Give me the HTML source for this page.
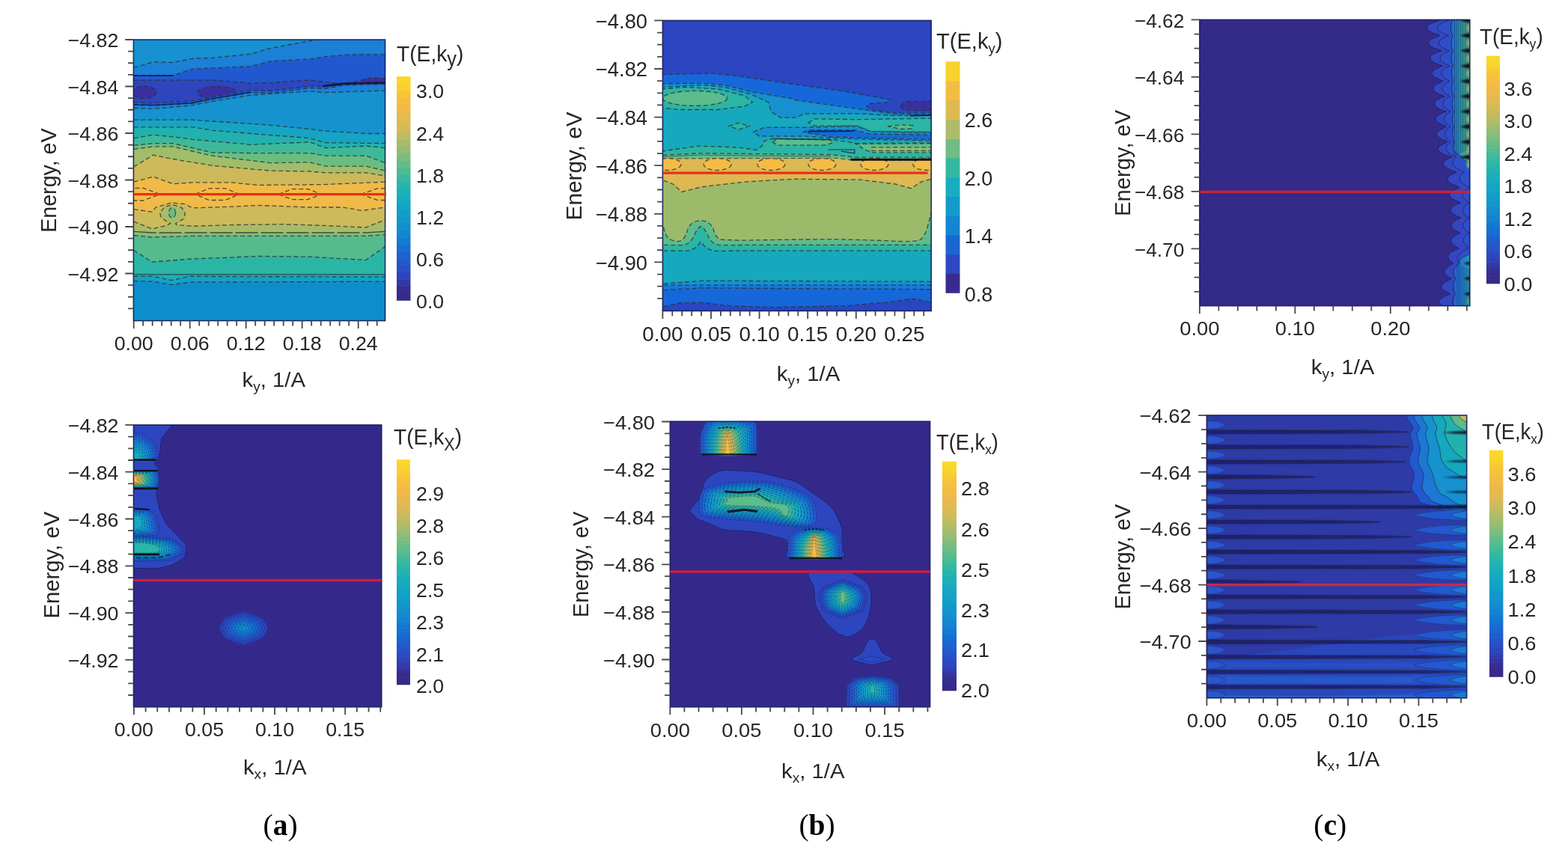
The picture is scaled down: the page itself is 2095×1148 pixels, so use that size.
<!DOCTYPE html>
<html lang="en"><head><meta charset="utf-8"><title>Transmission maps T(E,k)</title>
<style>
html,body{margin:0;padding:0;background:#fff;}
body{width:2095px;height:1148px;overflow:hidden;}
svg{display:block;font-family:'Liberation Sans', 'DejaVu Sans', sans-serif;}
</style></head><body>
<svg width="2095" height="1148" viewBox="0 0 2095 1148">
<rect width="2095" height="1148" fill="#fff"/>
<defs><filter id="blf" filterUnits="userSpaceOnUse" x="0" y="0" width="2095" height="1148"><feGaussianBlur stdDeviation="0.9"/></filter><filter id="bll" filterUnits="userSpaceOnUse" x="0" y="0" width="2095" height="1148"><feGaussianBlur stdDeviation="0.5"/></filter></defs>
<g id="plot1">
<clipPath id="cp1"><rect x="178.4" y="53" width="336.2" height="375.6"/></clipPath>
<g clip-path="url(#cp1)">
<rect x="174.4" y="49" width="344.2" height="383.6" fill="#1791d0"/>
<path d="M176.4 90.5 L178.7 90.5 L204.8 82.7 L231 83.6 L257.1 78.3 L283.2 77.5 L335.5 72.2 L361.6 64.4 L413.9 54.8 L422.6 52.2 L514.9 52.2 L516.6 52.2 L516.6 430.6 L176.4 430.6Z" fill="#1a80d6" filter="url(#blf)"/>
<path d="M178.7 90.5 L204.8 82.7 L231 83.6 L257.1 78.3 L283.2 77.5 L335.5 72.2 L361.6 64.4 L413.9 54.8 L422.6 52.2 L514.9 52.2" fill="none" stroke="#2a3030" stroke-width="1.3" stroke-opacity="0.8" stroke-dasharray="6 3.5"/>
<path d="M176.4 101 L178.7 101 L231 101 L257.1 92.3 L335.5 88.8 L361.6 81.8 L413.9 79.2 L434.8 75.7 L466.2 73.1 L514.9 73.1 L516.6 73.1 L516.6 430.6 L176.4 430.6Z" fill="#2259cf" filter="url(#blf)"/>
<path d="M178.7 101 L231 101 L257.1 92.3 L335.5 88.8 L361.6 81.8 L413.9 79.2 L434.8 75.7 L466.2 73.1 L514.9 73.1" fill="none" stroke="#2a3030" stroke-width="1.3" stroke-opacity="0.8" stroke-dasharray="6 3.5"/>
<path d="M176.4 107.1 L178.7 107.1 L283.2 107.1 L335.5 111.4 L361.6 110.6 L413.9 107.1 L434.8 109.7 L457.5 112.3 L488.8 106.2 L514.9 105.3 L516.6 105.3 L516.6 430.6 L176.4 430.6Z" fill="#2f45be" filter="url(#blf)"/>
<path d="M178.7 107.1 L283.2 107.1 L335.5 111.4 L361.6 110.6 L413.9 107.1 L434.8 109.7 L457.5 112.3 L488.8 106.2 L514.9 105.3" fill="none" stroke="#2a3030" stroke-width="1.3" stroke-opacity="0.8" stroke-dasharray="6 3.5"/>
<ellipse cx="192.6" cy="123.3" rx="16" ry="8" fill="#3a2f9e" filter="url(#blf)"/>
<ellipse cx="192.6" cy="123.3" rx="16" ry="8" fill="none" stroke="#2a3030" stroke-width="1.3" stroke-opacity="0.8" stroke-dasharray="6 3.5"/>
<ellipse cx="290.2" cy="123.6" rx="26" ry="8" fill="#3a2f9e" filter="url(#blf)"/>
<ellipse cx="290.2" cy="123.6" rx="26" ry="8" fill="none" stroke="#2a3030" stroke-width="1.3" stroke-opacity="0.8" stroke-dasharray="6 3.5"/>
<ellipse cx="501" cy="108.8" rx="18" ry="4.5" fill="#3a2f9e" filter="url(#blf)"/>
<ellipse cx="501" cy="108.8" rx="18" ry="4.5" fill="none" stroke="#2a3030" stroke-width="1.3" stroke-opacity="0.8" stroke-dasharray="6 3.5"/>
<path d="M176.4 136.7 L178.7 136.7 L204.8 137.6 L257.1 134.9 L283.2 129.7 L335.5 120.1 L361.6 121 L413.9 114.9 L434.8 114.9 L457.5 111.4 L514.9 110.6 L516.6 110.6 L516.6 430.6 L176.4 430.6Z" fill="#2259cf" filter="url(#blf)"/>
<path d="M178.7 136.7 L204.8 137.6 L257.1 134.9 L283.2 129.7 L335.5 120.1 L361.6 121 L413.9 114.9 L434.8 114.9 L457.5 111.4 L514.9 110.6" fill="none" stroke="#2a3030" stroke-width="1.3" stroke-opacity="0.8" stroke-dasharray="6 3.5"/>
<path d="M176.4 140.2 L178.7 140.2 L204.8 141 L257.1 137.9 L283.2 132.3 L335.5 123.6 L361.6 124.5 L413.9 117.5 L434.8 118.4 L457.5 114 L514.9 112.3 L516.6 112.3 L516.6 430.6 L176.4 430.6Z" fill="#1a80d6" filter="url(#blf)"/>
<path d="M178.7 140.2 L204.8 141 L257.1 137.9 L283.2 132.3 L335.5 123.6 L361.6 124.5 L413.9 117.5 L434.8 118.4 L457.5 114 L514.9 112.3" fill="none" stroke="#2a3030" stroke-width="1.3" stroke-opacity="0.8" stroke-dasharray="6 3.5"/>
<path d="M176.4 144.5 L178.7 144.5 L204.8 145.4 L257.1 140.7 L283.2 135.5 L335.5 127.1 L413.9 121.9 L434.8 123.6 L514.9 121 L516.6 121 L516.6 430.6 L176.4 430.6Z" fill="#1592cf" filter="url(#blf)"/>
<path d="M178.7 144.5 L204.8 145.4 L257.1 140.7 L283.2 135.5 L335.5 127.1 L413.9 121.9 L434.8 123.6 L514.9 121" fill="none" stroke="#2a3030" stroke-width="1.3" stroke-opacity="0.8" stroke-dasharray="6 3.5"/>
<path d="M178.7 101.3 L231 101.3" fill="none" stroke="#0a1030" stroke-width="1.6" stroke-opacity="0.8" filter="url(#bll)"/>
<path d="M431.3 115.3 L457.5 112 L488.8 111.1 L514.9 110.7" fill="none" stroke="#0a0c20" stroke-width="2.4" stroke-opacity="0.85" filter="url(#bll)"/>
<path d="M178.7 139.7 L204.8 140.5 L257.1 137.6 L283.2 132 L335.5 122.9" fill="none" stroke="#0a1030" stroke-width="1.6" stroke-opacity="0.6" filter="url(#bll)"/>
<path d="M176.4 160.2 L178.7 160.2 L257.1 160.2 L283.2 162 L335.5 165.4 L361.6 167.2 L413.9 172.4 L434.8 175 L488.8 178.5 L514.9 178.5 L516.6 178.5 L516.6 430.6 L176.4 430.6Z" fill="#13a4c5" filter="url(#blf)"/>
<path d="M178.7 160.2 L257.1 160.2 L283.2 162 L335.5 165.4 L361.6 167.2 L413.9 172.4 L434.8 175 L488.8 178.5 L514.9 178.5" fill="none" stroke="#2a3030" stroke-width="1.3" stroke-opacity="0.8" stroke-dasharray="6 3.5"/>
<path d="M176.4 169.8 L178.7 169.8 L257.1 169.8 L283.2 174.1 L335.5 178.5 L413.9 184.6 L434.8 190.7 L514.9 191.6 L516.6 191.6 L516.6 430.6 L176.4 430.6Z" fill="#22b1ae" filter="url(#blf)"/>
<path d="M178.7 169.8 L257.1 169.8 L283.2 174.1 L335.5 178.5 L413.9 184.6 L434.8 190.7 L514.9 191.6" fill="none" stroke="#2a3030" stroke-width="1.3" stroke-opacity="0.8" stroke-dasharray="6 3.5"/>
<path d="M176.4 184.6 L178.7 184.6 L204.8 180.2 L231 182.9 L257.1 186.3 L335.5 193.3 L413.9 189.8 L434.8 197.7 L488.8 195.1 L514.9 197.7 L516.6 197.7 L516.6 430.6 L176.4 430.6Z" fill="#3db99a" filter="url(#blf)"/>
<path d="M178.7 184.6 L204.8 180.2 L231 182.9 L257.1 186.3 L335.5 193.3 L413.9 189.8 L434.8 197.7 L488.8 195.1 L514.9 197.7" fill="none" stroke="#2a3030" stroke-width="1.3" stroke-opacity="0.8" stroke-dasharray="6 3.5"/>
<path d="M176.4 194.2 L178.7 194.2 L204.8 191.6 L231 191.6 L257.1 197.7 L283.2 203.8 L335.5 204.6 L413.9 204.6 L434.8 208.1 L488.8 208.1 L514.9 217.7 L516.6 217.7 L516.6 430.6 L176.4 430.6Z" fill="#6bbd80" filter="url(#blf)"/>
<path d="M178.7 194.2 L204.8 191.6 L231 191.6 L257.1 197.7 L283.2 203.8 L335.5 204.6 L413.9 204.6 L434.8 208.1 L488.8 208.1 L514.9 217.7" fill="none" stroke="#2a3030" stroke-width="1.3" stroke-opacity="0.8" stroke-dasharray="6 3.5"/>
<path d="M176.4 199.4 L178.7 199.4 L204.8 195.9 L231 195.9 L257.1 202 L283.2 208.1 L361.6 217.7 L413.9 216.8 L434.8 222.1 L488.8 222.1 L514.9 228.2 L516.6 228.2 L516.6 430.6 L176.4 430.6Z" fill="#a0bd6a" filter="url(#blf)"/>
<path d="M178.7 199.4 L204.8 195.9 L231 195.9 L257.1 202 L283.2 208.1 L361.6 217.7 L413.9 216.8 L434.8 222.1 L488.8 222.1 L514.9 228.2" fill="none" stroke="#2a3030" stroke-width="1.3" stroke-opacity="0.8" stroke-dasharray="6 3.5"/>
<path d="M176.4 222.9 L178.7 222.9 L204.8 207.2 L231 212.5 L283.2 221.2 L361.6 228.2 L413.9 229 L434.8 230.8 L488.8 230.8 L514.9 235.1 L516.6 235.1 L516.6 430.6 L176.4 430.6Z" fill="#cdb95a" filter="url(#blf)"/>
<path d="M178.7 222.9 L204.8 207.2 L231 212.5 L283.2 221.2 L361.6 228.2 L413.9 229 L434.8 230.8 L488.8 230.8 L514.9 235.1" fill="none" stroke="#2a3030" stroke-width="1.3" stroke-opacity="0.8" stroke-dasharray="6 3.5"/>
<path d="M176.4 243.1 L178.7 243.1 L204.8 236.1 L231 245.7 L257.1 243.9 L309.4 243.9 L344.2 247.4 L431.3 246.6 L514.9 243.1 L516.6 243.1 L516.6 430.6 L176.4 430.6Z" fill="#f0ba4a" filter="url(#blf)"/>
<path d="M178.7 243.1 L204.8 236.1 L231 245.7 L257.1 243.9 L309.4 243.9 L344.2 247.4 L431.3 246.6 L514.9 243.1" fill="none" stroke="#2a3030" stroke-width="1.3" stroke-opacity="0.8" stroke-dasharray="6 3.5"/>
<path d="M143.9 259.6 L166.2 251.3 L191.3 251.3 L213.6 259.6 L191.3 268 L166.2 268Z" fill="#f6bc42" filter="url(#blf)"/>
<path d="M143.9 259.6 L166.2 251.3 L191.3 251.3 L213.6 259.6 L191.3 268 L166.2 268Z" fill="none" stroke="#2a3030" stroke-width="1.3" stroke-opacity="0.8" stroke-dasharray="6 3.5"/>
<path d="M260.6 259.6 L279.5 251.8 L300.9 251.8 L319.8 259.6 L300.9 267.5 L279.5 267.5Z" fill="#f6bc42" filter="url(#blf)"/>
<path d="M260.6 259.6 L279.5 251.8 L300.9 251.8 L319.8 259.6 L300.9 267.5 L279.5 267.5Z" fill="none" stroke="#2a3030" stroke-width="1.3" stroke-opacity="0.8" stroke-dasharray="6 3.5"/>
<path d="M372.1 259.6 L390.5 252.6 L411.2 252.6 L429.6 259.6 L411.2 266.6 L390.5 266.6Z" fill="#f6bc42" filter="url(#blf)"/>
<path d="M372.1 259.6 L390.5 252.6 L411.2 252.6 L429.6 259.6 L411.2 266.6 L390.5 266.6Z" fill="none" stroke="#2a3030" stroke-width="1.3" stroke-opacity="0.8" stroke-dasharray="6 3.5"/>
<path d="M481.8 259.6 L504.7 251.8 L530.4 251.8 L553.3 259.6 L530.4 267.5 L504.7 267.5Z" fill="#f6bc42" filter="url(#blf)"/>
<path d="M481.8 259.6 L504.7 251.8 L530.4 251.8 L553.3 259.6 L530.4 267.5 L504.7 267.5Z" fill="none" stroke="#2a3030" stroke-width="1.3" stroke-opacity="0.8" stroke-dasharray="6 3.5"/>
<path d="M176.4 279.7 L178.7 279.7 L203.1 283.1 L208.3 277 L229.2 270.9 L246.7 272.7 L257.1 277.9 L309.4 276.2 L344.2 274.4 L413.9 277 L457.5 277 L483.6 281.4 L514.9 277 L516.6 277 L516.6 430.6 L176.4 430.6Z" fill="#cdba5a" filter="url(#blf)"/>
<path d="M178.7 279.7 L203.1 283.1 L208.3 277 L229.2 270.9 L246.7 272.7 L257.1 277.9 L309.4 276.2 L344.2 274.4 L413.9 277 L457.5 277 L483.6 281.4 L514.9 277" fill="none" stroke="#2a3030" stroke-width="1.3" stroke-opacity="0.8" stroke-dasharray="6 3.5"/>
<path d="M176.4 296.2 L178.7 296.2 L203.1 305.8 L222.3 301.4 L227.5 298.8 L215.3 291 L213.6 284 L220.5 276.2 L231 273.6 L243.2 277.9 L247.5 285.7 L244.9 292.7 L234.5 298.8 L236.2 300.6 L257.1 302.3 L309.4 300.6 L379.1 299.7 L431.3 301.4 L488.8 304 L514.9 293.6 L516.6 293.6 L516.6 430.6 L176.4 430.6Z" fill="#a8bc68" filter="url(#blf)"/>
<path d="M178.7 296.2 L203.1 305.8 L222.3 301.4 L227.5 298.8 L215.3 291 L213.6 284 L220.5 276.2 L231 273.6 L243.2 277.9 L247.5 285.7 L244.9 292.7 L234.5 298.8 L236.2 300.6 L257.1 302.3 L309.4 300.6 L379.1 299.7 L431.3 301.4 L488.8 304 L514.9 293.6" fill="none" stroke="#2a3030" stroke-width="1.3" stroke-opacity="0.8" stroke-dasharray="6 3.5"/>
<ellipse cx="230.1" cy="284.4" rx="4.5" ry="6.5" fill="#62bc88" filter="url(#blf)"/>
<ellipse cx="230.1" cy="284.4" rx="4.5" ry="6.5" fill="none" stroke="#2a3030" stroke-width="1.3" stroke-opacity="0.8" stroke-dasharray="6 3.5"/>
<path d="M176.4 309.3 L178.7 309.3 L203.1 311 L488.8 311 L514.9 309.3 L516.6 309.3 L516.6 430.6 L176.4 430.6Z" fill="#85bd78" filter="url(#blf)"/>
<path d="M178.7 309.3 L203.1 311 L488.8 311 L514.9 309.3" fill="none" stroke="#2a3030" stroke-width="1.3" stroke-opacity="0.8" stroke-dasharray="30 4"/>
<path d="M176.4 314.5 L178.7 314.5 L203.1 317.1 L257.1 315.4 L488.8 315.4 L514.9 313.6 L516.6 313.6 L516.6 430.6 L176.4 430.6Z" fill="#55bb8e" filter="url(#blf)"/>
<path d="M178.7 314.5 L203.1 317.1 L257.1 315.4 L488.8 315.4 L514.9 313.6" fill="none" stroke="#2a3030" stroke-width="1.3" stroke-opacity="0.8" stroke-dasharray="6 3.5"/>
<path d="M176.4 334.5 L178.7 334.5 L203.1 350.2 L257.1 345.9 L309.4 344.1 L344.2 342.4 L413.9 343.2 L488.8 347.6 L514.9 329.3 L516.6 329.3 L516.6 430.6 L176.4 430.6Z" fill="#2cb5a5" filter="url(#blf)"/>
<path d="M178.7 334.5 L203.1 350.2 L257.1 345.9 L309.4 344.1 L344.2 342.4 L413.9 343.2 L488.8 347.6 L514.9 329.3" fill="none" stroke="#2a3030" stroke-width="1.3" stroke-opacity="0.8" stroke-dasharray="6 3.5"/>
<path d="M176.4 366.8 L178.7 366.8 L514.9 366.8 L516.6 366.8 L516.6 430.6 L176.4 430.6Z" fill="#1aaeb8" filter="url(#blf)"/>
<path d="M178.7 366.8 L514.9 366.8" fill="none" stroke="#2a3030" stroke-width="1.2" stroke-opacity="0.8"/>
<path d="M176.4 369.4 L178.7 369.4 L204.8 369.4 L229.2 374.6 L253.6 369.4 L514.9 370.2 L516.6 370.2 L516.6 430.6 L176.4 430.6Z" fill="#15a0c6" filter="url(#blf)"/>
<path d="M178.7 369.4 L204.8 369.4 L229.2 374.6 L253.6 369.4 L514.9 370.2" fill="none" stroke="#2a3030" stroke-width="1.3" stroke-opacity="0.8" stroke-dasharray="6 3.5"/>
<path d="M176.4 375.5 L178.7 375.5 L204.8 376.3 L229.2 380.7 L253.6 377.2 L514.9 376.3 L516.6 376.3 L516.6 430.6 L176.4 430.6Z" fill="#0d8ecb" filter="url(#blf)"/>
<path d="M178.7 375.5 L204.8 376.3 L229.2 380.7 L253.6 377.2 L514.9 376.3" fill="none" stroke="#2a3030" stroke-width="1.3" stroke-opacity="0.8" stroke-dasharray="6 3.5"/>
</g>
<rect x="178.4" y="53" width="336.2" height="375.6" fill="none" stroke="#141c58" stroke-width="1.6" stroke-opacity="0.9"/>
</g>
<path d="M178.7 259.6H516" stroke="#e8301a" stroke-width="3.4" fill="none"/>
<path d="M167.2 53H178.4M167.2 115.5H178.4M167.2 178H178.4M167.2 240.5H178.4M167.2 303H178.4M167.2 365.5H178.4M171.1 68.625H178.4M171.1 84.25H178.4M171.1 99.875H178.4M171.1 131.125H178.4M171.1 146.75H178.4M171.1 162.375H178.4M171.1 193.625H178.4M171.1 209.25H178.4M171.1 224.875H178.4M171.1 256.125H178.4M171.1 271.75H178.4M171.1 287.375H178.4M171.1 318.625H178.4M171.1 334.25H178.4M171.1 349.875H178.4M171.1 381.125H178.4M171.1 396.75H178.4M171.1 412.375H178.4" stroke="#484848" stroke-width="1.8" fill="none"/>
<text transform="translate(158.3 63.008) scale(1.03 1)" font-size="26" text-anchor="end" fill="#262626">−4.82</text>
<text transform="translate(158.3 125.508) scale(1.03 1)" font-size="26" text-anchor="end" fill="#262626">−4.84</text>
<text transform="translate(158.3 188.008) scale(1.03 1)" font-size="26" text-anchor="end" fill="#262626">−4.86</text>
<text transform="translate(158.3 250.508) scale(1.03 1)" font-size="26" text-anchor="end" fill="#262626">−4.88</text>
<text transform="translate(158.3 313.008) scale(1.03 1)" font-size="26" text-anchor="end" fill="#262626">−4.90</text>
<text transform="translate(158.3 375.508) scale(1.03 1)" font-size="26" text-anchor="end" fill="#262626">−4.92</text>
<path d="M178.7 428.6V439.1M253.7 428.6V439.1M328.7 428.6V439.1M403.7 428.6V439.1M478.7 428.6V439.1M191.2 428.6V435.4M203.7 428.6V435.4M216.2 428.6V435.4M228.7 428.6V435.4M241.2 428.6V435.4M266.2 428.6V435.4M278.7 428.6V435.4M291.2 428.6V435.4M303.7 428.6V435.4M316.2 428.6V435.4M341.2 428.6V435.4M353.7 428.6V435.4M366.2 428.6V435.4M378.7 428.6V435.4M391.2 428.6V435.4M416.2 428.6V435.4M428.7 428.6V435.4M441.2 428.6V435.4M453.7 428.6V435.4M466.2 428.6V435.4M491.2 428.6V435.4M503.7 428.6V435.4" stroke="#484848" stroke-width="1.8" fill="none"/>
<text transform="translate(178.7 467.8) scale(1.03 1)" font-size="26" text-anchor="middle" fill="#262626">0.00</text>
<text transform="translate(253.7 467.8) scale(1.03 1)" font-size="26" text-anchor="middle" fill="#262626">0.06</text>
<text transform="translate(328.7 467.8) scale(1.03 1)" font-size="26" text-anchor="middle" fill="#262626">0.12</text>
<text transform="translate(403.7 467.8) scale(1.03 1)" font-size="26" text-anchor="middle" fill="#262626">0.18</text>
<text transform="translate(478.7 467.8) scale(1.03 1)" font-size="26" text-anchor="middle" fill="#262626">0.24</text>
<text transform="translate(75.3 241.1) rotate(-90) scale(0.97 1)" font-size="29.5" text-anchor="middle" fill="#262626">Energy, eV</text>
<text transform="translate(365.8 517.1) scale(1.03 1)" font-size="28.5" text-anchor="middle" fill="#262626">k<tspan font-size="18.5" dy="6">y</tspan><tspan dy="-6">, 1/A</tspan></text>
<rect x="530" y="391.86" width="18.5" height="9.94" fill="#362b89"/>
<rect x="530" y="382.51" width="18.5" height="9.94" fill="#372d8e"/>
<rect x="530" y="373.17" width="18.5" height="9.94" fill="#3338a5"/>
<rect x="530" y="363.82" width="18.5" height="9.94" fill="#2f43ba"/>
<rect x="530" y="354.48" width="18.5" height="9.94" fill="#294ec5"/>
<rect x="530" y="345.14" width="18.5" height="9.94" fill="#2359cc"/>
<rect x="530" y="335.79" width="18.5" height="9.94" fill="#1d64d0"/>
<rect x="530" y="326.45" width="18.5" height="9.94" fill="#1770d1"/>
<rect x="530" y="317.11" width="18.5" height="9.94" fill="#147bd1"/>
<rect x="530" y="307.76" width="18.5" height="9.94" fill="#1486d0"/>
<rect x="530" y="298.42" width="18.5" height="9.94" fill="#148fce"/>
<rect x="530" y="289.07" width="18.5" height="9.94" fill="#1397cb"/>
<rect x="530" y="279.73" width="18.5" height="9.94" fill="#129ec9"/>
<rect x="530" y="270.39" width="18.5" height="9.94" fill="#14a4c4"/>
<rect x="530" y="261.04" width="18.5" height="9.94" fill="#17abbf"/>
<rect x="530" y="251.70" width="18.5" height="9.94" fill="#1db0b6"/>
<rect x="530" y="242.36" width="18.5" height="9.94" fill="#27b5ab"/>
<rect x="530" y="233.01" width="18.5" height="9.94" fill="#38b89f"/>
<rect x="530" y="223.67" width="18.5" height="9.94" fill="#4dbb93"/>
<rect x="530" y="214.32" width="18.5" height="9.94" fill="#64bc88"/>
<rect x="530" y="204.98" width="18.5" height="9.94" fill="#7cbd7e"/>
<rect x="530" y="195.64" width="18.5" height="9.94" fill="#93bd74"/>
<rect x="530" y="186.29" width="18.5" height="9.94" fill="#a9bc6a"/>
<rect x="530" y="176.95" width="18.5" height="9.94" fill="#bdbc61"/>
<rect x="530" y="167.61" width="18.5" height="9.94" fill="#d0ba5a"/>
<rect x="530" y="158.26" width="18.5" height="9.94" fill="#deba53"/>
<rect x="530" y="148.92" width="18.5" height="9.94" fill="#e8b94e"/>
<rect x="530" y="139.57" width="18.5" height="9.94" fill="#f1ba48"/>
<rect x="530" y="130.23" width="18.5" height="9.94" fill="#f5be41"/>
<rect x="530" y="120.89" width="18.5" height="9.94" fill="#f8c538"/>
<rect x="530" y="111.54" width="18.5" height="9.94" fill="#f9d02f"/>
<rect x="530" y="102.20" width="18.5" height="9.94" fill="#fad72a"/>
<text transform="translate(556 131.308) scale(1.03 1)" font-size="26" text-anchor="start" fill="#262626">3.0</text>
<text transform="translate(556 187.808) scale(1.03 1)" font-size="26" text-anchor="start" fill="#262626">2.4</text>
<text transform="translate(556 244.308) scale(1.03 1)" font-size="26" text-anchor="start" fill="#262626">1.8</text>
<text transform="translate(556 300.308) scale(1.03 1)" font-size="26" text-anchor="start" fill="#262626">1.2</text>
<text transform="translate(556 356.308) scale(1.03 1)" font-size="26" text-anchor="start" fill="#262626">0.6</text>
<text transform="translate(556 412.308) scale(1.03 1)" font-size="26" text-anchor="start" fill="#262626">0.0</text>
<text transform="translate(530 82) scale(0.94 1)" font-size="30" text-anchor="start" fill="#262626">T(E,k<tspan font-size="27" dy="6">y</tspan><tspan dy="-6">)</tspan></text>
<g id="plot2">
<clipPath id="cp2"><rect x="885.4" y="27.4" width="358.8" height="388.1"/></clipPath>
<g clip-path="url(#cp2)">
<rect x="881.4" y="23.4" width="366.8" height="396.1" fill="#2c45c0"/>
<path d="M883.5 99.6 L950.7 97.8 L986.1 101.4 L1056.9 112 L1127.6 121.7 L1189.5 133.2 L1187.7 136.7 L1163 138.5 L1157.7 142 L1163 146.5 L1198.4 150.9 L1246.1 150.9 L1246.1 214.6 L883.5 214.6Z" fill="#1268da" filter="url(#blf)"/>
<path d="M883.5 99.6 L950.7 97.8 L986.1 101.4 L1056.9 112 L1127.6 121.7 L1189.5 133.2 L1187.7 136.7 L1163 138.5 L1157.7 142 L1163 146.5 L1198.4 150.9 L1246.1 150.9 L1246.1 214.6 L883.5 214.6Z" fill="none" stroke="#2a3030" stroke-width="1.3" stroke-opacity="0.8" stroke-dasharray="6 3.5"/>
<path d="M1203.7 142 C1204.3 140.5 1206.3 137.7 1210.7 136.7 C1215.1 135.7 1224.3 135.8 1230.2 135.8 C1236.1 135.8 1243.4 134.9 1246.1 136.7 C1248.8 138.5 1251.1 144.7 1246.1 146.5 C1241.1 148.3 1222.5 147.5 1216 147.3 C1209.5 147.2 1209.2 146.5 1207.2 145.6 C1205.2 144.7 1203.1 143.5 1203.7 142Z" fill="#3a2f9e" filter="url(#blf)"/>
<path d="M1203.7 142 C1204.3 140.5 1206.3 137.7 1210.7 136.7 C1215.1 135.7 1224.3 135.8 1230.2 135.8 C1236.1 135.8 1243.4 134.9 1246.1 136.7 C1248.8 138.5 1251.1 144.7 1246.1 146.5 C1241.1 148.3 1222.5 147.5 1216 147.3 C1209.5 147.2 1209.2 146.5 1207.2 145.6 C1205.2 144.7 1203.1 143.5 1203.7 142Z" fill="none" stroke="#2a3030" stroke-width="1.3" stroke-opacity="0.8" stroke-dasharray="6 3.5"/>
<path d="M883.5 112 L938.4 111.1 L968.4 113.7 L1003.8 122.6 L1056.9 131.4 L1065.7 134.1 L1154.1 146.5 L1198.4 152.6 L1246.1 152.6 L1246.1 214.6 L883.5 214.6Z" fill="#1590cf" filter="url(#blf)"/>
<path d="M883.5 112 L938.4 111.1 L968.4 113.7 L1003.8 122.6 L1056.9 131.4 L1065.7 134.1 L1154.1 146.5 L1198.4 152.6 L1246.1 152.6 L1246.1 214.6 L883.5 214.6Z" fill="none" stroke="#2a3030" stroke-width="1.3" stroke-opacity="0.8" stroke-dasharray="6 3.5"/>
<path d="M883.5 116.4 L938.4 113.7 L968.4 116.4 L1003.8 126.1 L1026.8 136.7 L1030.3 149.1 L1042.7 157.1 L1063.9 157.1 L1074.6 151.8 L1145.3 151.8 L1198.4 154.4 L1246.1 154.4 L1246.1 214.6 L883.5 214.6Z" fill="#14a8bd" filter="url(#blf)"/>
<path d="M883.5 116.4 L938.4 113.7 L968.4 116.4 L1003.8 126.1 L1026.8 136.7 L1030.3 149.1 L1042.7 157.1 L1063.9 157.1 L1074.6 151.8 L1145.3 151.8 L1198.4 154.4 L1246.1 154.4 L1246.1 214.6 L883.5 214.6Z" fill="none" stroke="#2a3030" stroke-width="1.3" stroke-opacity="0.8" stroke-dasharray="6 3.5"/>
<path d="M883.5 119 L915.4 116.4 L959.6 119 L995 127.9 L1005.6 136.7 L995 142 L959.6 146.5 L906.5 146.5 L883.5 143.8Z" fill="#2cb5a5" filter="url(#blf)"/>
<path d="M883.5 119 L915.4 116.4 L959.6 119 L995 127.9 L1005.6 136.7 L995 142 L959.6 146.5 L906.5 146.5 L883.5 143.8Z" fill="none" stroke="#2a3030" stroke-width="1.3" stroke-opacity="0.8" stroke-dasharray="6 3.5"/>
<ellipse cx="928.6" cy="131.4" rx="43" ry="10" fill="#5cbc8c" filter="url(#blf)"/>
<ellipse cx="928.6" cy="131.4" rx="43" ry="10" fill="none" stroke="#2a3030" stroke-width="1.3" stroke-opacity="0.8" stroke-dasharray="6 3.5"/>
<path d="M973.7 168.6 L987 164.1 L1001.2 168.6 L987 173Z" fill="#2cb5a5" filter="url(#blf)"/>
<path d="M973.7 168.6 L987 164.1 L1001.2 168.6 L987 173Z" fill="none" stroke="#2a3030" stroke-width="1.3" stroke-opacity="0.8" stroke-dasharray="6 3.5"/>
<path d="M1079.9 164.1 L1088.7 158.8 L1145.3 159.7 L1246.1 158 L1246.1 176.5 L1163 175.6 L1145.3 168.2 L1088.7 168.2Z" fill="#2cb5a5" filter="url(#blf)"/>
<path d="M1079.9 164.1 L1088.7 158.8 L1145.3 159.7 L1246.1 158 L1246.1 176.5 L1163 175.6 L1145.3 168.2 L1088.7 168.2Z" fill="none" stroke="#2a3030" stroke-width="1.3" stroke-opacity="0.8" stroke-dasharray="6 3.5"/>
<path d="M1186 168.9 L1203.7 166.8 L1219.6 167.7 L1217.8 172.1 L1203.7 172.5Z" fill="#5cbc8c" filter="url(#blf)"/>
<path d="M1186 168.9 L1203.7 166.8 L1219.6 167.7 L1217.8 172.1 L1203.7 172.5Z" fill="none" stroke="#2a3030" stroke-width="1.3" stroke-opacity="0.8" stroke-dasharray="6 3.5"/>
<path d="M1006.5 176.5 L1021.5 170.3 L1074.6 170.3 L1145.3 168.6 L1163 176 L1246.1 177.4 L1246.1 188 L1163 186.3 L1109.9 184.5 L1074.6 181.8 L1014.4 181.8Z" fill="#1590cf" filter="url(#blf)"/>
<path d="M1006.5 176.5 L1021.5 170.3 L1074.6 170.3 L1145.3 168.6 L1163 176 L1246.1 177.4 L1246.1 188 L1163 186.3 L1109.9 184.5 L1074.6 181.8 L1014.4 181.8Z" fill="none" stroke="#2a3030" stroke-width="1.3" stroke-opacity="0.8" stroke-dasharray="6 3.5"/>
<path d="M1072.8 176.5 L1083.4 173.9 L1141.8 173.9 L1163 179.2 L1246.1 180.1 L1246.1 186.3 L1163 184.5 L1109.9 182.7Z" fill="#1268da" filter="url(#blf)"/>
<path d="M1072.8 176.5 L1083.4 173.9 L1141.8 173.9 L1163 179.2 L1246.1 180.1 L1246.1 186.3 L1163 184.5 L1109.9 182.7Z" fill="none" stroke="#2a3030" stroke-width="1.3" stroke-opacity="0.8" stroke-dasharray="6 3.5"/>
<path d="M883.5 202.2 L933.1 195.1 L986.1 196.9 L1010.9 200.4 L1018 195.1 L1021.5 188 L1032.1 185.4 L1109.9 186.3 L1145.3 191.6 L1246.1 190.7 L1246.1 214.6 L883.5 214.6Z" fill="#2cb5a5" filter="url(#blf)"/>
<path d="M883.5 202.2 L933.1 195.1 L986.1 196.9 L1010.9 200.4 L1018 195.1 L1021.5 188 L1032.1 185.4 L1109.9 186.3 L1145.3 191.6 L1246.1 190.7 L1246.1 214.6 L883.5 214.6Z" fill="none" stroke="#2a3030" stroke-width="1.3" stroke-opacity="0.8" stroke-dasharray="6 3.5"/>
<path d="M1032.1 189.8 L1039.2 185.4 L1109.9 187.1 L1113.5 190.7 L1101.1 194.2 L1039.2 194.2Z" fill="#5cbc8c" filter="url(#blf)"/>
<path d="M1032.1 189.8 L1039.2 185.4 L1109.9 187.1 L1113.5 190.7 L1101.1 194.2 L1039.2 194.2Z" fill="none" stroke="#2a3030" stroke-width="1.3" stroke-opacity="0.8" stroke-dasharray="6 3.5"/>
<path d="M1143.5 192.4 L1246.1 191.6 L1246.1 203.9 L1166.5 203.9 L1155.9 200.4Z" fill="#5cbc8c" filter="url(#blf)"/>
<path d="M1143.5 192.4 L1246.1 191.6 L1246.1 203.9 L1166.5 203.9 L1155.9 200.4Z" fill="none" stroke="#2a3030" stroke-width="1.3" stroke-opacity="0.8" stroke-dasharray="6 3.5"/>
<path d="M1164.8 196.9 L1246.1 196.9 L1246.1 201.3 L1164.8 201.3Z" fill="#9cbb6a" filter="url(#blf)"/>
<path d="M1164.8 196.9 L1246.1 196.9 L1246.1 201.3 L1164.8 201.3Z" fill="none" stroke="#2a3030" stroke-width="1.3" stroke-opacity="0.8" stroke-dasharray="6 3.5"/>
<path d="M1106.4 200 L1141.8 200 L1141.8 204.8 L1124.1 202.2" fill="none" stroke="#1d2340" stroke-width="1.2" stroke-opacity="0.9" filter="url(#bll)"/>
<path d="M883.4 207.5 L885.7 207.5 L933.1 204.8 L1021.5 205.7 L1109.9 206.6 L1141.8 210.1 L1246.1 210.1 L1246.2 210.1 L1246.2 417.5 L883.4 417.5Z" fill="#5cbc8c" filter="url(#blf)"/>
<path d="M885.7 207.5 L933.1 204.8 L1021.5 205.7 L1109.9 206.6 L1141.8 210.1 L1246.1 210.1" fill="none" stroke="#2a3030" stroke-width="1.3" stroke-opacity="0.8" stroke-dasharray="6 3.5"/>
<path d="M885.7 209.6 L933.1 207.1 L1021.5 208.2 L1109.9 208.9" fill="none" stroke="#1d2340" stroke-width="0.8" stroke-opacity="0.7" filter="url(#bll)"/>
<path d="M883.4 211.9 L885.7 211.9 L1118.8 211.4 L1136.5 213.7 L1246.1 214.2 L1246.2 214.2 L1246.2 417.5 L883.4 417.5Z" fill="#ddb853" filter="url(#blf)"/>
<path d="M885.7 211.9 L1118.8 211.4 L1136.5 213.7 L1246.1 214.2" fill="none" stroke="#2a3030" stroke-width="1" stroke-opacity="0.85" stroke-dasharray="6 3.5"/>
<path d="M1079.9 175.6 L1141.8 175.3" fill="none" stroke="#0a1030" stroke-width="1.6" stroke-opacity="0.8" filter="url(#bll)"/>
<path d="M1032.1 185.4 L1109.9 186.6" fill="none" stroke="#0a1030" stroke-width="1.4" stroke-opacity="0.7" filter="url(#bll)"/>
<path d="M1216 154.4 L1246.1 153.9" fill="none" stroke="#0a1030" stroke-width="2" stroke-opacity="0.8" filter="url(#bll)"/>
<ellipse cx="891.5" cy="219.5" rx="18.5" ry="8" fill="#f6bb44" filter="url(#blf)"/>
<ellipse cx="891.5" cy="219.5" rx="18.5" ry="8" fill="none" stroke="#2a3030" stroke-width="1.3" stroke-opacity="0.8" stroke-dasharray="6 3.5"/>
<ellipse cx="958.6" cy="219.5" rx="18.5" ry="8" fill="#f6bb44" filter="url(#blf)"/>
<ellipse cx="958.6" cy="219.5" rx="18.5" ry="8" fill="none" stroke="#2a3030" stroke-width="1.3" stroke-opacity="0.8" stroke-dasharray="6 3.5"/>
<ellipse cx="1030.4" cy="219.5" rx="18.5" ry="8" fill="#f6bb44" filter="url(#blf)"/>
<ellipse cx="1030.4" cy="219.5" rx="18.5" ry="8" fill="none" stroke="#2a3030" stroke-width="1.3" stroke-opacity="0.8" stroke-dasharray="6 3.5"/>
<ellipse cx="1098.4" cy="219.5" rx="18.5" ry="8" fill="#f6bb44" filter="url(#blf)"/>
<ellipse cx="1098.4" cy="219.5" rx="18.5" ry="8" fill="none" stroke="#2a3030" stroke-width="1.3" stroke-opacity="0.8" stroke-dasharray="6 3.5"/>
<ellipse cx="1168.4" cy="219.5" rx="18.5" ry="8" fill="#f6bb44" filter="url(#blf)"/>
<ellipse cx="1168.4" cy="219.5" rx="18.5" ry="8" fill="none" stroke="#2a3030" stroke-width="1.3" stroke-opacity="0.8" stroke-dasharray="6 3.5"/>
<ellipse cx="1238.3" cy="219.5" rx="18.5" ry="8" fill="#f6bb44" filter="url(#blf)"/>
<ellipse cx="1238.3" cy="219.5" rx="18.5" ry="8" fill="none" stroke="#2a3030" stroke-width="1.3" stroke-opacity="0.8" stroke-dasharray="6 3.5"/>
<path d="M1136.5 213.3 L1246.1 213.3" fill="none" stroke="#0a0a14" stroke-width="3" stroke-opacity="0.95" filter="url(#bll)"/>
<path d="M883.4 241.2 L886.7 241.2 L899.2 246 L910.7 256.5 L937.5 249.8 L995 243.1 L1062 239.3 L1148.3 240.2 L1196.2 246 L1217.2 251.7 L1230.6 243.1 L1244.1 239.3 L1246.2 239.3 L1246.2 417.5 L883.4 417.5Z" fill="#9cbb6a" filter="url(#blf)"/>
<path d="M886.7 241.2 L899.2 246 L910.7 256.5 L937.5 249.8 L995 243.1 L1062 239.3 L1148.3 240.2 L1196.2 246 L1217.2 251.7 L1230.6 243.1 L1244.1 239.3" fill="none" stroke="#2a3030" stroke-width="1.3" stroke-opacity="0.8" stroke-dasharray="6 3.5"/>
<path d="M883.4 303.5 C884.0 303.5 885.8 302.2 886.7 303.5 C887.6 304.8 887.5 308.6 888.6 311.1 C889.7 313.7 890.7 316.9 893.4 318.8 C896.1 320.7 901.7 322.4 904.9 322.6 C908.1 322.8 910.5 321.7 912.6 319.8 C914.7 317.9 916.1 313.8 917.4 311.1 C918.7 308.4 918.8 305.7 920.2 303.5 C921.6 301.3 923.4 299.1 926 297.7 C928.6 296.2 932.4 294.9 935.6 294.8 C938.8 294.7 942.4 295.4 945.1 296.8 C947.8 298.2 950.3 301.1 951.9 303.5 C953.5 305.9 953.3 308.5 954.7 311.1 C956.1 313.7 957.0 317.6 960.5 319.2 C964.0 320.8 970.0 320.4 975.8 320.7 C981.5 321.0 982.2 321.2 995 321.1 C1007.8 321.0 1033.2 320.5 1052.4 320.3 C1071.6 320.1 1090.7 319.7 1109.9 319.8 C1129.1 319.9 1151.4 320.6 1167.4 321.1 C1183.4 321.6 1196.4 322.5 1205.7 322.6 C1215.0 322.7 1218.7 322.5 1223 321.9 C1227.3 321.3 1229.2 320.9 1231.6 318.8 C1234.0 316.7 1235.7 313.0 1237.3 309.2 C1238.9 305.4 1240.1 299.9 1241.2 295.8 C1242.3 291.7 1243.3 286.2 1244.1 284.3 C1244.9 282.4 1245.8 284.3 1246.2 284.3 L1246.2 417.5 L883.4 417.5 Z" fill="#5cbc8c" filter="url(#blf)"/>
<path d="M886.7 303.5 C887.0 304.8 887.5 308.6 888.6 311.1 C889.7 313.7 890.7 316.9 893.4 318.8 C896.1 320.7 901.7 322.4 904.9 322.6 C908.1 322.8 910.5 321.7 912.6 319.8 C914.7 317.9 916.1 313.8 917.4 311.1 C918.7 308.4 918.8 305.7 920.2 303.5 C921.6 301.3 923.4 299.1 926 297.7 C928.6 296.2 932.4 294.9 935.6 294.8 C938.8 294.7 942.4 295.4 945.1 296.8 C947.8 298.2 950.3 301.1 951.9 303.5 C953.5 305.9 953.3 308.5 954.7 311.1 C956.1 313.7 957.0 317.6 960.5 319.2 C964.0 320.8 970.0 320.4 975.8 320.7 C981.5 321.0 982.2 321.2 995 321.1 C1007.8 321.0 1033.2 320.5 1052.4 320.3 C1071.6 320.1 1090.7 319.7 1109.9 319.8 C1129.1 319.9 1151.4 320.6 1167.4 321.1 C1183.4 321.6 1196.4 322.5 1205.7 322.6 C1215.0 322.7 1218.7 322.5 1223 321.9 C1227.3 321.3 1229.2 320.9 1231.6 318.8 C1234.0 316.7 1235.7 313.0 1237.3 309.2 C1238.9 305.4 1240.1 299.9 1241.2 295.8 C1242.3 291.7 1243.6 286.2 1244.1 284.3" fill="none" stroke="#2a3030" stroke-width="1.3" stroke-opacity="0.8" stroke-dasharray="6 3.5"/>
<path d="M883.4 327.4 C884.0 327.4 884.1 327.4 886.7 327.4 C889.3 327.4 894.9 327.6 899.2 327.6 C903.5 327.6 909.1 327.9 912.6 327.4 C916.1 326.9 918.0 326.1 920.2 324.5 C922.4 322.9 924.2 320.5 926 317.8 C927.8 315.1 929.0 310.9 930.8 308.3 C932.5 305.8 934.6 302.5 936.5 302.5 C938.4 302.5 940.5 305.8 942.3 308.3 C944.1 310.9 945.4 315.1 947.1 317.8 C948.9 320.5 950.6 322.9 952.8 324.5 C955.0 326.1 956.7 326.9 960.5 327.4 C964.3 327.9 966.9 327.6 975.8 327.6 C984.7 327.6 991.8 327.4 1014.1 327.4 C1036.5 327.4 1071.6 327.4 1109.9 327.4 C1148.2 327.4 1221.4 327.4 1244.1 327.4 C1266.8 327.4 1245.8 327.4 1246.2 327.4 L1246.2 417.5 L883.4 417.5 Z" fill="#2cb5a5" filter="url(#blf)"/>
<path d="M886.7 327.4 C888.8 327.4 894.9 327.6 899.2 327.6 C903.5 327.6 909.1 327.9 912.6 327.4 C916.1 326.9 918.0 326.1 920.2 324.5 C922.4 322.9 924.2 320.5 926 317.8 C927.8 315.1 929.0 310.9 930.8 308.3 C932.5 305.8 934.6 302.5 936.5 302.5 C938.4 302.5 940.5 305.8 942.3 308.3 C944.1 310.9 945.4 315.1 947.1 317.8 C948.9 320.5 950.6 322.9 952.8 324.5 C955.0 326.1 956.7 326.9 960.5 327.4 C964.3 327.9 966.9 327.6 975.8 327.6 C984.7 327.6 991.8 327.4 1014.1 327.4 C1036.5 327.4 1071.6 327.4 1109.9 327.4 C1148.2 327.4 1221.7 327.4 1244.1 327.4" fill="none" stroke="#2a3030" stroke-width="1.3" stroke-opacity="0.8" stroke-dasharray="6 3.5"/>
<path d="M883.4 335.1 C884.0 335.1 883.4 335.1 886.7 335.1 C890.0 335.1 897.7 335.3 903 335.3 C908.3 335.3 914.3 335.6 918.3 335.1 C922.3 334.7 924.5 333.8 926.9 332.6 C929.3 331.4 931.1 329.5 932.7 328 C934.3 326.5 935.2 323.6 936.5 323.6 C937.8 323.6 938.8 326.5 940.4 328 C942.0 329.5 943.4 331.4 946.1 332.6 C948.8 333.9 952.3 335.1 956.6 335.5 C960.9 335.9 962.4 335.4 972 335.3 C981.6 335.2 991.1 335.1 1014.1 335.1 C1037.1 335.1 1071.6 335.1 1109.9 335.1 C1148.2 335.1 1221.4 335.1 1244.1 335.1 C1266.8 335.1 1245.8 335.1 1246.2 335.1 L1246.2 417.5 L883.4 417.5 Z" fill="#14a8bd" filter="url(#blf)"/>
<path d="M886.7 335.1 C889.4 335.1 897.7 335.3 903 335.3 C908.3 335.3 914.3 335.6 918.3 335.1 C922.3 334.7 924.5 333.8 926.9 332.6 C929.3 331.4 931.1 329.5 932.7 328 C934.3 326.5 935.2 323.6 936.5 323.6 C937.8 323.6 938.8 326.5 940.4 328 C942.0 329.5 943.4 331.4 946.1 332.6 C948.8 333.9 952.3 335.1 956.6 335.5 C960.9 335.9 962.4 335.4 972 335.3 C981.6 335.2 991.1 335.1 1014.1 335.1 C1037.1 335.1 1071.6 335.1 1109.9 335.1 C1148.2 335.1 1221.7 335.1 1244.1 335.1" fill="none" stroke="#2a3030" stroke-width="1.3" stroke-opacity="0.8" stroke-dasharray="6 3.5"/>
<path d="M883.4 379.2 L886.7 379.2 L937.5 375.3 L1244.1 376.3 L1246.2 376.3 L1246.2 417.5 L883.4 417.5Z" fill="#1590cf" filter="url(#blf)"/>
<path d="M886.7 379.2 L937.5 375.3 L1244.1 376.3" fill="none" stroke="#2a3030" stroke-width="1.3" stroke-opacity="0.8" stroke-dasharray="6 3.5"/>
<path d="M883.4 381.1 L886.7 381.1 L1244.1 381.1 L1246.2 381.1 L1246.2 417.5 L883.4 417.5Z" fill="#1a78d6" filter="url(#blf)"/>
<path d="M886.7 381.1 L1244.1 381.1" fill="none" stroke="#2a3030" stroke-width="1.3" stroke-opacity="0.8" stroke-dasharray="6 3.5"/>
<path d="M883.4 387.8 L886.7 387.8 L937.5 384.9 L1244.1 386.8 L1246.2 386.8 L1246.2 417.5 L883.4 417.5Z" fill="#1268da" filter="url(#blf)"/>
<path d="M886.7 387.8 L937.5 384.9 L1244.1 386.8" fill="none" stroke="#2a3030" stroke-width="1.3" stroke-opacity="0.8" stroke-dasharray="6 3.5"/>
<path d="M883.4 409.8 L886.7 409.8 L908.7 405 L937.5 404.6 L975.8 408.9 L1033.3 410.8 L1129.1 408.9 L1186.6 404.1 L1219.1 399.3 L1244.1 404.1 L1246.2 404.1 L1246.2 417.5 L883.4 417.5Z" fill="#2c45c0" filter="url(#blf)"/>
<path d="M886.7 409.8 L908.7 405 L937.5 404.6 L975.8 408.9 L1033.3 410.8 L1129.1 408.9 L1186.6 404.1 L1219.1 399.3 L1244.1 404.1" fill="none" stroke="#2a3030" stroke-width="1.3" stroke-opacity="0.8" stroke-dasharray="6 3.5"/>
</g>
<rect x="885.4" y="27.4" width="358.8" height="388.1" fill="none" stroke="#141c58" stroke-width="1.6" stroke-opacity="0.9"/>
</g>
<path d="M886 231.2H1239.5" stroke="#e8301a" stroke-width="3.2" fill="none"/>
<path d="M874.2 27.4H885.4M874.2 92H885.4M874.2 156.6H885.4M874.2 221.2H885.4M874.2 285.8H885.4M874.2 350.4H885.4M878.1 43.55H885.4M878.1 59.7H885.4M878.1 75.85H885.4M878.1 108.15H885.4M878.1 124.3H885.4M878.1 140.45H885.4M878.1 172.75H885.4M878.1 188.9H885.4M878.1 205.05H885.4M878.1 237.35H885.4M878.1 253.5H885.4M878.1 269.65H885.4M878.1 301.95H885.4M878.1 318.1H885.4M878.1 334.25H885.4M878.1 366.55H885.4M878.1 382.7H885.4M878.1 398.85H885.4" stroke="#484848" stroke-width="1.8" fill="none"/>
<text x="865" y="37.8734" font-size="27.3" text-anchor="end" fill="#262626">−4.80</text>
<text x="865" y="102.473" font-size="27.3" text-anchor="end" fill="#262626">−4.82</text>
<text x="865" y="167.073" font-size="27.3" text-anchor="end" fill="#262626">−4.84</text>
<text x="865" y="231.673" font-size="27.3" text-anchor="end" fill="#262626">−4.86</text>
<text x="865" y="296.273" font-size="27.3" text-anchor="end" fill="#262626">−4.88</text>
<text x="865" y="360.873" font-size="27.3" text-anchor="end" fill="#262626">−4.90</text>
<path d="M885.4 415.5V426M950 415.5V426M1014.6 415.5V426M1079.2 415.5V426M1143.8 415.5V426M1208.4 415.5V426M898.32 415.5V422.3M911.24 415.5V422.3M924.16 415.5V422.3M937.08 415.5V422.3M962.92 415.5V422.3M975.84 415.5V422.3M988.76 415.5V422.3M1001.68 415.5V422.3M1027.52 415.5V422.3M1040.44 415.5V422.3M1053.36 415.5V422.3M1066.28 415.5V422.3M1092.12 415.5V422.3M1105.04 415.5V422.3M1117.96 415.5V422.3M1130.88 415.5V422.3M1156.72 415.5V422.3M1169.64 415.5V422.3M1182.56 415.5V422.3M1195.48 415.5V422.3M1221.32 415.5V422.3M1234.24 415.5V422.3" stroke="#484848" stroke-width="1.8" fill="none"/>
<text transform="translate(885.4 456.3) scale(1.02 1)" font-size="27.3" text-anchor="middle" fill="#262626">0.00</text>
<text transform="translate(950 456.3) scale(1.02 1)" font-size="27.3" text-anchor="middle" fill="#262626">0.05</text>
<text transform="translate(1014.6 456.3) scale(1.02 1)" font-size="27.3" text-anchor="middle" fill="#262626">0.10</text>
<text transform="translate(1079.2 456.3) scale(1.02 1)" font-size="27.3" text-anchor="middle" fill="#262626">0.15</text>
<text transform="translate(1143.8 456.3) scale(1.02 1)" font-size="27.3" text-anchor="middle" fill="#262626">0.20</text>
<text transform="translate(1208.4 456.3) scale(1.02 1)" font-size="27.3" text-anchor="middle" fill="#262626">0.25</text>
<text transform="translate(777.3 221.9) rotate(-90) scale(1.01 1)" font-size="29.5" text-anchor="middle" fill="#262626">Energy, eV</text>
<text transform="translate(1080 508.5) scale(1.03 1)" font-size="28.5" text-anchor="middle" fill="#262626">k<tspan font-size="18.5" dy="6">y</tspan><tspan dy="-6">, 1/A</tspan></text>
<rect x="1263.5" y="365.45" width="19" height="26.35" fill="#372c8d"/>
<rect x="1263.5" y="339.70" width="19" height="26.35" fill="#2c49c1"/>
<rect x="1263.5" y="313.95" width="19" height="26.35" fill="#1c66d1"/>
<rect x="1263.5" y="288.20" width="19" height="26.35" fill="#1485d0"/>
<rect x="1263.5" y="262.45" width="19" height="26.35" fill="#139aca"/>
<rect x="1263.5" y="236.70" width="19" height="26.35" fill="#17acbe"/>
<rect x="1263.5" y="210.95" width="19" height="26.35" fill="#34b8a1"/>
<rect x="1263.5" y="185.20" width="19" height="26.35" fill="#70bc83"/>
<rect x="1263.5" y="159.45" width="19" height="26.35" fill="#adbc69"/>
<rect x="1263.5" y="133.70" width="19" height="26.35" fill="#dcba54"/>
<rect x="1263.5" y="107.95" width="19" height="26.35" fill="#f3bc44"/>
<rect x="1263.5" y="82.20" width="19" height="26.35" fill="#f9d22d"/>
<text x="1288.8" y="170.166" font-size="27" text-anchor="start" fill="#262626">2.6</text>
<text x="1288.8" y="247.666" font-size="27" text-anchor="start" fill="#262626">2.0</text>
<text x="1288.8" y="325.166" font-size="27" text-anchor="start" fill="#262626">1.4</text>
<text x="1288.8" y="402.666" font-size="27" text-anchor="start" fill="#262626">0.8</text>
<text transform="translate(1251 65) scale(0.97 1)" font-size="30" text-anchor="start" fill="#262626">T(E,k<tspan font-size="19" dy="6">y</tspan><tspan dy="-6">)</tspan></text>
<g id="plot3">
<clipPath id="cp3"><rect x="1602.8" y="26.4" width="361" height="382.3"/></clipPath>
<g clip-path="url(#cp3)">
<rect x="1598.8" y="22.4" width="369" height="390.3" fill="#342a88"/>
<path d="M1905.5 20 L1906.8 21 L1908.5 22 L1910.5 23 L1912.8 24 L1915.5 25 L1918.7 26 L1922.7 27 L1920.6 28 L1917.3 29 L1914.6 30 L1912.3 31 L1910.4 32 L1908.8 33 L1907.6 34 L1906.7 35 L1906.1 36 L1905.9 37 L1906.1 38 L1906.6 39 L1907.4 40 L1908.6 41 L1910 42 L1911.8 43 L1914 44 L1916.4 45 L1919.3 46 L1922.8 47 L1923.2 48 L1919.8 49 L1917.1 50 L1914.8 51 L1912.9 52 L1911.3 53 L1910.1 54 L1909.1 55 L1908.5 56 L1908.2 57 L1908.3 58 L1908.7 59 L1909.4 60 L1910.4 61 L1911.7 62 L1913.3 63 L1915.2 64 L1917.4 65 L1920 66 L1923.1 67 L1926 68 L1922.3 69 L1919.6 70 L1917.3 71 L1915.4 72 L1913.8 73 L1912.5 74 L1911.6 75 L1910.9 76 L1910.6 77 L1910.5 78 L1910.8 79 L1911.4 80 L1912.2 81 L1913.4 82 L1914.8 83 L1916.6 84 L1918.6 85 L1920.9 86 L1923.6 87 L1927.3 88 L1924.7 89 L1922 90 L1919.7 91 L1917.9 92 L1916.3 93 L1915 94 L1914 95 L1913.3 96 L1912.9 97 L1912.8 98 L1913 99 L1913.4 100 L1914.1 101 L1915.1 102 L1916.4 103 L1917.9 104 L1919.7 105 L1921.9 106 L1924.3 107 L1927.4 108 L1927.1 109 L1924.3 110 L1922 111 L1920.1 112 L1918.5 113 L1917.1 114 L1916 115 L1915.2 116 L1914.7 117 L1914.5 118 L1914.5 119 L1914.9 120 L1915.5 121 L1916.4 122 L1917.6 123 L1919 124 L1920.7 125 L1922.7 126 L1925 127 L1927.8 128 L1929.7 129 L1926.5 130 L1924.2 131 L1922.2 132 L1920.5 133 L1919.1 134 L1917.9 135 L1917.1 136 L1916.5 137 L1916.2 138 L1916.1 139 L1916.4 140 L1916.9 141 L1917.7 142 L1918.8 143 L1920.1 144 L1921.7 145 L1923.6 146 L1925.8 147 L1928.4 148 L1932 149 L1928.8 150 L1926.3 151 L1924.3 152 L1922.5 153 L1921 154 L1919.8 155 L1918.9 156 L1918.2 157 L1917.8 158 L1917.7 159 L1917.9 160 L1918.3 161 L1919 162 L1920 163 L1921.3 164 L1922.8 165 L1924.6 166 L1926.6 167 L1929.1 168 L1932.1 169 L1931.2 170 L1928.5 171 L1926.4 172 L1924.6 173 L1923 174 L1921.7 175 L1920.7 176 L1920 177 L1919.5 178 L1919.4 179 L1919.4 180 L1919.8 181 L1920.4 182 L1921.3 183 L1922.5 184 L1923.9 185 L1925.5 186 L1927.5 187 L1929.8 188 L1932.5 189 L1933.6 190 L1930.7 191 L1928.5 192 L1926.6 193 L1925 194 L1923.7 195 L1922.6 196 L1921.8 197 L1921.3 198 L1921 199 L1921 200 L1921.6 201 L1922.4 202 L1923.5 203 L1924.8 204 L1926.5 205 L1928.4 206 L1930.5 207 L1933 208 L1936 209 L1939.6 210 L1936.5 211 L1934.3 212 L1932.6 213 L1931.2 214 L1930 215 L1929.1 216 L1928.5 217 L1928.1 218 L1928 219 L1928.2 220 L1928.7 221 L1929.4 222 L1930.5 223 L1931.8 224 L1933.4 225 L1935.2 226 L1937.2 227 L1939.6 228 L1942.3 229 L1945.8 230 L1944.3 231 L1941.7 232 L1939.7 233 L1938 234 L1936.5 235 L1935.4 236 L1934.5 237 L1933.9 238 L1933.6 239 L1933.6 240 L1933.9 241 L1934.4 242 L1935.3 243 L1936.4 244 L1937.8 245 L1939.5 246 L1941.5 247 L1943.7 248 L1946.3 249 L1949.5 250 L1949.9 251 L1946.9 252 L1944.5 253 L1942.5 254 L1940.9 255 L1939.5 256 L1938.3 257 L1937.5 258 L1936.9 259 L1936.7 260 L1936.7 261 L1937 262 L1937.5 263 L1938.3 264 L1939.4 265 L1940.8 266 L1942.4 267 L1944.3 268 L1946.5 269 L1949.1 270 L1951.5 271 L1948.3 272 L1945.9 273 L1944 274 L1942.3 275 L1940.9 276 L1939.7 277 L1938.9 278 L1938.3 279 L1937.9 280 L1937.9 281 L1938.1 282 L1938.5 283 L1939.2 284 L1940.2 285 L1941.4 286 L1942.9 287 L1944.6 288 L1946.5 289 L1948.9 290 L1952 291 L1949.7 292 L1947.3 293 L1945.4 294 L1943.7 295 L1942.3 296 L1941.1 297 L1940.3 298 L1939.6 299 L1939.2 300 L1939 301 L1939 302 L1939.2 303 L1939.7 304 L1940.5 305 L1941.5 306 L1942.7 307 L1944.1 308 L1945.8 309 L1947.8 310 L1950.2 311 L1949.9 312 L1947.3 313 L1945.3 314 L1943.5 315 L1942.1 316 L1940.8 317 L1939.8 318 L1939 319 L1938.5 320 L1938.2 321 L1938.1 322 L1938.3 323 L1938.7 324 L1939.3 325 L1940 326 L1941 327 L1942.2 328 L1943.7 329 L1945.4 330 L1947.7 331 L1949.1 332 L1946.2 333 L1943.9 334 L1941.9 335 L1940 336 L1938.4 337 L1937.2 338 L1936.2 339 L1935.4 340 L1934.9 341 L1934.6 342 L1934.5 343 L1934.6 344 L1934.9 345 L1935.3 346 L1935.8 347 L1936.5 348 L1937.3 349 L1938.1 350 L1939.5 351 L1941.6 352 L1939.5 353 L1937.7 354 L1936.2 355 L1934.8 356 L1933.5 357 L1932.4 358 L1931.5 359 L1930.7 360 L1930.1 361 L1929.8 362 L1929.6 363 L1929.6 364 L1929.8 365 L1930.4 366 L1931.1 367 L1932.1 368 L1933.4 369 L1934.9 370 L1936.7 371 L1939.2 372 L1938.2 373 L1935.8 374 L1933.7 375 L1931.9 376 L1930.3 377 L1928.9 378 L1927.7 379 L1926.8 380 L1926.1 381 L1925.6 382 L1925.4 383 L1925.5 384 L1925.8 385 L1926.5 386 L1927.4 387 L1928.6 388 L1930.1 389 L1931.9 390 L1934 391 L1936.6 392 L1937.6 393 L1934.5 394 L1932 395 L1929.9 396 L1928 397 L1926.4 398 L1925.1 399 L1924 400 L1923.3 401 L1922.7 402 L1922.5 403 L1922.6 404 L1922.9 405 L1923.6 406 L1924.6 407 L1925.8 408 L1927.4 409 L1929.2 410 L1931.4 411 L1934.1 412 L1937.6 413 L1933.7 414 L1970 414 L1970 20Z" fill="#3646c0" filter="url(#blf)"/>
<path d="M1905.5 20 L1906.8 21 L1908.5 22 L1910.5 23 L1912.8 24 L1915.5 25 L1918.7 26 L1922.7 27 L1920.6 28 L1917.3 29 L1914.6 30 L1912.3 31 L1910.4 32 L1908.8 33 L1907.6 34 L1906.7 35 L1906.1 36 L1905.9 37 L1906.1 38 L1906.6 39 L1907.4 40 L1908.6 41 L1910 42 L1911.8 43 L1914 44 L1916.4 45 L1919.3 46 L1922.8 47 L1923.2 48 L1919.8 49 L1917.1 50 L1914.8 51 L1912.9 52 L1911.3 53 L1910.1 54 L1909.1 55 L1908.5 56 L1908.2 57 L1908.3 58 L1908.7 59 L1909.4 60 L1910.4 61 L1911.7 62 L1913.3 63 L1915.2 64 L1917.4 65 L1920 66 L1923.1 67 L1926 68 L1922.3 69 L1919.6 70 L1917.3 71 L1915.4 72 L1913.8 73 L1912.5 74 L1911.6 75 L1910.9 76 L1910.6 77 L1910.5 78 L1910.8 79 L1911.4 80 L1912.2 81 L1913.4 82 L1914.8 83 L1916.6 84 L1918.6 85 L1920.9 86 L1923.6 87 L1927.3 88 L1924.7 89 L1922 90 L1919.7 91 L1917.9 92 L1916.3 93 L1915 94 L1914 95 L1913.3 96 L1912.9 97 L1912.8 98 L1913 99 L1913.4 100 L1914.1 101 L1915.1 102 L1916.4 103 L1917.9 104 L1919.7 105 L1921.9 106 L1924.3 107 L1927.4 108 L1927.1 109 L1924.3 110 L1922 111 L1920.1 112 L1918.5 113 L1917.1 114 L1916 115 L1915.2 116 L1914.7 117 L1914.5 118 L1914.5 119 L1914.9 120 L1915.5 121 L1916.4 122 L1917.6 123 L1919 124 L1920.7 125 L1922.7 126 L1925 127 L1927.8 128 L1929.7 129 L1926.5 130 L1924.2 131 L1922.2 132 L1920.5 133 L1919.1 134 L1917.9 135 L1917.1 136 L1916.5 137 L1916.2 138 L1916.1 139 L1916.4 140 L1916.9 141 L1917.7 142 L1918.8 143 L1920.1 144 L1921.7 145 L1923.6 146 L1925.8 147 L1928.4 148 L1932 149 L1928.8 150 L1926.3 151 L1924.3 152 L1922.5 153 L1921 154 L1919.8 155 L1918.9 156 L1918.2 157 L1917.8 158 L1917.7 159 L1917.9 160 L1918.3 161 L1919 162 L1920 163 L1921.3 164 L1922.8 165 L1924.6 166 L1926.6 167 L1929.1 168 L1932.1 169 L1931.2 170 L1928.5 171 L1926.4 172 L1924.6 173 L1923 174 L1921.7 175 L1920.7 176 L1920 177 L1919.5 178 L1919.4 179 L1919.4 180 L1919.8 181 L1920.4 182 L1921.3 183 L1922.5 184 L1923.9 185 L1925.5 186 L1927.5 187 L1929.8 188 L1932.5 189 L1933.6 190 L1930.7 191 L1928.5 192 L1926.6 193 L1925 194 L1923.7 195 L1922.6 196 L1921.8 197 L1921.3 198 L1921 199 L1921 200 L1921.6 201 L1922.4 202 L1923.5 203 L1924.8 204 L1926.5 205 L1928.4 206 L1930.5 207 L1933 208 L1936 209 L1939.6 210 L1936.5 211 L1934.3 212 L1932.6 213 L1931.2 214 L1930 215 L1929.1 216 L1928.5 217 L1928.1 218 L1928 219 L1928.2 220 L1928.7 221 L1929.4 222 L1930.5 223 L1931.8 224 L1933.4 225 L1935.2 226 L1937.2 227 L1939.6 228 L1942.3 229 L1945.8 230 L1944.3 231 L1941.7 232 L1939.7 233 L1938 234 L1936.5 235 L1935.4 236 L1934.5 237 L1933.9 238 L1933.6 239 L1933.6 240 L1933.9 241 L1934.4 242 L1935.3 243 L1936.4 244 L1937.8 245 L1939.5 246 L1941.5 247 L1943.7 248 L1946.3 249 L1949.5 250 L1949.9 251 L1946.9 252 L1944.5 253 L1942.5 254 L1940.9 255 L1939.5 256 L1938.3 257 L1937.5 258 L1936.9 259 L1936.7 260 L1936.7 261 L1937 262 L1937.5 263 L1938.3 264 L1939.4 265 L1940.8 266 L1942.4 267 L1944.3 268 L1946.5 269 L1949.1 270 L1951.5 271 L1948.3 272 L1945.9 273 L1944 274 L1942.3 275 L1940.9 276 L1939.7 277 L1938.9 278 L1938.3 279 L1937.9 280 L1937.9 281 L1938.1 282 L1938.5 283 L1939.2 284 L1940.2 285 L1941.4 286 L1942.9 287 L1944.6 288 L1946.5 289 L1948.9 290 L1952 291 L1949.7 292 L1947.3 293 L1945.4 294 L1943.7 295 L1942.3 296 L1941.1 297 L1940.3 298 L1939.6 299 L1939.2 300 L1939 301 L1939 302 L1939.2 303 L1939.7 304 L1940.5 305 L1941.5 306 L1942.7 307 L1944.1 308 L1945.8 309 L1947.8 310 L1950.2 311 L1949.9 312 L1947.3 313 L1945.3 314 L1943.5 315 L1942.1 316 L1940.8 317 L1939.8 318 L1939 319 L1938.5 320 L1938.2 321 L1938.1 322 L1938.3 323 L1938.7 324 L1939.3 325 L1940 326 L1941 327 L1942.2 328 L1943.7 329 L1945.4 330 L1947.7 331 L1949.1 332 L1946.2 333 L1943.9 334 L1941.9 335 L1940 336 L1938.4 337 L1937.2 338 L1936.2 339 L1935.4 340 L1934.9 341 L1934.6 342 L1934.5 343 L1934.6 344 L1934.9 345 L1935.3 346 L1935.8 347 L1936.5 348 L1937.3 349 L1938.1 350 L1939.5 351 L1941.6 352 L1939.5 353 L1937.7 354 L1936.2 355 L1934.8 356 L1933.5 357 L1932.4 358 L1931.5 359 L1930.7 360 L1930.1 361 L1929.8 362 L1929.6 363 L1929.6 364 L1929.8 365 L1930.4 366 L1931.1 367 L1932.1 368 L1933.4 369 L1934.9 370 L1936.7 371 L1939.2 372 L1938.2 373 L1935.8 374 L1933.7 375 L1931.9 376 L1930.3 377 L1928.9 378 L1927.7 379 L1926.8 380 L1926.1 381 L1925.6 382 L1925.4 383 L1925.5 384 L1925.8 385 L1926.5 386 L1927.4 387 L1928.6 388 L1930.1 389 L1931.9 390 L1934 391 L1936.6 392 L1937.6 393 L1934.5 394 L1932 395 L1929.9 396 L1928 397 L1926.4 398 L1925.1 399 L1924 400 L1923.3 401 L1922.7 402 L1922.5 403 L1922.6 404 L1922.9 405 L1923.6 406 L1924.6 407 L1925.8 408 L1927.4 409 L1929.2 410 L1931.4 411 L1934.1 412 L1937.6 413 L1933.7 414 L1970 414 L1970 20Z" fill="none" stroke="#141a4a" stroke-width="1" stroke-opacity="0.8"/>
<path d="M1920.4 20 L1921.5 21 L1923 22 L1924.7 23 L1926.8 24 L1929.2 25 L1932 26 L1935.6 27 L1933.6 28 L1930.7 29 L1928.2 30 L1926.2 31 L1924.5 32 L1923.1 33 L1922 34 L1921.2 35 L1920.7 36 L1920.5 37 L1920.6 38 L1921 39 L1921.7 40 L1922.7 41 L1924 42 L1925.5 43 L1927.3 44 L1929.4 45 L1931.8 46 L1934.8 47 L1935.2 48 L1932.2 49 L1929.9 50 L1927.9 51 L1926.3 52 L1924.9 53 L1923.9 54 L1923.1 55 L1922.5 56 L1922.3 57 L1922.3 58 L1922.6 59 L1923.2 60 L1924 61 L1925.1 62 L1926.4 63 L1928 64 L1929.8 65 L1931.9 66 L1934.4 67 L1936.7 68 L1933.7 69 L1931.4 70 L1929.6 71 L1928 72 L1926.7 73 L1925.7 74 L1924.9 75 L1924.4 76 L1924.1 77 L1924.1 78 L1924.3 79 L1924.7 80 L1925.4 81 L1926.3 82 L1927.4 83 L1928.8 84 L1930.3 85 L1932.1 86 L1934.2 87 L1937 88 L1935 89 L1932.9 90 L1931.1 91 L1929.7 92 L1928.5 93 L1927.5 94 L1926.8 95 L1926.2 96 L1925.9 97 L1925.8 98 L1926 99 L1926.3 100 L1926.8 101 L1927.6 102 L1928.5 103 L1929.6 104 L1930.9 105 L1932.5 106 L1934.2 107 L1936.4 108 L1936.2 109 L1934.1 110 L1932.5 111 L1931.1 112 L1929.9 113 L1929 114 L1928.2 115 L1927.6 116 L1927.3 117 L1927.1 118 L1927.2 119 L1927.4 120 L1927.8 121 L1928.4 122 L1929.2 123 L1930.2 124 L1931.4 125 L1932.7 126 L1934.3 127 L1936.1 128 L1937.3 129 L1935.2 130 L1933.6 131 L1932.3 132 L1931.2 133 L1930.2 134 L1929.5 135 L1928.9 136 L1928.5 137 L1928.4 138 L1928.3 139 L1928.5 140 L1928.9 141 L1929.4 142 L1930 143 L1930.9 144 L1931.9 145 L1933.1 146 L1934.4 147 L1936 148 L1938.2 149 L1936.2 150 L1934.7 151 L1933.4 152 L1932.3 153 L1931.5 154 L1930.7 155 L1930.2 156 L1929.8 157 L1929.6 158 L1929.5 159 L1929.7 160 L1929.9 161 L1930.3 162 L1930.9 163 L1931.6 164 L1932.5 165 L1933.5 166 L1934.7 167 L1936 168 L1937.7 169 L1937.2 170 L1935.7 171 L1934.5 172 L1933.5 173 L1932.7 174 L1932 175 L1931.5 176 L1931.1 177 L1930.8 178 L1930.8 179 L1930.8 180 L1931 181 L1931.4 182 L1931.8 183 L1932.4 184 L1933.2 185 L1934 186 L1935 187 L1936.2 188 L1937.5 189 L1938 190 L1936.6 191 L1935.5 192 L1934.6 193 L1933.8 194 L1933.2 195 L1932.7 196 L1932.3 197 L1932.1 198 L1932 199 L1932 200 L1932.6 201 L1933.3 202 L1934.1 203 L1935.1 204 L1936.3 205 L1937.7 206 L1939.2 207 L1941 208 L1943 209 L1945.6 210 L1944.1 211 L1943.2 212 L1942.5 213 L1942 214 L1941.5 215 L1941.2 216 L1941.1 217 L1941.1 218 L1941.2 219 L1941.6 220 L1942.2 221 L1942.9 222 L1943.9 223 L1945.1 224 L1946.6 225 L1948.1 226 L1949.8 227 L1951.7 228 L1953.9 229 L1956.6 230 L1955.6 231 L1954 232 L1952.7 233 L1951.7 234 L1950.9 235 L1950.3 236 L1949.9 237 L1949.8 238 L1949.8 239 L1950 240 L1950.4 241 L1951 242 L1951.8 243 L1952.8 244 L1954 245 L1955.3 246 L1956.7 247 L1958.4 248 L1960.2 249 L1962.4 250 L1962.6 251 L1960.8 252 L1959.3 253 L1958 254 L1956.9 255 L1956 256 L1955.3 257 L1954.7 258 L1954.4 259 L1954.2 260 L1954.1 261 L1954.3 262 L1954.6 263 L1955.1 264 L1955.8 265 L1956.6 266 L1957.7 267 L1958.8 268 L1960.2 269 L1961.9 270 L1963.4 271 L1961.3 272 L1959.8 273 L1958.5 274 L1957.4 275 L1956.5 276 L1955.7 277 L1955.1 278 L1954.7 279 L1954.5 280 L1954.4 281 L1954.5 282 L1954.8 283 L1955.2 284 L1955.8 285 L1956.6 286 L1957.5 287 L1958.6 288 L1959.9 289 L1961.4 290 L1963.4 291 L1961.9 292 L1960.3 293 L1959 294 L1957.9 295 L1956.9 296 L1956.1 297 L1955.5 298 L1955.1 299 L1954.8 300 L1954.6 301 L1954.7 302 L1954.9 303 L1955.3 304 L1955.8 305 L1956.5 306 L1957.4 307 L1958.4 308 L1959.6 309 L1961 310 L1962.7 311 L1962.5 312 L1960.9 313 L1959.5 314 L1958.4 315 L1957.4 316 L1956.6 317 L1955.9 318 L1955.4 319 L1955.1 320 L1954.9 321 L1954.9 322 L1955.1 323 L1955.4 324 L1955.9 325 L1956.5 326 L1957.3 327 L1958.2 328 L1959.4 329 L1960.7 330 L1961.4 331 L1961.4 332 L1958.9 333 L1957 334 L1955.3 335 L1953.8 336 L1952.6 337 L1951.5 338 L1950.6 339 L1949.8 340 L1949.2 341 L1948.6 342 L1948.1 343 L1947.7 344 L1947.3 345 L1947.3 346 L1947.5 347 L1947.7 348 L1947.9 349 L1948.2 350 L1948.6 351 L1949.2 352 L1948.5 353 L1947.9 354 L1947.4 355 L1946.9 356 L1946.5 357 L1946.2 358 L1945.9 359 L1945.6 360 L1945.4 361 L1945.3 362 L1945.2 363 L1945.2 364 L1945.2 365 L1945.3 366 L1945.4 367 L1945.6 368 L1945.8 369 L1946.1 370 L1946.4 371 L1946.9 372 L1946.6 373 L1946 374 L1945.5 375 L1945 376 L1944.6 377 L1944.2 378 L1943.9 379 L1943.6 380 L1943.4 381 L1943.3 382 L1943.2 383 L1943.1 384 L1943.1 385 L1943.2 386 L1943.3 387 L1943.4 388 L1943.7 389 L1943.9 390 L1944.3 391 L1944.7 392 L1944.8 393 L1944.1 394 L1943.5 395 L1943.1 396 L1942.6 397 L1942.2 398 L1941.9 399 L1941.6 400 L1941.4 401 L1941.2 402 L1941.1 403 L1941.1 404 L1941 405 L1941.1 406 L1941.2 407 L1941.3 408 L1941.5 409 L1941.8 410 L1942.1 411 L1942.5 412 L1943 413 L1942.2 414 L1970 414 L1970 20Z" fill="#2f50c8" filter="url(#blf)"/>
<path d="M1920.4 20 L1921.5 21 L1923 22 L1924.7 23 L1926.8 24 L1929.2 25 L1932 26 L1935.6 27 L1933.6 28 L1930.7 29 L1928.2 30 L1926.2 31 L1924.5 32 L1923.1 33 L1922 34 L1921.2 35 L1920.7 36 L1920.5 37 L1920.6 38 L1921 39 L1921.7 40 L1922.7 41 L1924 42 L1925.5 43 L1927.3 44 L1929.4 45 L1931.8 46 L1934.8 47 L1935.2 48 L1932.2 49 L1929.9 50 L1927.9 51 L1926.3 52 L1924.9 53 L1923.9 54 L1923.1 55 L1922.5 56 L1922.3 57 L1922.3 58 L1922.6 59 L1923.2 60 L1924 61 L1925.1 62 L1926.4 63 L1928 64 L1929.8 65 L1931.9 66 L1934.4 67 L1936.7 68 L1933.7 69 L1931.4 70 L1929.6 71 L1928 72 L1926.7 73 L1925.7 74 L1924.9 75 L1924.4 76 L1924.1 77 L1924.1 78 L1924.3 79 L1924.7 80 L1925.4 81 L1926.3 82 L1927.4 83 L1928.8 84 L1930.3 85 L1932.1 86 L1934.2 87 L1937 88 L1935 89 L1932.9 90 L1931.1 91 L1929.7 92 L1928.5 93 L1927.5 94 L1926.8 95 L1926.2 96 L1925.9 97 L1925.8 98 L1926 99 L1926.3 100 L1926.8 101 L1927.6 102 L1928.5 103 L1929.6 104 L1930.9 105 L1932.5 106 L1934.2 107 L1936.4 108 L1936.2 109 L1934.1 110 L1932.5 111 L1931.1 112 L1929.9 113 L1929 114 L1928.2 115 L1927.6 116 L1927.3 117 L1927.1 118 L1927.2 119 L1927.4 120 L1927.8 121 L1928.4 122 L1929.2 123 L1930.2 124 L1931.4 125 L1932.7 126 L1934.3 127 L1936.1 128 L1937.3 129 L1935.2 130 L1933.6 131 L1932.3 132 L1931.2 133 L1930.2 134 L1929.5 135 L1928.9 136 L1928.5 137 L1928.4 138 L1928.3 139 L1928.5 140 L1928.9 141 L1929.4 142 L1930 143 L1930.9 144 L1931.9 145 L1933.1 146 L1934.4 147 L1936 148 L1938.2 149 L1936.2 150 L1934.7 151 L1933.4 152 L1932.3 153 L1931.5 154 L1930.7 155 L1930.2 156 L1929.8 157 L1929.6 158 L1929.5 159 L1929.7 160 L1929.9 161 L1930.3 162 L1930.9 163 L1931.6 164 L1932.5 165 L1933.5 166 L1934.7 167 L1936 168 L1937.7 169 L1937.2 170 L1935.7 171 L1934.5 172 L1933.5 173 L1932.7 174 L1932 175 L1931.5 176 L1931.1 177 L1930.8 178 L1930.8 179 L1930.8 180 L1931 181 L1931.4 182 L1931.8 183 L1932.4 184 L1933.2 185 L1934 186 L1935 187 L1936.2 188 L1937.5 189 L1938 190 L1936.6 191 L1935.5 192 L1934.6 193 L1933.8 194 L1933.2 195 L1932.7 196 L1932.3 197 L1932.1 198 L1932 199 L1932 200 L1932.6 201 L1933.3 202 L1934.1 203 L1935.1 204 L1936.3 205 L1937.7 206 L1939.2 207 L1941 208 L1943 209 L1945.6 210 L1944.1 211 L1943.2 212 L1942.5 213 L1942 214 L1941.5 215 L1941.2 216 L1941.1 217 L1941.1 218 L1941.2 219 L1941.6 220 L1942.2 221 L1942.9 222 L1943.9 223 L1945.1 224 L1946.6 225 L1948.1 226 L1949.8 227 L1951.7 228 L1953.9 229 L1956.6 230 L1955.6 231 L1954 232 L1952.7 233 L1951.7 234 L1950.9 235 L1950.3 236 L1949.9 237 L1949.8 238 L1949.8 239 L1950 240 L1950.4 241 L1951 242 L1951.8 243 L1952.8 244 L1954 245 L1955.3 246 L1956.7 247 L1958.4 248 L1960.2 249 L1962.4 250 L1962.6 251 L1960.8 252 L1959.3 253 L1958 254 L1956.9 255 L1956 256 L1955.3 257 L1954.7 258 L1954.4 259 L1954.2 260 L1954.1 261 L1954.3 262 L1954.6 263 L1955.1 264 L1955.8 265 L1956.6 266 L1957.7 267 L1958.8 268 L1960.2 269 L1961.9 270 L1963.4 271 L1961.3 272 L1959.8 273 L1958.5 274 L1957.4 275 L1956.5 276 L1955.7 277 L1955.1 278 L1954.7 279 L1954.5 280 L1954.4 281 L1954.5 282 L1954.8 283 L1955.2 284 L1955.8 285 L1956.6 286 L1957.5 287 L1958.6 288 L1959.9 289 L1961.4 290 L1963.4 291 L1961.9 292 L1960.3 293 L1959 294 L1957.9 295 L1956.9 296 L1956.1 297 L1955.5 298 L1955.1 299 L1954.8 300 L1954.6 301 L1954.7 302 L1954.9 303 L1955.3 304 L1955.8 305 L1956.5 306 L1957.4 307 L1958.4 308 L1959.6 309 L1961 310 L1962.7 311 L1962.5 312 L1960.9 313 L1959.5 314 L1958.4 315 L1957.4 316 L1956.6 317 L1955.9 318 L1955.4 319 L1955.1 320 L1954.9 321 L1954.9 322 L1955.1 323 L1955.4 324 L1955.9 325 L1956.5 326 L1957.3 327 L1958.2 328 L1959.4 329 L1960.7 330 L1961.4 331 L1961.4 332 L1958.9 333 L1957 334 L1955.3 335 L1953.8 336 L1952.6 337 L1951.5 338 L1950.6 339 L1949.8 340 L1949.2 341 L1948.6 342 L1948.1 343 L1947.7 344 L1947.3 345 L1947.3 346 L1947.5 347 L1947.7 348 L1947.9 349 L1948.2 350 L1948.6 351 L1949.2 352 L1948.5 353 L1947.9 354 L1947.4 355 L1946.9 356 L1946.5 357 L1946.2 358 L1945.9 359 L1945.6 360 L1945.4 361 L1945.3 362 L1945.2 363 L1945.2 364 L1945.2 365 L1945.3 366 L1945.4 367 L1945.6 368 L1945.8 369 L1946.1 370 L1946.4 371 L1946.9 372 L1946.6 373 L1946 374 L1945.5 375 L1945 376 L1944.6 377 L1944.2 378 L1943.9 379 L1943.6 380 L1943.4 381 L1943.3 382 L1943.2 383 L1943.1 384 L1943.1 385 L1943.2 386 L1943.3 387 L1943.4 388 L1943.7 389 L1943.9 390 L1944.3 391 L1944.7 392 L1944.8 393 L1944.1 394 L1943.5 395 L1943.1 396 L1942.6 397 L1942.2 398 L1941.9 399 L1941.6 400 L1941.4 401 L1941.2 402 L1941.1 403 L1941.1 404 L1941 405 L1941.1 406 L1941.2 407 L1941.3 408 L1941.5 409 L1941.8 410 L1942.1 411 L1942.5 412 L1943 413 L1942.2 414 L1970 414 L1970 20Z" fill="none" stroke="#141a4a" stroke-width="0.9" stroke-opacity="0.7"/>
<linearGradient id="g3" gradientUnits="userSpaceOnUse" x1="1938" y1="0" x2="1964" y2="0"><stop offset="0" stop-color="#2a5cc8"/><stop offset="0.2" stop-color="#2179c8"/><stop offset="0.45" stop-color="#2a97b6"/><stop offset="0.75" stop-color="#3fa296"/><stop offset="1" stop-color="#5f9f78"/></linearGradient>
<linearGradient id="g3b" gradientUnits="userSpaceOnUse" x1="1941" y1="0" x2="1964" y2="0"><stop offset="0" stop-color="#2a5cc8"/><stop offset="0.5" stop-color="#2179cc"/><stop offset="1" stop-color="#2a97b6"/></linearGradient>
<path d="M1938.2 20 L1938.4 21 L1938.7 22 L1939 23 L1939.3 24 L1939.7 25 L1940.2 26 L1940.8 27 L1940.5 28 L1940 29 L1939.6 30 L1939.2 31 L1939 32 L1938.7 33 L1938.5 34 L1938.4 35 L1938.3 36 L1938.3 37 L1938.3 38 L1938.4 39 L1938.5 40 L1938.7 41 L1938.9 42 L1939.2 43 L1939.5 44 L1939.9 45 L1940.3 46 L1940.9 47 L1940.9 48 L1940.4 49 L1940 50 L1939.6 51 L1939.3 52 L1939.1 53 L1938.9 54 L1938.8 55 L1938.7 56 L1938.6 57 L1938.6 58 L1938.7 59 L1938.8 60 L1939 61 L1939.2 62 L1939.4 63 L1939.7 64 L1940 65 L1940.4 66 L1940.9 67 L1941.4 68 L1940.8 69 L1940.4 70 L1940 71 L1939.7 72 L1939.5 73 L1939.3 74 L1939.1 75 L1939 76 L1939 77 L1939 78 L1939 79 L1939.1 80 L1939.2 81 L1939.4 82 L1939.6 83 L1939.9 84 L1940.2 85 L1940.6 86 L1941 87 L1941.6 88 L1941.2 89 L1940.8 90 L1940.4 91 L1940.1 92 L1939.9 93 L1939.7 94 L1939.5 95 L1939.4 96 L1939.3 97 L1939.3 98 L1939.3 99 L1939.4 100 L1939.5 101 L1939.7 102 L1939.9 103 L1940.1 104 L1940.4 105 L1940.8 106 L1941.2 107 L1941.6 108 L1941.6 109 L1941.1 110 L1940.8 111 L1940.5 112 L1940.2 113 L1940 114 L1939.9 115 L1939.7 116 L1939.7 117 L1939.6 118 L1939.7 119 L1939.7 120 L1939.8 121 L1940 122 L1940.1 123 L1940.4 124 L1940.6 125 L1940.9 126 L1941.3 127 L1941.7 128 L1942 129 L1941.5 130 L1941.2 131 L1940.9 132 L1940.6 133 L1940.4 134 L1940.2 135 L1940.1 136 L1940 137 L1940 138 L1940 139 L1940 140 L1940.1 141 L1940.2 142 L1940.4 143 L1940.6 144 L1940.8 145 L1941.1 146 L1941.5 147 L1941.8 148 L1942.4 149 L1941.9 150 L1941.5 151 L1941.2 152 L1941 153 L1940.8 154 L1940.6 155 L1940.5 156 L1940.4 157 L1940.3 158 L1940.3 159 L1940.3 160 L1940.4 161 L1940.5 162 L1940.7 163 L1940.9 164 L1941.1 165 L1941.3 166 L1941.6 167 L1942 168 L1942.4 169 L1942.3 170 L1941.9 171 L1941.6 172 L1941.4 173 L1941.1 174 L1941 175 L1940.8 176 L1940.7 177 L1940.7 178 L1940.7 179 L1940.7 180 L1940.7 181 L1940.8 182 L1940.9 183 L1941.1 184 L1941.3 185 L1941.5 186 L1941.8 187 L1942.1 188 L1942.5 189 L1942.7 190 L1942.3 191 L1942 192 L1941.7 193 L1941.5 194 L1941.3 195 L1941.2 196 L1941.1 197 L1941 198 L1941 199 L1941 200 L1941.9 201 L1942.9 202 L1944 203 L1945.1 204 L1946.3 205 L1947.5 206 L1948.9 207 L1950.3 208 L1951.9 209 L1953.7 210 L1953.9 211 L1954.3 212 L1955.4 213 L1956.7 214 L1958 215 L1959.6 216 L1961.2 217 L1962.9 218 L1964.6 219 L1966.4 220 L1968.2 221 L1970 222 L1970 222 L1970 20Z" fill="url(#g3)" filter="url(#blf)"/>
<path d="M1938.2 20 L1938.4 21 L1938.7 22 L1939 23 L1939.3 24 L1939.7 25 L1940.2 26 L1940.8 27 L1940.5 28 L1940 29 L1939.6 30 L1939.2 31 L1939 32 L1938.7 33 L1938.5 34 L1938.4 35 L1938.3 36 L1938.3 37 L1938.3 38 L1938.4 39 L1938.5 40 L1938.7 41 L1938.9 42 L1939.2 43 L1939.5 44 L1939.9 45 L1940.3 46 L1940.9 47 L1940.9 48 L1940.4 49 L1940 50 L1939.6 51 L1939.3 52 L1939.1 53 L1938.9 54 L1938.8 55 L1938.7 56 L1938.6 57 L1938.6 58 L1938.7 59 L1938.8 60 L1939 61 L1939.2 62 L1939.4 63 L1939.7 64 L1940 65 L1940.4 66 L1940.9 67 L1941.4 68 L1940.8 69 L1940.4 70 L1940 71 L1939.7 72 L1939.5 73 L1939.3 74 L1939.1 75 L1939 76 L1939 77 L1939 78 L1939 79 L1939.1 80 L1939.2 81 L1939.4 82 L1939.6 83 L1939.9 84 L1940.2 85 L1940.6 86 L1941 87 L1941.6 88 L1941.2 89 L1940.8 90 L1940.4 91 L1940.1 92 L1939.9 93 L1939.7 94 L1939.5 95 L1939.4 96 L1939.3 97 L1939.3 98 L1939.3 99 L1939.4 100 L1939.5 101 L1939.7 102 L1939.9 103 L1940.1 104 L1940.4 105 L1940.8 106 L1941.2 107 L1941.6 108 L1941.6 109 L1941.1 110 L1940.8 111 L1940.5 112 L1940.2 113 L1940 114 L1939.9 115 L1939.7 116 L1939.7 117 L1939.6 118 L1939.7 119 L1939.7 120 L1939.8 121 L1940 122 L1940.1 123 L1940.4 124 L1940.6 125 L1940.9 126 L1941.3 127 L1941.7 128 L1942 129 L1941.5 130 L1941.2 131 L1940.9 132 L1940.6 133 L1940.4 134 L1940.2 135 L1940.1 136 L1940 137 L1940 138 L1940 139 L1940 140 L1940.1 141 L1940.2 142 L1940.4 143 L1940.6 144 L1940.8 145 L1941.1 146 L1941.5 147 L1941.8 148 L1942.4 149 L1941.9 150 L1941.5 151 L1941.2 152 L1941 153 L1940.8 154 L1940.6 155 L1940.5 156 L1940.4 157 L1940.3 158 L1940.3 159 L1940.3 160 L1940.4 161 L1940.5 162 L1940.7 163 L1940.9 164 L1941.1 165 L1941.3 166 L1941.6 167 L1942 168 L1942.4 169 L1942.3 170 L1941.9 171 L1941.6 172 L1941.4 173 L1941.1 174 L1941 175 L1940.8 176 L1940.7 177 L1940.7 178 L1940.7 179 L1940.7 180 L1940.7 181 L1940.8 182 L1940.9 183 L1941.1 184 L1941.3 185 L1941.5 186 L1941.8 187 L1942.1 188 L1942.5 189 L1942.7 190 L1942.3 191 L1942 192 L1941.7 193 L1941.5 194 L1941.3 195 L1941.2 196 L1941.1 197 L1941 198 L1941 199 L1941 200 L1941.9 201 L1942.9 202 L1944 203 L1945.1 204 L1946.3 205 L1947.5 206 L1948.9 207 L1950.3 208 L1951.9 209 L1953.7 210 L1953.9 211 L1954.3 212 L1955.4 213 L1956.7 214 L1958 215 L1959.6 216 L1961.2 217 L1962.9 218 L1964.6 219 L1966.4 220 L1968.2 221 L1970 222 L1970 222 L1970 20Z" fill="none" stroke="#141a4a" stroke-width="0.9" stroke-opacity="0.8"/>
<path d="M1970 336 L1970 336 L1968.1 337 L1966.1 338 L1964.1 339 L1962.1 340 L1960 341 L1958 342 L1956 343 L1954.1 344 L1952.3 345 L1950.6 346 L1950.3 347 L1950.1 348 L1950 349 L1949.9 350 L1949.9 351 L1950 352 L1948.7 353 L1947.5 354 L1946.4 355 L1945.4 356 L1944.5 357 L1943.6 358 L1942.9 359 L1942.1 360 L1942 361 L1942 362 L1942 363 L1942 364 L1942.1 365 L1942.3 366 L1942.5 367 L1942.7 368 L1943.1 369 L1943.4 370 L1943.9 371 L1944.4 372 L1944.2 373 L1943.7 374 L1943.2 375 L1942.8 376 L1942.5 377 L1942.2 378 L1942 379 L1941.8 380 L1941.7 381 L1941.6 382 L1941.6 383 L1941.6 384 L1941.7 385 L1941.8 386 L1942 387 L1942.3 388 L1942.6 389 L1942.9 390 L1943.4 391 L1943.9 392 L1944.1 393 L1943.4 394 L1943 395 L1942.6 396 L1942.2 397 L1941.9 398 L1941.7 399 L1941.5 400 L1941.3 401 L1941.2 402 L1941.2 403 L1941.2 404 L1941.3 405 L1941.4 406 L1941.6 407 L1941.8 408 L1942.1 409 L1942.5 410 L1942.8 411 L1943.3 412 L1943.9 413 L1943.2 414 L1970 414Z" fill="url(#g3b)" filter="url(#blf)"/>
<path d="M1970 336 L1970 336 L1968.1 337 L1966.1 338 L1964.1 339 L1962.1 340 L1960 341 L1958 342 L1956 343 L1954.1 344 L1952.3 345 L1950.6 346 L1950.3 347 L1950.1 348 L1950 349 L1949.9 350 L1949.9 351 L1950 352 L1948.7 353 L1947.5 354 L1946.4 355 L1945.4 356 L1944.5 357 L1943.6 358 L1942.9 359 L1942.1 360 L1942 361 L1942 362 L1942 363 L1942 364 L1942.1 365 L1942.3 366 L1942.5 367 L1942.7 368 L1943.1 369 L1943.4 370 L1943.9 371 L1944.4 372 L1944.2 373 L1943.7 374 L1943.2 375 L1942.8 376 L1942.5 377 L1942.2 378 L1942 379 L1941.8 380 L1941.7 381 L1941.6 382 L1941.6 383 L1941.6 384 L1941.7 385 L1941.8 386 L1942 387 L1942.3 388 L1942.6 389 L1942.9 390 L1943.4 391 L1943.9 392 L1944.1 393 L1943.4 394 L1943 395 L1942.6 396 L1942.2 397 L1941.9 398 L1941.7 399 L1941.5 400 L1941.3 401 L1941.2 402 L1941.2 403 L1941.2 404 L1941.3 405 L1941.4 406 L1941.6 407 L1941.8 408 L1942.1 409 L1942.5 410 L1942.8 411 L1943.3 412 L1943.9 413 L1943.2 414 L1970 414Z" fill="none" stroke="#141a4a" stroke-width="0.9" stroke-opacity="0.8"/>
<path d="M1943.5 26 L1943.5 208" fill="none" stroke="#0c1030" stroke-width="0.8" stroke-opacity="0.5" filter="url(#bll)"/>
<path d="M1946 26 L1946 207" fill="none" stroke="#0c1030" stroke-width="0.8" stroke-opacity="0.5" filter="url(#bll)"/>
<path d="M1947 353 L1947 409" fill="none" stroke="#0c1030" stroke-width="0.8" stroke-opacity="0.4" filter="url(#bll)"/>
<path d="M1948.5 26 L1948.5 206" fill="none" stroke="#0c1030" stroke-width="0.8" stroke-opacity="0.5" filter="url(#bll)"/>
<path d="M1949.5 354 L1949.5 409" fill="none" stroke="#0c1030" stroke-width="0.8" stroke-opacity="0.4" filter="url(#bll)"/>
<path d="M1951 26 L1951 205" fill="none" stroke="#0c1030" stroke-width="0.8" stroke-opacity="0.5" filter="url(#bll)"/>
<path d="M1952 355 L1952 409" fill="none" stroke="#0c1030" stroke-width="0.8" stroke-opacity="0.4" filter="url(#bll)"/>
<path d="M1953.5 26 L1953.5 204" fill="none" stroke="#0c1030" stroke-width="0.8" stroke-opacity="0.5" filter="url(#bll)"/>
<path d="M1954.5 356 L1954.5 409" fill="none" stroke="#0c1030" stroke-width="0.8" stroke-opacity="0.4" filter="url(#bll)"/>
<path d="M1956 26 L1956 203" fill="none" stroke="#0c1030" stroke-width="0.8" stroke-opacity="0.5" filter="url(#bll)"/>
<path d="M1957 357 L1957 409" fill="none" stroke="#0c1030" stroke-width="0.8" stroke-opacity="0.4" filter="url(#bll)"/>
<path d="M1958.5 26 L1958.5 202" fill="none" stroke="#0c1030" stroke-width="0.8" stroke-opacity="0.5" filter="url(#bll)"/>
<path d="M1959.5 358 L1959.5 409" fill="none" stroke="#0c1030" stroke-width="0.8" stroke-opacity="0.4" filter="url(#bll)"/>
<path d="M1961 26 L1961 201" fill="none" stroke="#0c1030" stroke-width="0.8" stroke-opacity="0.5" filter="url(#bll)"/>
<path d="M1962 359 L1962 409" fill="none" stroke="#0c1030" stroke-width="0.8" stroke-opacity="0.4" filter="url(#bll)"/>
<path d="M1964.5 24.25 L1958 25.25 L1951 27.25 L1958 29.25 L1964.5 30.25Z" fill="#0a0c18" filter="url(#blf)"/>
<ellipse cx="1962" cy="37.4" rx="2.5" ry="4.5" fill="#7fae78" filter="url(#blf)"/>
<path d="M1964.5 44.55 L1958 45.55 L1951 47.55 L1958 49.55 L1964.5 50.55Z" fill="#0a0c18" filter="url(#blf)"/>
<ellipse cx="1962" cy="57.7" rx="2.5" ry="4.5" fill="#7fae78" filter="url(#blf)"/>
<path d="M1964.5 64.85 L1958 65.85 L1951 67.85 L1958 69.85 L1964.5 70.85Z" fill="#0a0c18" filter="url(#blf)"/>
<ellipse cx="1962" cy="78" rx="2.5" ry="4.5" fill="#7fae78" filter="url(#blf)"/>
<path d="M1964.5 85.15 L1958 86.15 L1951 88.15 L1958 90.15 L1964.5 91.15Z" fill="#0a0c18" filter="url(#blf)"/>
<ellipse cx="1962" cy="98.3" rx="2.5" ry="4.5" fill="#7fae78" filter="url(#blf)"/>
<path d="M1964.5 105.45 L1958 106.45 L1951 108.45 L1958 110.45 L1964.5 111.45Z" fill="#0a0c18" filter="url(#blf)"/>
<ellipse cx="1962" cy="118.6" rx="2.5" ry="4.5" fill="#7fae78" filter="url(#blf)"/>
<path d="M1964.5 125.75 L1958 126.75 L1951 128.75 L1958 130.75 L1964.5 131.75Z" fill="#0a0c18" filter="url(#blf)"/>
<ellipse cx="1962" cy="138.9" rx="2.5" ry="4.5" fill="#7fae78" filter="url(#blf)"/>
<path d="M1964.5 146.05 L1958 147.05 L1951 149.05 L1958 151.05 L1964.5 152.05Z" fill="#0a0c18" filter="url(#blf)"/>
<ellipse cx="1962" cy="159.2" rx="2.5" ry="4.5" fill="#7fae78" filter="url(#blf)"/>
<path d="M1964.5 166.35 L1958 167.35 L1951 169.35 L1958 171.35 L1964.5 172.35Z" fill="#0a0c18" filter="url(#blf)"/>
<ellipse cx="1962" cy="179.5" rx="2.5" ry="4.5" fill="#7fae78" filter="url(#blf)"/>
<path d="M1964.5 186.65 L1958 187.65 L1951 189.65 L1958 191.65 L1964.5 192.65Z" fill="#0a0c18" filter="url(#blf)"/>
<ellipse cx="1962" cy="199.8" rx="2.5" ry="4.5" fill="#7fae78" filter="url(#blf)"/>
<path d="M1964.5 206.95 L1958 207.95 L1951 209.95 L1958 211.95 L1964.5 212.95Z" fill="#0a0c18" filter="url(#blf)"/>
<ellipse cx="1962" cy="220.1" rx="2.5" ry="4.5" fill="#7fae78" filter="url(#blf)"/>
<path d="M1964.5 350.05 L1960 350.55 L1956 352.05 L1960 353.55 L1964.5 354.05Z" fill="#0a0c18" filter="url(#blf)"/>
<path d="M1964.5 370.35 L1960 370.85 L1956 372.35 L1960 373.85 L1964.5 374.35Z" fill="#0a0c18" filter="url(#blf)"/>
<path d="M1964.5 390.65 L1960 391.15 L1956 392.65 L1960 394.15 L1964.5 394.65Z" fill="#0a0c18" filter="url(#blf)"/>
<ellipse cx="1962" cy="402.8" rx="2.5" ry="4" fill="#3fa586" filter="url(#blf)"/>
<path d="M1964.5 410.95 L1960 411.45 L1956 412.95 L1960 414.45 L1964.5 414.95Z" fill="#0a0c18" filter="url(#blf)"/>
<ellipse cx="1962" cy="423.1" rx="2.5" ry="4" fill="#3fa586" filter="url(#blf)"/>
</g>
<rect x="1602.8" y="26.4" width="361" height="382.3" fill="none" stroke="#141c58" stroke-width="1.6" stroke-opacity="0.9"/>
</g>
<path d="M1603 256.5H1964" stroke="#c8203a" stroke-width="3.6" fill="none"/>
<path d="M1591.6 26.4H1602.8M1591.6 102.9H1602.8M1591.6 179.4H1602.8M1591.6 255.9H1602.8M1591.6 332.4H1602.8M1595.5 45.525H1602.8M1595.5 64.65H1602.8M1595.5 83.775H1602.8M1595.5 122.025H1602.8M1595.5 141.15H1602.8M1595.5 160.275H1602.8M1595.5 198.525H1602.8M1595.5 217.65H1602.8M1595.5 236.775H1602.8M1595.5 275.025H1602.8M1595.5 294.15H1602.8M1595.5 313.275H1602.8M1595.5 351.525H1602.8M1595.5 370.65H1602.8M1595.5 389.775H1602.8" stroke="#484848" stroke-width="1.8" fill="none"/>
<text transform="translate(1582.3 36.587) scale(0.99 1)" font-size="26.5" text-anchor="end" fill="#262626">−4.62</text>
<text transform="translate(1582.3 113.087) scale(0.99 1)" font-size="26.5" text-anchor="end" fill="#262626">−4.64</text>
<text transform="translate(1582.3 189.587) scale(0.99 1)" font-size="26.5" text-anchor="end" fill="#262626">−4.66</text>
<text transform="translate(1582.3 266.087) scale(0.99 1)" font-size="26.5" text-anchor="end" fill="#262626">−4.68</text>
<text transform="translate(1582.3 342.587) scale(0.99 1)" font-size="26.5" text-anchor="end" fill="#262626">−4.70</text>
<path d="M1602.8 408.7V419.2M1730.3 408.7V419.2M1857.8 408.7V419.2M1628.3 408.7V415.5M1653.8 408.7V415.5M1679.3 408.7V415.5M1704.8 408.7V415.5M1755.8 408.7V415.5M1781.3 408.7V415.5M1806.8 408.7V415.5M1832.3 408.7V415.5M1883.3 408.7V415.5M1908.8 408.7V415.5M1934.3 408.7V415.5M1959.8 408.7V415.5" stroke="#484848" stroke-width="1.8" fill="none"/>
<text transform="translate(1602.8 447.5) scale(1.03 1)" font-size="26.5" text-anchor="middle" fill="#262626">0.00</text>
<text transform="translate(1730.3 447.5) scale(1.03 1)" font-size="26.5" text-anchor="middle" fill="#262626">0.10</text>
<text transform="translate(1857.8 447.5) scale(1.03 1)" font-size="26.5" text-anchor="middle" fill="#262626">0.20</text>
<text transform="translate(1509.6 217.8) rotate(-90) scale(0.99 1)" font-size="29.5" text-anchor="middle" fill="#262626">Energy, eV</text>
<text transform="translate(1794.1 499.6) scale(1.03 1)" font-size="28.5" text-anchor="middle" fill="#262626">k<tspan font-size="18.5" dy="6">y</tspan><tspan dy="-6">, 1/A</tspan></text>
<rect x="1986" y="373.95" width="18" height="5.35" fill="#352a88"/>
<rect x="1986" y="369.20" width="18" height="5.35" fill="#362b8a"/>
<rect x="1986" y="364.45" width="18" height="5.35" fill="#372c8c"/>
<rect x="1986" y="359.70" width="18" height="5.35" fill="#362f92"/>
<rect x="1986" y="354.95" width="18" height="5.35" fill="#34359f"/>
<rect x="1986" y="350.20" width="18" height="5.35" fill="#333aac"/>
<rect x="1986" y="345.45" width="18" height="5.35" fill="#3040b6"/>
<rect x="1986" y="340.70" width="18" height="5.35" fill="#2d46be"/>
<rect x="1986" y="335.95" width="18" height="5.35" fill="#2a4bc3"/>
<rect x="1986" y="331.20" width="18" height="5.35" fill="#2751c6"/>
<rect x="1986" y="326.45" width="18" height="5.35" fill="#2456ca"/>
<rect x="1986" y="321.70" width="18" height="5.35" fill="#215bce"/>
<rect x="1986" y="316.95" width="18" height="5.35" fill="#1e61d0"/>
<rect x="1986" y="312.20" width="18" height="5.35" fill="#1b67d1"/>
<rect x="1986" y="307.45" width="18" height="5.35" fill="#186dd1"/>
<rect x="1986" y="302.70" width="18" height="5.35" fill="#1573d2"/>
<rect x="1986" y="297.95" width="18" height="5.35" fill="#1479d2"/>
<rect x="1986" y="293.20" width="18" height="5.35" fill="#147ed1"/>
<rect x="1986" y="288.45" width="18" height="5.35" fill="#1484d0"/>
<rect x="1986" y="283.70" width="18" height="5.35" fill="#1489cf"/>
<rect x="1986" y="278.95" width="18" height="5.35" fill="#148dce"/>
<rect x="1986" y="274.20" width="18" height="5.35" fill="#1391cd"/>
<rect x="1986" y="269.45" width="18" height="5.35" fill="#1395cc"/>
<rect x="1986" y="264.70" width="18" height="5.35" fill="#1398cb"/>
<rect x="1986" y="259.95" width="18" height="5.35" fill="#129cc9"/>
<rect x="1986" y="255.20" width="18" height="5.35" fill="#12a0c8"/>
<rect x="1986" y="250.45" width="18" height="5.35" fill="#13a3c6"/>
<rect x="1986" y="245.70" width="18" height="5.35" fill="#15a6c3"/>
<rect x="1986" y="240.95" width="18" height="5.35" fill="#16a9c0"/>
<rect x="1986" y="236.20" width="18" height="5.35" fill="#17acbe"/>
<rect x="1986" y="231.45" width="18" height="5.35" fill="#1aafb9"/>
<rect x="1986" y="226.70" width="18" height="5.35" fill="#1fb1b3"/>
<rect x="1986" y="221.95" width="18" height="5.35" fill="#25b4ae"/>
<rect x="1986" y="217.20" width="18" height="5.35" fill="#2ab6a8"/>
<rect x="1986" y="212.45" width="18" height="5.35" fill="#32b8a2"/>
<rect x="1986" y="207.70" width="18" height="5.35" fill="#3db99c"/>
<rect x="1986" y="202.95" width="18" height="5.35" fill="#48ba96"/>
<rect x="1986" y="198.20" width="18" height="5.35" fill="#52bc90"/>
<rect x="1986" y="193.45" width="18" height="5.35" fill="#5ebc8a"/>
<rect x="1986" y="188.70" width="18" height="5.35" fill="#6abc85"/>
<rect x="1986" y="183.95" width="18" height="5.35" fill="#76bd81"/>
<rect x="1986" y="179.20" width="18" height="5.35" fill="#82bd7c"/>
<rect x="1986" y="174.45" width="18" height="5.35" fill="#8ebd77"/>
<rect x="1986" y="169.70" width="18" height="5.35" fill="#99bd72"/>
<rect x="1986" y="164.95" width="18" height="5.35" fill="#a4bc6d"/>
<rect x="1986" y="160.20" width="18" height="5.35" fill="#afbc68"/>
<rect x="1986" y="155.45" width="18" height="5.35" fill="#b9bc63"/>
<rect x="1986" y="150.70" width="18" height="5.35" fill="#c2bb5f"/>
<rect x="1986" y="145.95" width="18" height="5.35" fill="#cbbb5c"/>
<rect x="1986" y="141.20" width="18" height="5.35" fill="#d4ba58"/>
<rect x="1986" y="136.45" width="18" height="5.35" fill="#dbba54"/>
<rect x="1986" y="131.70" width="18" height="5.35" fill="#e0ba52"/>
<rect x="1986" y="126.95" width="18" height="5.35" fill="#e6b94f"/>
<rect x="1986" y="122.20" width="18" height="5.35" fill="#ebb94c"/>
<rect x="1986" y="117.45" width="18" height="5.35" fill="#f0b94a"/>
<rect x="1986" y="112.70" width="18" height="5.35" fill="#f2bb46"/>
<rect x="1986" y="107.95" width="18" height="5.35" fill="#f4bd42"/>
<rect x="1986" y="103.20" width="18" height="5.35" fill="#f6bf3f"/>
<rect x="1986" y="98.45" width="18" height="5.35" fill="#f8c23b"/>
<rect x="1986" y="93.70" width="18" height="5.35" fill="#f8c736"/>
<rect x="1986" y="88.95" width="18" height="5.35" fill="#f9cd31"/>
<rect x="1986" y="84.20" width="18" height="5.35" fill="#f9d32d"/>
<rect x="1986" y="79.45" width="18" height="5.35" fill="#f9d62b"/>
<rect x="1986" y="74.70" width="18" height="5.35" fill="#fad929"/>
<text transform="translate(2009.5 128.487) scale(1.03 1)" font-size="26.5" text-anchor="start" fill="#262626">3.6</text>
<text transform="translate(2009.5 171.487) scale(1.03 1)" font-size="26.5" text-anchor="start" fill="#262626">3.0</text>
<text transform="translate(2009.5 214.987) scale(1.03 1)" font-size="26.5" text-anchor="start" fill="#262626">2.4</text>
<text transform="translate(2009.5 258.487) scale(1.03 1)" font-size="26.5" text-anchor="start" fill="#262626">1.8</text>
<text transform="translate(2009.5 301.987) scale(1.03 1)" font-size="26.5" text-anchor="start" fill="#262626">1.2</text>
<text transform="translate(2009.5 345.487) scale(1.03 1)" font-size="26.5" text-anchor="start" fill="#262626">0.6</text>
<text transform="translate(2009.5 389.487) scale(1.03 1)" font-size="26.5" text-anchor="start" fill="#262626">0.0</text>
<text transform="translate(1977 59) scale(0.93 1)" font-size="30" text-anchor="start" fill="#262626">T(E,k<tspan font-size="19" dy="6">y</tspan><tspan dy="-6">)</tspan></text>
<g id="plot4">
<clipPath id="cp4"><rect x="178.5" y="567.9" width="331.3" height="376.9"/></clipPath>
<g clip-path="url(#cp4)">
<rect x="174.5" y="563.9" width="339.3" height="384.9" fill="#34298a"/>
<path d="M176 566 L232.1 566 L216.1 586.1 L213.1 610.1 L206.1 620.1 L213.1 628.1 L212.1 650.2 L209.1 660.2 L213.1 680.2 L222.1 700.3 L238.1 716.3 L249.2 728.3 L247.2 744.4 L230.1 755.4 L210.1 760 L176 759.4Z" fill="#2d45c0" filter="url(#blf)"/>
<path d="M176 566 L232.1 566 L216.1 586.1 L213.1 610.1 L206.1 620.1 L213.1 628.1 L212.1 650.2 L209.1 660.2 L213.1 680.2 L222.1 700.3 L238.1 716.3 L249.2 728.3 L247.2 744.4 L230.1 755.4 L210.1 760 L176 759.4Z" fill="none" stroke="#10143c" stroke-width="0.9" stroke-opacity="0.7"/>
<path d="M176 577 L192 580 L207.1 592.1 L211.1 606.1 L208.1 615.5 L176 615.5Z" fill="#294ec5" filter="url(#blf)"/>
<path d="M176 577 L192 580 L207.1 592.1 L211.1 606.1 L208.1 615.5 L176 615.5Z" fill="none" stroke="#10143c" stroke-width="0.8" stroke-opacity="0.55" stroke-dasharray="3 1.5"/>
<path d="M176 580.3 L190.8 583 L204.6 594 L208.2 606.7 L205.5 615.3 L176 615.3Z" fill="#215cce" filter="url(#blf)"/>
<path d="M176 580.3 L190.8 583 L204.6 594 L208.2 606.7 L205.5 615.3 L176 615.3Z" fill="none" stroke="#10143c" stroke-width="0.8" stroke-opacity="0.55" stroke-dasharray="3 1.5"/>
<path d="M176 583.5 L189.5 585.9 L202.1 595.9 L205.3 607.4 L203 615 L176 615Z" fill="#196bd1" filter="url(#blf)"/>
<path d="M176 583.5 L189.5 585.9 L202.1 595.9 L205.3 607.4 L203 615 L176 615Z" fill="none" stroke="#10143c" stroke-width="0.8" stroke-opacity="0.55" stroke-dasharray="3 1.5"/>
<path d="M176 586.8 L188.2 588.9 L199.6 597.7 L202.4 608 L200.4 614.8 L176 614.8Z" fill="#147bd1" filter="url(#blf)"/>
<path d="M176 586.8 L188.2 588.9 L199.6 597.7 L202.4 608 L200.4 614.8 L176 614.8Z" fill="none" stroke="#10143c" stroke-width="0.8" stroke-opacity="0.55" stroke-dasharray="3 1.5"/>
<path d="M176 590 L187 591.9 L197.1 599.6 L199.6 608.6 L197.8 614.6 L176 614.6Z" fill="#1489cf" filter="url(#blf)"/>
<path d="M176 590 L187 591.9 L197.1 599.6 L199.6 608.6 L197.8 614.6 L176 614.6Z" fill="none" stroke="#10143c" stroke-width="0.8" stroke-opacity="0.55" stroke-dasharray="3 1.5"/>
<path d="M176 593.3 L185.8 594.8 L194.5 601.5 L196.7 609.2 L195.3 614.4 L176 614.4Z" fill="#1393cc" filter="url(#blf)"/>
<path d="M176 593.3 L185.8 594.8 L194.5 601.5 L196.7 609.2 L195.3 614.4 L176 614.4Z" fill="none" stroke="#10143c" stroke-width="0.8" stroke-opacity="0.55" stroke-dasharray="3 1.5"/>
<path d="M176 596.6 L184.5 597.8 L192 603.4 L193.8 609.9 L192.7 614.2 L176 614.2Z" fill="#129dc9" filter="url(#blf)"/>
<path d="M176 596.6 L184.5 597.8 L192 603.4 L193.8 609.9 L192.7 614.2 L176 614.2Z" fill="none" stroke="#10143c" stroke-width="0.8" stroke-opacity="0.55" stroke-dasharray="3 1.5"/>
<path d="M176 599.8 L183.2 600.7 L189.5 605.2 L190.9 610.5 L190.2 613.9 L176 613.9Z" fill="#14a6c3" filter="url(#blf)"/>
<path d="M176 599.8 L183.2 600.7 L189.5 605.2 L190.9 610.5 L190.2 613.9 L176 613.9Z" fill="none" stroke="#10143c" stroke-width="0.8" stroke-opacity="0.55" stroke-dasharray="3 1.5"/>
<path d="M176 603.1 L182 603.7 L187 607.1 L188 611.1 L187.6 613.7 L176 613.7Z" fill="#18aebc" filter="url(#blf)"/>
<path d="M176 603.1 L182 603.7 L187 607.1 L188 611.1 L187.6 613.7 L176 613.7Z" fill="none" stroke="#10143c" stroke-width="0.8" stroke-opacity="0.55" stroke-dasharray="3 1.5"/>
<path d="M179 614.7 L208.1 614.7" fill="none" stroke="#0a0b18" stroke-width="2.6" stroke-opacity="0.95" filter="url(#bll)"/>
<path d="M176 629.1 L209.7 629.1 L212.5 640.2 L209.7 652.6 L176 652.6Z" fill="#2555c9" filter="url(#blf)"/>
<path d="M176 629.1 L209.7 629.1 L212.5 640.2 L209.7 652.6 L176 652.6Z" fill="none" stroke="#10143c" stroke-width="0.8" stroke-opacity="0.55" stroke-dasharray="3 1.5"/>
<path d="M176 629.6 L207.5 629.6 L210.3 640.2 L207.5 652 L176 652Z" fill="#1a69d1" filter="url(#blf)"/>
<path d="M176 629.6 L207.5 629.6 L210.3 640.2 L207.5 652 L176 652Z" fill="none" stroke="#10143c" stroke-width="0.8" stroke-opacity="0.55" stroke-dasharray="3 1.5"/>
<path d="M176 630.1 L205.3 630.1 L208.1 640.2 L205.3 651.5 L176 651.5Z" fill="#147ed1" filter="url(#blf)"/>
<path d="M176 630.1 L205.3 630.1 L208.1 640.2 L205.3 651.5 L176 651.5Z" fill="none" stroke="#10143c" stroke-width="0.8" stroke-opacity="0.55" stroke-dasharray="3 1.5"/>
<path d="M176 630.6 L203.1 630.6 L205.8 640.2 L203.1 650.9 L176 650.9Z" fill="#1490cd" filter="url(#blf)"/>
<path d="M176 630.6 L203.1 630.6 L205.8 640.2 L203.1 650.9 L176 650.9Z" fill="none" stroke="#10143c" stroke-width="0.8" stroke-opacity="0.55" stroke-dasharray="3 1.5"/>
<path d="M176 631.2 L200.9 631.2 L203.6 640.2 L200.9 650.4 L176 650.4Z" fill="#129dc9" filter="url(#blf)"/>
<path d="M176 631.2 L200.9 631.2 L203.6 640.2 L200.9 650.4 L176 650.4Z" fill="none" stroke="#10143c" stroke-width="0.8" stroke-opacity="0.55" stroke-dasharray="3 1.5"/>
<path d="M176 631.7 L198.7 631.7 L201.4 640.2 L198.7 649.8 L176 649.8Z" fill="#16a9c0" filter="url(#blf)"/>
<path d="M176 631.7 L198.7 631.7 L201.4 640.2 L198.7 649.8 L176 649.8Z" fill="none" stroke="#10143c" stroke-width="0.8" stroke-opacity="0.55" stroke-dasharray="3 1.5"/>
<path d="M176 632.2 L196.5 632.2 L199.2 640.2 L196.5 649.3 L176 649.3Z" fill="#23b3b0" filter="url(#blf)"/>
<path d="M176 632.2 L196.5 632.2 L199.2 640.2 L196.5 649.3 L176 649.3Z" fill="none" stroke="#10143c" stroke-width="0.8" stroke-opacity="0.55" stroke-dasharray="3 1.5"/>
<path d="M176 632.7 L194.2 632.7 L196.9 640.2 L194.2 648.7 L176 648.7Z" fill="#3fb99a" filter="url(#blf)"/>
<path d="M176 632.7 L194.2 632.7 L196.9 640.2 L194.2 648.7 L176 648.7Z" fill="none" stroke="#10143c" stroke-width="0.8" stroke-opacity="0.55" stroke-dasharray="3 1.5"/>
<path d="M176 633.2 L192 633.2 L194.7 640.2 L192 648.2 L176 648.2Z" fill="#69bc86" filter="url(#blf)"/>
<path d="M176 633.2 L192 633.2 L194.7 640.2 L192 648.2 L176 648.2Z" fill="none" stroke="#10143c" stroke-width="0.8" stroke-opacity="0.55" stroke-dasharray="3 1.5"/>
<path d="M176 633.7 L189.8 633.7 L192.5 640.2 L189.8 647.6 L176 647.6Z" fill="#94bd74" filter="url(#blf)"/>
<path d="M176 633.7 L189.8 633.7 L192.5 640.2 L189.8 647.6 L176 647.6Z" fill="none" stroke="#10143c" stroke-width="0.8" stroke-opacity="0.55" stroke-dasharray="3 1.5"/>
<path d="M176 634.3 L187.6 634.3 L190.3 640.2 L187.6 647.1 L176 647.1Z" fill="#babc63" filter="url(#blf)"/>
<path d="M176 634.3 L187.6 634.3 L190.3 640.2 L187.6 647.1 L176 647.1Z" fill="none" stroke="#10143c" stroke-width="0.8" stroke-opacity="0.55" stroke-dasharray="3 1.5"/>
<path d="M176 634.8 L185.4 634.8 L188 640.2 L185.4 646.5 L176 646.5Z" fill="#daba55" filter="url(#blf)"/>
<path d="M176 634.8 L185.4 634.8 L188 640.2 L185.4 646.5 L176 646.5Z" fill="none" stroke="#10143c" stroke-width="0.8" stroke-opacity="0.55" stroke-dasharray="3 1.5"/>
<path d="M176 635.3 L183.2 635.3 L185.8 640.2 L183.2 646 L176 646Z" fill="#eeb94b" filter="url(#blf)"/>
<path d="M176 635.3 L183.2 635.3 L185.8 640.2 L183.2 646 L176 646Z" fill="none" stroke="#10143c" stroke-width="0.8" stroke-opacity="0.55" stroke-dasharray="3 1.5"/>
<path d="M176 635.8 L181 635.8 L183.6 640.2 L181 645.4 L176 645.4Z" fill="#f7bf3e" filter="url(#blf)"/>
<path d="M176 635.8 L181 635.8 L183.6 640.2 L181 645.4 L176 645.4Z" fill="none" stroke="#10143c" stroke-width="0.8" stroke-opacity="0.55" stroke-dasharray="3 1.5"/>
<path d="M179 629.1 L211.1 629.1" fill="none" stroke="#0a0b18" stroke-width="2.4" stroke-opacity="0.95" filter="url(#bll)"/>
<path d="M179 652.8 L211.1 652.8" fill="none" stroke="#0a0b18" stroke-width="2.8" stroke-opacity="0.95" filter="url(#bll)"/>
<path d="M176 679.2 L200.1 681.2 L209.1 690.3 L213.1 708.3 L210.1 715.3 L176 718.3Z" fill="#294ec5" filter="url(#blf)"/>
<path d="M176 679.2 L200.1 681.2 L209.1 690.3 L213.1 708.3 L210.1 715.3 L176 718.3Z" fill="none" stroke="#10143c" stroke-width="0.8" stroke-opacity="0.55" stroke-dasharray="3 1.5"/>
<path d="M176 680.5 L197.9 682.4 L206.4 691 L209.8 707.6 L206.5 714.2 L176 716.9Z" fill="#205dce" filter="url(#blf)"/>
<path d="M176 680.5 L197.9 682.4 L206.4 691 L209.8 707.6 L206.5 714.2 L176 716.9Z" fill="none" stroke="#10143c" stroke-width="0.8" stroke-opacity="0.55" stroke-dasharray="3 1.5"/>
<path d="M176 681.8 L195.8 683.5 L203.6 691.7 L206.5 706.9 L202.9 713 L176 715.4Z" fill="#186dd1" filter="url(#blf)"/>
<path d="M176 681.8 L195.8 683.5 L203.6 691.7 L206.5 706.9 L202.9 713 L176 715.4Z" fill="none" stroke="#10143c" stroke-width="0.8" stroke-opacity="0.55" stroke-dasharray="3 1.5"/>
<path d="M176 683.1 L193.6 684.7 L200.9 692.4 L203.2 706.2 L199.3 711.9 L176 714Z" fill="#147cd1" filter="url(#blf)"/>
<path d="M176 683.1 L193.6 684.7 L200.9 692.4 L203.2 706.2 L199.3 711.9 L176 714Z" fill="none" stroke="#10143c" stroke-width="0.8" stroke-opacity="0.55" stroke-dasharray="3 1.5"/>
<path d="M176 684.4 L191.5 685.8 L198.2 693.2 L199.9 705.4 L195.8 710.7 L176 712.6Z" fill="#148bcf" filter="url(#blf)"/>
<path d="M176 684.4 L191.5 685.8 L198.2 693.2 L199.9 705.4 L195.8 710.7 L176 712.6Z" fill="none" stroke="#10143c" stroke-width="0.8" stroke-opacity="0.55" stroke-dasharray="3 1.5"/>
<path d="M176 685.7 L189.3 687 L195.5 693.9 L196.6 704.7 L192.2 709.6 L176 711.2Z" fill="#1395cc" filter="url(#blf)"/>
<path d="M176 685.7 L189.3 687 L195.5 693.9 L196.6 704.7 L192.2 709.6 L176 711.2Z" fill="none" stroke="#10143c" stroke-width="0.8" stroke-opacity="0.55" stroke-dasharray="3 1.5"/>
<path d="M176 687 L187.2 688.1 L192.7 694.6 L193.3 704 L188.6 708.4 L176 709.7Z" fill="#129fc8" filter="url(#blf)"/>
<path d="M176 687 L187.2 688.1 L192.7 694.6 L193.3 704 L188.6 708.4 L176 709.7Z" fill="none" stroke="#10143c" stroke-width="0.8" stroke-opacity="0.55" stroke-dasharray="3 1.5"/>
<path d="M176 688.3 L185 689.3 L190 695.3 L190 703.3 L185 707.3 L176 708.3Z" fill="#15a8c1" filter="url(#blf)"/>
<path d="M176 688.3 L185 689.3 L190 695.3 L190 703.3 L185 707.3 L176 708.3Z" fill="none" stroke="#10143c" stroke-width="0.8" stroke-opacity="0.55" stroke-dasharray="3 1.5"/>
<path d="M179 679.8 L200.1 681" fill="none" stroke="#0a0b18" stroke-width="2" stroke-opacity="0.9" filter="url(#bll)"/>
<path d="M176 716.3 L210.1 718.3 L230.1 720.3 L244.1 729.3 L244.5 740.4 L227.1 749.4 L176 750.4Z" fill="#2b4ac2" filter="url(#blf)"/>
<path d="M176 716.3 L210.1 718.3 L230.1 720.3 L244.1 729.3 L244.5 740.4 L227.1 749.4 L176 750.4Z" fill="none" stroke="#10143c" stroke-width="0.8" stroke-opacity="0.55" stroke-dasharray="3 1.5"/>
<path d="M176 717.1 L208.5 719 L227.7 721.1 L241 729.6 L241.4 740 L225.1 748.4 L176 749.3Z" fill="#2358cb" filter="url(#blf)"/>
<path d="M176 717.1 L208.5 719 L227.7 721.1 L241 729.6 L241.4 740 L225.1 748.4 L176 749.3Z" fill="none" stroke="#10143c" stroke-width="0.8" stroke-opacity="0.55" stroke-dasharray="3 1.5"/>
<path d="M176 718 L206.9 719.7 L225.3 721.8 L237.9 729.8 L238.2 739.6 L223.1 747.3 L176 748.2Z" fill="#1c66d1" filter="url(#blf)"/>
<path d="M176 718 L206.9 719.7 L225.3 721.8 L237.9 729.8 L238.2 739.6 L223.1 747.3 L176 748.2Z" fill="none" stroke="#10143c" stroke-width="0.8" stroke-opacity="0.55" stroke-dasharray="3 1.5"/>
<path d="M176 718.8 L205.3 720.5 L222.9 722.6 L234.8 730.1 L235.1 739.2 L221.1 746.3 L176 747.1Z" fill="#1575d2" filter="url(#blf)"/>
<path d="M176 718.8 L205.3 720.5 L222.9 722.6 L234.8 730.1 L235.1 739.2 L221.1 746.3 L176 747.1Z" fill="none" stroke="#10143c" stroke-width="0.8" stroke-opacity="0.55" stroke-dasharray="3 1.5"/>
<path d="M176 719.7 L203.7 721.2 L220.5 723.3 L231.7 730.3 L231.9 738.8 L219.1 745.2 L176 746Z" fill="#1483d0" filter="url(#blf)"/>
<path d="M176 719.7 L203.7 721.2 L220.5 723.3 L231.7 730.3 L231.9 738.8 L219.1 745.2 L176 746Z" fill="none" stroke="#10143c" stroke-width="0.8" stroke-opacity="0.55" stroke-dasharray="3 1.5"/>
<path d="M176 720.5 L202.1 721.9 L218.1 724.1 L228.6 730.6 L228.8 738.4 L217.1 744.2 L176 744.9Z" fill="#148ece" filter="url(#blf)"/>
<path d="M176 720.5 L202.1 721.9 L218.1 724.1 L228.6 730.6 L228.8 738.4 L217.1 744.2 L176 744.9Z" fill="none" stroke="#10143c" stroke-width="0.8" stroke-opacity="0.55" stroke-dasharray="3 1.5"/>
<path d="M176 721.3 L200.4 722.6 L215.7 724.9 L225.5 730.9 L225.7 738 L215.1 743.2 L176 743.8Z" fill="#1398cb" filter="url(#blf)"/>
<path d="M176 721.3 L200.4 722.6 L215.7 724.9 L225.5 730.9 L225.7 738 L215.1 743.2 L176 743.8Z" fill="none" stroke="#10143c" stroke-width="0.8" stroke-opacity="0.55" stroke-dasharray="3 1.5"/>
<path d="M176 722.2 L198.8 723.3 L213.3 725.6 L222.4 731.1 L222.5 737.6 L213.1 742.1 L176 742.7Z" fill="#12a1c7" filter="url(#blf)"/>
<path d="M176 722.2 L198.8 723.3 L213.3 725.6 L222.4 731.1 L222.5 737.6 L213.1 742.1 L176 742.7Z" fill="none" stroke="#10143c" stroke-width="0.8" stroke-opacity="0.55" stroke-dasharray="3 1.5"/>
<path d="M176 723 L197.2 724.1 L210.9 726.4 L219.3 731.4 L219.4 737.2 L211.1 741.1 L176 741.6Z" fill="#16a8c1" filter="url(#blf)"/>
<path d="M176 723 L197.2 724.1 L210.9 726.4 L219.3 731.4 L219.4 737.2 L211.1 741.1 L176 741.6Z" fill="none" stroke="#10143c" stroke-width="0.8" stroke-opacity="0.55" stroke-dasharray="3 1.5"/>
<path d="M176 723.9 L195.6 724.8 L208.5 727.1 L216.2 731.6 L216.2 736.8 L209.1 740 L176 740.5Z" fill="#1cb0b8" filter="url(#blf)"/>
<path d="M176 723.9 L195.6 724.8 L208.5 727.1 L216.2 731.6 L216.2 736.8 L209.1 740 L176 740.5Z" fill="none" stroke="#10143c" stroke-width="0.8" stroke-opacity="0.55" stroke-dasharray="3 1.5"/>
<path d="M176 724.7 L194 725.5 L206.1 727.9 L213.1 731.9 L213.1 736.4 L207.1 739 L176 739.4Z" fill="#29b6a9" filter="url(#blf)"/>
<path d="M176 724.7 L194 725.5 L206.1 727.9 L213.1 731.9 L213.1 736.4 L207.1 739 L176 739.4Z" fill="none" stroke="#10143c" stroke-width="0.8" stroke-opacity="0.55" stroke-dasharray="3 1.5"/>
<path d="M179 740.8 L213.1 740.8" fill="none" stroke="#0a0b18" stroke-width="2.8" stroke-opacity="0.95" filter="url(#bll)"/>
<path d="M182 745.4 L210.1 745.4 L230.1 740.4" fill="none" stroke="#0a0b18" stroke-width="1.4" stroke-opacity="0.8" stroke-dasharray="6 4" filter="url(#bll)"/>
<path d="M292.3 839.7 L300 826 L325.5 817 L351 826 L358.5 839.7 L351 853 L325.5 862.7 L300 853Z" fill="#2d45c0" filter="url(#blf)"/>
<path d="M292.3 839.7 L300 826 L325.5 817 L351 826 L358.5 839.7 L351 853 L325.5 862.7 L300 853Z" fill="none" stroke="#10143c" stroke-width="0.9" stroke-opacity="0.6" stroke-dasharray="3 1.5"/>
<path d="M292.3 839.7 L300 826 L325.5 817 L351 826 L358.5 839.7 L351 853 L325.5 862.7 L300 853Z" fill="#3040b5" filter="url(#blf)"/>
<path d="M292.3 839.7 L300 826 L325.5 817 L351 826 L358.5 839.7 L351 853 L325.5 862.7 L300 853Z" fill="none" stroke="#10143c" stroke-width="0.9" stroke-opacity="0.5" stroke-dasharray="3 1.5"/>
<path d="M296.6 839.7 L303.3 827.7 L325.5 819.9 L347.7 827.7 L354.2 839.7 L347.7 851.4 L325.5 859.8 L303.3 851.4Z" fill="#2a4bc3" filter="url(#blf)"/>
<path d="M296.6 839.7 L303.3 827.7 L325.5 819.9 L347.7 827.7 L354.2 839.7 L347.7 851.4 L325.5 859.8 L303.3 851.4Z" fill="none" stroke="#10143c" stroke-width="0.9" stroke-opacity="0.5" stroke-dasharray="3 1.5"/>
<path d="M300.9 839.7 L306.6 829.4 L325.5 822.7 L344.4 829.4 L350 839.7 L344.4 849.7 L325.5 856.9 L306.6 849.7Z" fill="#2457ca" filter="url(#blf)"/>
<path d="M300.9 839.7 L306.6 829.4 L325.5 822.7 L344.4 829.4 L350 839.7 L344.4 849.7 L325.5 856.9 L306.6 849.7Z" fill="none" stroke="#10143c" stroke-width="0.9" stroke-opacity="0.5" stroke-dasharray="3 1.5"/>
<path d="M305.2 839.7 L309.9 831.1 L325.5 825.6 L341.1 831.1 L345.7 839.7 L341.1 848.1 L325.5 854 L309.9 848.1Z" fill="#1d62d0" filter="url(#blf)"/>
<path d="M305.2 839.7 L309.9 831.1 L325.5 825.6 L341.1 831.1 L345.7 839.7 L341.1 848.1 L325.5 854 L309.9 848.1Z" fill="none" stroke="#10143c" stroke-width="0.9" stroke-opacity="0.5" stroke-dasharray="3 1.5"/>
<path d="M309.4 839.7 L313.1 832.9 L325.5 828.4 L337.9 832.9 L341.5 839.7 L337.9 846.4 L325.5 851.2 L313.1 846.4Z" fill="#176fd1" filter="url(#blf)"/>
<path d="M309.4 839.7 L313.1 832.9 L325.5 828.4 L337.9 832.9 L341.5 839.7 L337.9 846.4 L325.5 851.2 L313.1 846.4Z" fill="none" stroke="#10143c" stroke-width="0.9" stroke-opacity="0.5" stroke-dasharray="3 1.5"/>
<path d="M313.7 839.7 L316.4 834.6 L325.5 831.3 L334.6 834.6 L337.2 839.7 L334.6 844.8 L325.5 848.3 L316.4 844.8Z" fill="#147bd1" filter="url(#blf)"/>
<path d="M313.7 839.7 L316.4 834.6 L325.5 831.3 L334.6 834.6 L337.2 839.7 L334.6 844.8 L325.5 848.3 L316.4 844.8Z" fill="none" stroke="#10143c" stroke-width="0.9" stroke-opacity="0.5" stroke-dasharray="3 1.5"/>
<path d="M318 839.7 L319.7 836.3 L325.5 834.1 L331.3 836.3 L333 839.7 L331.3 843.1 L325.5 845.4 L319.7 843.1Z" fill="#1486d0" filter="url(#blf)"/>
<path d="M318 839.7 L319.7 836.3 L325.5 834.1 L331.3 836.3 L333 839.7 L331.3 843.1 L325.5 845.4 L319.7 843.1Z" fill="none" stroke="#10143c" stroke-width="0.9" stroke-opacity="0.5" stroke-dasharray="3 1.5"/>
<path d="M322.3 839.7 L323 838 L325.5 837 L328 838 L328.7 839.7 L328 841.5 L325.5 842.5 L323 841.5Z" fill="#1490cd" filter="url(#blf)"/>
<path d="M322.3 839.7 L323 838 L325.5 837 L328 838 L328.7 839.7 L328 841.5 L325.5 842.5 L323 841.5Z" fill="none" stroke="#10143c" stroke-width="0.9" stroke-opacity="0.5" stroke-dasharray="3 1.5"/>
</g>
<rect x="178.5" y="567.9" width="331.3" height="376.9" fill="none" stroke="#141c58" stroke-width="1.6" stroke-opacity="0.9"/>
</g>
<path d="M178.5 775.5H509.8" stroke="#c8203c" stroke-width="3.5" fill="none"/>
<path d="M167.3 567.9H178.5M167.3 630.7H178.5M167.3 693.5H178.5M167.3 756.3H178.5M167.3 819.1H178.5M167.3 881.9H178.5M171.2 583.6H178.5M171.2 599.3H178.5M171.2 615H178.5M171.2 646.4H178.5M171.2 662.1H178.5M171.2 677.8H178.5M171.2 709.2H178.5M171.2 724.9H178.5M171.2 740.6H178.5M171.2 772H178.5M171.2 787.7H178.5M171.2 803.4H178.5M171.2 834.8H178.5M171.2 850.5H178.5M171.2 866.2H178.5M171.2 897.6H178.5M171.2 913.3H178.5M171.2 929H178.5" stroke="#484848" stroke-width="1.8" fill="none"/>
<text transform="translate(158.5 577.908) scale(1.03 1)" font-size="26" text-anchor="end" fill="#262626">−4.82</text>
<text transform="translate(158.5 640.708) scale(1.03 1)" font-size="26" text-anchor="end" fill="#262626">−4.84</text>
<text transform="translate(158.5 703.508) scale(1.03 1)" font-size="26" text-anchor="end" fill="#262626">−4.86</text>
<text transform="translate(158.5 766.308) scale(1.03 1)" font-size="26" text-anchor="end" fill="#262626">−4.88</text>
<text transform="translate(158.5 829.108) scale(1.03 1)" font-size="26" text-anchor="end" fill="#262626">−4.90</text>
<text transform="translate(158.5 891.908) scale(1.03 1)" font-size="26" text-anchor="end" fill="#262626">−4.92</text>
<path d="M178.9 944.8V955.3M273 944.8V955.3M367.1 944.8V955.3M461.2 944.8V955.3M194.583 944.8V951.6M210.267 944.8V951.6M225.95 944.8V951.6M241.633 944.8V951.6M257.317 944.8V951.6M288.683 944.8V951.6M304.367 944.8V951.6M320.05 944.8V951.6M335.733 944.8V951.6M351.417 944.8V951.6M382.783 944.8V951.6M398.467 944.8V951.6M414.15 944.8V951.6M429.833 944.8V951.6M445.517 944.8V951.6M476.883 944.8V951.6M492.567 944.8V951.6M508.25 944.8V951.6" stroke="#484848" stroke-width="1.8" fill="none"/>
<text transform="translate(178.9 983.6) scale(1.03 1)" font-size="26" text-anchor="middle" fill="#262626">0.00</text>
<text transform="translate(273 983.6) scale(1.03 1)" font-size="26" text-anchor="middle" fill="#262626">0.05</text>
<text transform="translate(367.1 983.6) scale(1.03 1)" font-size="26" text-anchor="middle" fill="#262626">0.10</text>
<text transform="translate(461.2 983.6) scale(1.03 1)" font-size="26" text-anchor="middle" fill="#262626">0.15</text>
<text transform="translate(79.3 755.2) rotate(-90) scale(0.995 1)" font-size="29.5" text-anchor="middle" fill="#262626">Energy, eV</text>
<text transform="translate(367.2 1034.6) scale(1.03 1)" font-size="28.5" text-anchor="middle" fill="#262626">k<tspan font-size="18.5" dy="6">x</tspan><tspan dy="-6">, 1/A</tspan></text>
<rect x="530" y="910.00" width="18" height="5.30" fill="#352a88"/>
<rect x="530" y="905.31" width="18" height="5.30" fill="#362b8a"/>
<rect x="530" y="900.61" width="18" height="5.30" fill="#372c8c"/>
<rect x="530" y="895.92" width="18" height="5.30" fill="#362f92"/>
<rect x="530" y="891.22" width="18" height="5.30" fill="#34359f"/>
<rect x="530" y="886.53" width="18" height="5.30" fill="#333aac"/>
<rect x="530" y="881.83" width="18" height="5.30" fill="#3040b6"/>
<rect x="530" y="877.14" width="18" height="5.30" fill="#2d46be"/>
<rect x="530" y="872.44" width="18" height="5.30" fill="#2a4bc3"/>
<rect x="530" y="867.75" width="18" height="5.30" fill="#2751c6"/>
<rect x="530" y="863.05" width="18" height="5.30" fill="#2456ca"/>
<rect x="530" y="858.36" width="18" height="5.30" fill="#215bce"/>
<rect x="530" y="853.66" width="18" height="5.30" fill="#1e61d0"/>
<rect x="530" y="848.97" width="18" height="5.30" fill="#1b67d1"/>
<rect x="530" y="844.27" width="18" height="5.30" fill="#186dd1"/>
<rect x="530" y="839.58" width="18" height="5.30" fill="#1573d2"/>
<rect x="530" y="834.88" width="18" height="5.30" fill="#1479d2"/>
<rect x="530" y="830.18" width="18" height="5.30" fill="#147ed1"/>
<rect x="530" y="825.49" width="18" height="5.30" fill="#1484d0"/>
<rect x="530" y="820.79" width="18" height="5.30" fill="#1489cf"/>
<rect x="530" y="816.10" width="18" height="5.30" fill="#148dce"/>
<rect x="530" y="811.40" width="18" height="5.30" fill="#1391cd"/>
<rect x="530" y="806.71" width="18" height="5.30" fill="#1395cc"/>
<rect x="530" y="802.01" width="18" height="5.30" fill="#1398cb"/>
<rect x="530" y="797.32" width="18" height="5.30" fill="#129cc9"/>
<rect x="530" y="792.62" width="18" height="5.30" fill="#12a0c8"/>
<rect x="530" y="787.93" width="18" height="5.30" fill="#13a3c6"/>
<rect x="530" y="783.23" width="18" height="5.30" fill="#15a6c3"/>
<rect x="530" y="778.54" width="18" height="5.30" fill="#16a9c0"/>
<rect x="530" y="773.84" width="18" height="5.30" fill="#17acbe"/>
<rect x="530" y="769.15" width="18" height="5.30" fill="#1aafb9"/>
<rect x="530" y="764.45" width="18" height="5.30" fill="#1fb1b3"/>
<rect x="530" y="759.75" width="18" height="5.30" fill="#25b4ae"/>
<rect x="530" y="755.06" width="18" height="5.30" fill="#2ab6a8"/>
<rect x="530" y="750.36" width="18" height="5.30" fill="#32b8a2"/>
<rect x="530" y="745.67" width="18" height="5.30" fill="#3db99c"/>
<rect x="530" y="740.97" width="18" height="5.30" fill="#48ba96"/>
<rect x="530" y="736.28" width="18" height="5.30" fill="#52bc90"/>
<rect x="530" y="731.58" width="18" height="5.30" fill="#5ebc8a"/>
<rect x="530" y="726.89" width="18" height="5.30" fill="#6abc85"/>
<rect x="530" y="722.19" width="18" height="5.30" fill="#76bd81"/>
<rect x="530" y="717.50" width="18" height="5.30" fill="#82bd7c"/>
<rect x="530" y="712.80" width="18" height="5.30" fill="#8ebd77"/>
<rect x="530" y="708.11" width="18" height="5.30" fill="#99bd72"/>
<rect x="530" y="703.41" width="18" height="5.30" fill="#a4bc6d"/>
<rect x="530" y="698.72" width="18" height="5.30" fill="#afbc68"/>
<rect x="530" y="694.02" width="18" height="5.30" fill="#b9bc63"/>
<rect x="530" y="689.33" width="18" height="5.30" fill="#c2bb5f"/>
<rect x="530" y="684.63" width="18" height="5.30" fill="#cbbb5c"/>
<rect x="530" y="679.93" width="18" height="5.30" fill="#d4ba58"/>
<rect x="530" y="675.24" width="18" height="5.30" fill="#dbba54"/>
<rect x="530" y="670.54" width="18" height="5.30" fill="#e0ba52"/>
<rect x="530" y="665.85" width="18" height="5.30" fill="#e6b94f"/>
<rect x="530" y="661.15" width="18" height="5.30" fill="#ebb94c"/>
<rect x="530" y="656.46" width="18" height="5.30" fill="#f0b94a"/>
<rect x="530" y="651.76" width="18" height="5.30" fill="#f2bb46"/>
<rect x="530" y="647.07" width="18" height="5.30" fill="#f4bd42"/>
<rect x="530" y="642.37" width="18" height="5.30" fill="#f6bf3f"/>
<rect x="530" y="637.68" width="18" height="5.30" fill="#f8c23b"/>
<rect x="530" y="632.98" width="18" height="5.30" fill="#f8c736"/>
<rect x="530" y="628.29" width="18" height="5.30" fill="#f9cd31"/>
<rect x="530" y="623.59" width="18" height="5.30" fill="#f9d32d"/>
<rect x="530" y="618.90" width="18" height="5.30" fill="#f9d62b"/>
<rect x="530" y="614.20" width="18" height="5.30" fill="#fad929"/>
<text transform="translate(556 668.808) scale(1.03 1)" font-size="26" text-anchor="start" fill="#262626">2.9</text>
<text transform="translate(556 711.808) scale(1.03 1)" font-size="26" text-anchor="start" fill="#262626">2.8</text>
<text transform="translate(556 755.208) scale(1.03 1)" font-size="26" text-anchor="start" fill="#262626">2.6</text>
<text transform="translate(556 798.308) scale(1.03 1)" font-size="26" text-anchor="start" fill="#262626">2.5</text>
<text transform="translate(556 841.408) scale(1.03 1)" font-size="26" text-anchor="start" fill="#262626">2.3</text>
<text transform="translate(556 884.408) scale(1.03 1)" font-size="26" text-anchor="start" fill="#262626">2.1</text>
<text transform="translate(556 926.408) scale(1.03 1)" font-size="26" text-anchor="start" fill="#262626">2.0</text>
<text transform="translate(526 594) scale(0.94 1)" font-size="30" text-anchor="start" fill="#262626">T(E,k<tspan font-size="23" dy="8">X</tspan><tspan dy="-8">)</tspan></text>
<g id="plot5">
<clipPath id="cp5"><rect x="895.3" y="563.2" width="347.3" height="381.6"/></clipPath>
<g clip-path="url(#cp5)">
<rect x="891.3" y="559.2" width="355.3" height="389.6" fill="#34298a"/>
<path d="M935.7 607.3 L935.7 581.1 L942.3 564.6 L956.2 559.4 L987.6 559.4 L1010.2 564.6 L1011.6 581.1 L1011.1 607.3Z" fill="#2d45c0" filter="url(#blf)"/>
<path d="M935.7 607.3 L935.7 581.1 L942.3 564.6 L956.2 559.4 L987.6 559.4 L1010.2 564.6 L1011.6 581.1 L1011.1 607.3Z" fill="none" stroke="#10143c" stroke-width="0.9" stroke-opacity="0.7"/>
<path d="M935.7 607.3 L935.7 581.1 L942.3 564.6 L956.2 559.4 L987.6 559.4 L1010.2 564.6 L1011.6 581.1 L1011.1 607.3Z" fill="#2555c9" filter="url(#blf)"/>
<path d="M935.7 607.3 L935.7 581.1 L942.3 564.6 L956.2 559.4 L987.6 559.4 L1010.2 564.6 L1011.6 581.1 L1011.1 607.3Z" fill="none" stroke="#10143c" stroke-width="0.8" stroke-opacity="0.55" stroke-dasharray="3 1.5"/>
<path d="M939.1 607.3 L939.3 582.8 L945.3 567 L957.8 561.5 L986 561.5 L1006.3 567 L1007.7 582.8 L1007.4 607.3Z" fill="#1b67d1" filter="url(#blf)"/>
<path d="M939.1 607.3 L939.3 582.8 L945.3 567 L957.8 561.5 L986 561.5 L1006.3 567 L1007.7 582.8 L1007.4 607.3Z" fill="none" stroke="#10143c" stroke-width="0.8" stroke-opacity="0.55" stroke-dasharray="3 1.5"/>
<path d="M941.9 607.3 L942.2 584.1 L947.8 568.9 L959.2 563.2 L984.7 563.2 L1003.1 568.9 L1004.5 584.1 L1004.4 607.3Z" fill="#147ad2" filter="url(#blf)"/>
<path d="M941.9 607.3 L942.2 584.1 L947.8 568.9 L959.2 563.2 L984.7 563.2 L1003.1 568.9 L1004.5 584.1 L1004.4 607.3Z" fill="none" stroke="#10143c" stroke-width="0.8" stroke-opacity="0.55" stroke-dasharray="3 1.5"/>
<path d="M944.4 607.3 L944.8 585.3 L950 570.7 L960.4 564.8 L983.5 564.8 L1000.2 570.7 L1001.6 585.3 L1001.7 607.3Z" fill="#148bcf" filter="url(#blf)"/>
<path d="M944.4 607.3 L944.8 585.3 L950 570.7 L960.4 564.8 L983.5 564.8 L1000.2 570.7 L1001.6 585.3 L1001.7 607.3Z" fill="none" stroke="#10143c" stroke-width="0.8" stroke-opacity="0.55" stroke-dasharray="3 1.5"/>
<path d="M946.9 607.3 L947.4 586.5 L952.2 572.4 L961.5 566.3 L982.4 566.3 L997.5 572.4 L998.9 586.5 L999 607.3Z" fill="#1397cb" filter="url(#blf)"/>
<path d="M946.9 607.3 L947.4 586.5 L952.2 572.4 L961.5 566.3 L982.4 566.3 L997.5 572.4 L998.9 586.5 L999 607.3Z" fill="none" stroke="#10143c" stroke-width="0.8" stroke-opacity="0.55" stroke-dasharray="3 1.5"/>
<path d="M949.2 607.3 L949.8 587.6 L954.2 574 L962.7 567.7 L981.3 567.7 L994.8 574 L996.2 587.6 L996.5 607.3Z" fill="#13a2c6" filter="url(#blf)"/>
<path d="M949.2 607.3 L949.8 587.6 L954.2 574 L962.7 567.7 L981.3 567.7 L994.8 574 L996.2 587.6 L996.5 607.3Z" fill="none" stroke="#10143c" stroke-width="0.8" stroke-opacity="0.55" stroke-dasharray="3 1.5"/>
<path d="M951.5 607.3 L952.1 588.7 L956.2 575.6 L963.7 569.1 L980.2 569.1 L992.2 575.6 L993.6 588.7 L994.1 607.3Z" fill="#17acbe" filter="url(#blf)"/>
<path d="M951.5 607.3 L952.1 588.7 L956.2 575.6 L963.7 569.1 L980.2 569.1 L992.2 575.6 L993.6 588.7 L994.1 607.3Z" fill="none" stroke="#10143c" stroke-width="0.8" stroke-opacity="0.55" stroke-dasharray="3 1.5"/>
<path d="M953.7 607.3 L954.5 589.8 L958.2 577.1 L964.8 570.5 L979.2 570.5 L989.7 577.1 L991.1 589.8 L991.7 607.3Z" fill="#25b4ad" filter="url(#blf)"/>
<path d="M953.7 607.3 L954.5 589.8 L958.2 577.1 L964.8 570.5 L979.2 570.5 L989.7 577.1 L991.1 589.8 L991.7 607.3Z" fill="none" stroke="#10143c" stroke-width="0.8" stroke-opacity="0.55" stroke-dasharray="3 1.5"/>
<path d="M955.8 607.3 L956.7 590.9 L960.1 578.6 L965.8 571.8 L978.2 571.8 L987.3 578.6 L988.7 590.9 L989.3 607.3Z" fill="#40ba9a" filter="url(#blf)"/>
<path d="M955.8 607.3 L956.7 590.9 L960.1 578.6 L965.8 571.8 L978.2 571.8 L987.3 578.6 L988.7 590.9 L989.3 607.3Z" fill="none" stroke="#10143c" stroke-width="0.8" stroke-opacity="0.55" stroke-dasharray="3 1.5"/>
<path d="M958 607.3 L958.9 591.9 L961.9 580.1 L966.8 573.1 L977.2 573.1 L984.9 580.1 L986.3 591.9 L987.1 607.3Z" fill="#64bc88" filter="url(#blf)"/>
<path d="M958 607.3 L958.9 591.9 L961.9 580.1 L966.8 573.1 L977.2 573.1 L984.9 580.1 L986.3 591.9 L987.1 607.3Z" fill="none" stroke="#10143c" stroke-width="0.8" stroke-opacity="0.55" stroke-dasharray="3 1.5"/>
<path d="M960 607.3 L961.1 592.9 L963.8 581.6 L967.8 574.4 L976.2 574.4 L982.5 581.6 L983.9 592.9 L984.8 607.3Z" fill="#8bbd78" filter="url(#blf)"/>
<path d="M960 607.3 L961.1 592.9 L963.8 581.6 L967.8 574.4 L976.2 574.4 L982.5 581.6 L983.9 592.9 L984.8 607.3Z" fill="none" stroke="#10143c" stroke-width="0.8" stroke-opacity="0.55" stroke-dasharray="3 1.5"/>
<path d="M962.1 607.3 L963.2 593.9 L965.6 583 L968.8 575.7 L975.2 575.7 L980.1 583 L981.5 593.9 L982.6 607.3Z" fill="#aebc68" filter="url(#blf)"/>
<path d="M962.1 607.3 L963.2 593.9 L965.6 583 L968.8 575.7 L975.2 575.7 L980.1 583 L981.5 593.9 L982.6 607.3Z" fill="none" stroke="#10143c" stroke-width="0.8" stroke-opacity="0.55" stroke-dasharray="3 1.5"/>
<path d="M964.1 607.3 L965.3 594.9 L967.4 584.4 L969.8 576.9 L974.3 576.9 L977.8 584.4 L979.2 594.9 L980.4 607.3Z" fill="#ccbb5b" filter="url(#blf)"/>
<path d="M964.1 607.3 L965.3 594.9 L967.4 584.4 L969.8 576.9 L974.3 576.9 L977.8 584.4 L979.2 594.9 L980.4 607.3Z" fill="none" stroke="#10143c" stroke-width="0.8" stroke-opacity="0.55" stroke-dasharray="3 1.5"/>
<path d="M966.1 607.3 L967.4 595.8 L969.2 585.8 L970.8 578.2 L973.3 578.2 L975.6 585.8 L977 595.8 L978.2 607.3Z" fill="#e2ba51" filter="url(#blf)"/>
<path d="M966.1 607.3 L967.4 595.8 L969.2 585.8 L970.8 578.2 L973.3 578.2 L975.6 585.8 L977 595.8 L978.2 607.3Z" fill="none" stroke="#10143c" stroke-width="0.8" stroke-opacity="0.55" stroke-dasharray="3 1.5"/>
<path d="M968.1 607.3 L969.5 596.8 L970.9 587.2 L971.7 579.4 L972.4 579.4 L973.3 587.2 L974.7 596.8 L976.1 607.3Z" fill="#f1ba48" filter="url(#blf)"/>
<path d="M968.1 607.3 L969.5 596.8 L970.9 587.2 L971.7 579.4 L972.4 579.4 L973.3 587.2 L974.7 596.8 L976.1 607.3Z" fill="none" stroke="#10143c" stroke-width="0.8" stroke-opacity="0.55" stroke-dasharray="3 1.5"/>
<path d="M959.7 572.4 L971.9 571 L984.1 572.4" fill="none" stroke="#0a0b18" stroke-width="1.8" stroke-opacity="0.8" stroke-dasharray="3 2" filter="url(#bll)"/>
<path d="M937.9 607.3 L1011.1 607.3" fill="none" stroke="#0a0b18" stroke-width="2.2" stroke-opacity="0.9" filter="url(#bll)"/>
<path d="M921.4 683.1 C921.4 680.9 924.6 678.0 926.6 675.2 C928.6 672.4 931.7 670.0 933.6 666.5 C935.5 663.0 936.5 658.4 937.9 654.3 C939.3 650.2 939.8 645.6 942.3 642.1 C944.8 638.6 948.6 635.7 952.7 633.4 C956.8 631.1 960.6 628.9 966.7 628.2 C972.8 627.5 981.8 628.7 989.3 629.1 C996.8 629.5 1003.9 629.5 1012 630.8 C1020.1 632.1 1029.4 634.7 1038.1 636.9 C1046.8 639.1 1056.1 640.1 1064.2 643.9 C1072.3 647.7 1080.8 655.3 1086.9 659.5 C1093.0 663.7 1096.5 665.6 1100.8 669.1 C1105.1 672.6 1109.8 676.6 1113 680.5 C1116.2 684.4 1118.0 688.4 1120 692.7 C1122.0 697.1 1124.2 702.0 1125.2 706.6 C1126.2 711.2 1125.7 716.1 1125.8 720.5 C1125.9 724.9 1126.0 728.6 1126.1 732.7 C1126.1 736.8 1132.3 742.7 1126.1 744.9 C1119.8 747.1 1100.9 745.8 1088.6 745.8 C1076.2 745.8 1058.2 746.8 1052 744.9 C1045.8 743.0 1051.8 738.3 1051.5 734.5 C1051.2 730.7 1053.7 725.3 1050.3 722.3 C1046.9 719.2 1037.5 718.0 1031.1 716.2 C1024.7 714.5 1019.0 712.9 1012 711.8 C1005.0 710.7 996.6 710.3 989.3 709.7 C982.0 709.1 974.8 709.7 968.4 708.3 C962.0 706.9 956.8 703.7 951 701.4 C945.2 699.1 937.7 696.6 933.6 694.4 C929.5 692.2 928.6 690.2 926.6 688.3 C924.6 686.4 921.4 685.3 921.4 683.1Z" fill="#2d45c0" filter="url(#blf)"/>
<path d="M921.4 683.1 C921.4 680.9 924.6 678.0 926.6 675.2 C928.6 672.4 931.7 670.0 933.6 666.5 C935.5 663.0 936.5 658.4 937.9 654.3 C939.3 650.2 939.8 645.6 942.3 642.1 C944.8 638.6 948.6 635.7 952.7 633.4 C956.8 631.1 960.6 628.9 966.7 628.2 C972.8 627.5 981.8 628.7 989.3 629.1 C996.8 629.5 1003.9 629.5 1012 630.8 C1020.1 632.1 1029.4 634.7 1038.1 636.9 C1046.8 639.1 1056.1 640.1 1064.2 643.9 C1072.3 647.7 1080.8 655.3 1086.9 659.5 C1093.0 663.7 1096.5 665.6 1100.8 669.1 C1105.1 672.6 1109.8 676.6 1113 680.5 C1116.2 684.4 1118.0 688.4 1120 692.7 C1122.0 697.1 1124.2 702.0 1125.2 706.6 C1126.2 711.2 1125.7 716.1 1125.8 720.5 C1125.9 724.9 1126.0 728.6 1126.1 732.7 C1126.1 736.8 1132.3 742.7 1126.1 744.9 C1119.8 747.1 1100.9 745.8 1088.6 745.8 C1076.2 745.8 1058.2 746.8 1052 744.9 C1045.8 743.0 1051.8 738.3 1051.5 734.5 C1051.2 730.7 1053.7 725.3 1050.3 722.3 C1046.9 719.2 1037.5 718.0 1031.1 716.2 C1024.7 714.5 1019.0 712.9 1012 711.8 C1005.0 710.7 996.6 710.3 989.3 709.7 C982.0 709.1 974.8 709.7 968.4 708.3 C962.0 706.9 956.8 703.7 951 701.4 C945.2 699.1 937.7 696.6 933.6 694.4 C929.5 692.2 928.6 690.2 926.6 688.3 C924.6 686.4 921.4 685.3 921.4 683.1Z" fill="none" stroke="#10143c" stroke-width="0.9" stroke-opacity="0.7"/>
<path d="M934.4 669.1 C935.1 663.3 935.2 657.5 942.3 653.4 C949.4 649.3 962.6 646.2 977.1 644.7 C991.6 643.2 1013.4 642.4 1029.4 644.7 C1045.4 647.0 1063.3 653.9 1073 658.7 C1082.7 663.5 1085.0 666.8 1087.8 673.5 C1090.5 680.2 1093.4 693.7 1089.5 698.8 C1085.6 703.9 1077.1 704.3 1064.2 704 C1051.3 703.7 1028.0 698.8 1012 697 C996.0 695.2 980.8 695.0 968.4 693.5 C956.0 692.0 943.6 692.4 937.9 688.3 C932.2 684.2 933.7 674.9 934.4 669.1Z" fill="#2358cb" filter="url(#blf)"/>
<path d="M934.4 669.1 C935.1 663.3 935.2 657.5 942.3 653.4 C949.4 649.3 962.6 646.2 977.1 644.7 C991.6 643.2 1013.4 642.4 1029.4 644.7 C1045.4 647.0 1063.3 653.9 1073 658.7 C1082.7 663.5 1085.0 666.8 1087.8 673.5 C1090.5 680.2 1093.4 693.7 1089.5 698.8 C1085.6 703.9 1077.1 704.3 1064.2 704 C1051.3 703.7 1028.0 698.8 1012 697 C996.0 695.2 980.8 695.0 968.4 693.5 C956.0 692.0 943.6 692.4 937.9 688.3 C932.2 684.2 933.7 674.9 934.4 669.1Z" fill="none" stroke="#10143c" stroke-width="0.8" stroke-opacity="0.6" stroke-dasharray="4 1.5"/>
<path d="M938.5 669.2 C939.2 663.9 939.1 658.4 945.8 654.7 C952.5 651.0 965.0 648.1 978.5 646.8 C992.0 645.5 1012.1 644.5 1027.1 646.7 C1042.0 648.9 1058.8 655.6 1068.2 660.1 C1077.7 664.6 1080.9 667.5 1083.8 673.7 C1086.7 679.9 1089.0 692.7 1085.4 697.5 C1081.8 702.3 1074.0 702.8 1062.3 702.4 C1050.6 702.0 1030.0 697.0 1015.1 695.2 C1000.2 693.4 985.4 693.1 973.2 691.7 C961.0 690.3 947.5 690.5 941.7 686.8 C935.9 683.0 937.8 674.6 938.5 669.2Z" fill="#1a6ad1" filter="url(#blf)"/>
<path d="M938.5 669.2 C939.2 663.9 939.1 658.4 945.8 654.7 C952.5 651.0 965.0 648.1 978.5 646.8 C992.0 645.5 1012.1 644.5 1027.1 646.7 C1042.0 648.9 1058.8 655.6 1068.2 660.1 C1077.7 664.6 1080.9 667.5 1083.8 673.7 C1086.7 679.9 1089.0 692.7 1085.4 697.5 C1081.8 702.3 1074.0 702.8 1062.3 702.4 C1050.6 702.0 1030.0 697.0 1015.1 695.2 C1000.2 693.4 985.4 693.1 973.2 691.7 C961.0 690.3 947.5 690.5 941.7 686.8 C935.9 683.0 937.8 674.6 938.5 669.2Z" fill="none" stroke="#10143c" stroke-width="0.8" stroke-opacity="0.6" stroke-dasharray="4 1.5"/>
<path d="M942.5 669.3 C943.1 664.4 943.1 659.4 949.3 656 C955.5 652.6 967.2 650.1 979.8 648.9 C992.4 647.7 1010.9 646.7 1024.8 648.8 C1038.7 650.9 1054.1 657.3 1063.3 661.5 C1072.5 665.7 1076.8 668.1 1079.8 673.9 C1082.8 679.7 1084.7 691.8 1081.4 696.3 C1078.2 700.8 1070.8 701.2 1060.3 700.7 C1049.8 700.2 1031.9 695.2 1018.2 693.4 C1004.5 691.6 990.2 691.1 978.1 689.8 C966.0 688.5 951.4 688.8 945.5 685.4 C939.6 682.0 941.9 674.2 942.5 669.3Z" fill="#147bd1" filter="url(#blf)"/>
<path d="M942.5 669.3 C943.1 664.4 943.1 659.4 949.3 656 C955.5 652.6 967.2 650.1 979.8 648.9 C992.4 647.7 1010.9 646.7 1024.8 648.8 C1038.7 650.9 1054.1 657.3 1063.3 661.5 C1072.5 665.7 1076.8 668.1 1079.8 673.9 C1082.8 679.7 1084.7 691.8 1081.4 696.3 C1078.2 700.8 1070.8 701.2 1060.3 700.7 C1049.8 700.2 1031.9 695.2 1018.2 693.4 C1004.5 691.6 990.2 691.1 978.1 689.8 C966.0 688.5 951.4 688.8 945.5 685.4 C939.6 682.0 941.9 674.2 942.5 669.3Z" fill="none" stroke="#10143c" stroke-width="0.8" stroke-opacity="0.6" stroke-dasharray="4 1.5"/>
<path d="M946.6 669.4 C947.2 665.0 946.9 660.4 952.7 657.3 C958.5 654.2 969.6 652.0 981.2 650.9 C992.8 649.8 1009.5 648.8 1022.4 650.8 C1035.3 652.8 1049.6 659.0 1058.5 662.9 C1067.4 666.8 1072.8 668.8 1075.9 674.1 C1079.0 679.5 1080.2 690.8 1077.3 695 C1074.4 699.2 1067.7 699.7 1058.4 699.1 C1049.1 698.5 1033.9 693.5 1021.3 691.6 C1008.7 689.8 994.9 689.3 982.9 688 C970.9 686.7 955.2 687.0 949.2 683.9 C943.2 680.8 946.0 673.8 946.6 669.4Z" fill="#148ccf" filter="url(#blf)"/>
<path d="M946.6 669.4 C947.2 665.0 946.9 660.4 952.7 657.3 C958.5 654.2 969.6 652.0 981.2 650.9 C992.8 649.8 1009.5 648.8 1022.4 650.8 C1035.3 652.8 1049.6 659.0 1058.5 662.9 C1067.4 666.8 1072.8 668.8 1075.9 674.1 C1079.0 679.5 1080.2 690.8 1077.3 695 C1074.4 699.2 1067.7 699.7 1058.4 699.1 C1049.1 698.5 1033.9 693.5 1021.3 691.6 C1008.7 689.8 994.9 689.3 982.9 688 C970.9 686.7 955.2 687.0 949.2 683.9 C943.2 680.8 946.0 673.8 946.6 669.4Z" fill="none" stroke="#10143c" stroke-width="0.8" stroke-opacity="0.6" stroke-dasharray="4 1.5"/>
<path d="M950.7 669.5 C951.2 665.5 950.9 661.4 956.2 658.6 C961.5 655.9 971.9 654.0 982.5 653 C993.1 652.0 1008.2 650.9 1020.1 652.8 C1032.0 654.7 1045.0 660.7 1053.6 664.3 C1062.2 667.9 1068.6 669.4 1071.9 674.3 C1075.2 679.2 1075.8 689.9 1073.2 693.7 C1070.6 697.6 1064.6 698.0 1056.5 697.4 C1048.4 696.8 1035.9 691.7 1024.4 689.8 C1013.0 687.9 999.7 687.4 987.8 686.2 C975.9 685.0 959.2 685.3 953 682.5 C946.8 679.7 950.2 673.5 950.7 669.5Z" fill="#1397cb" filter="url(#blf)"/>
<path d="M950.7 669.5 C951.2 665.5 950.9 661.4 956.2 658.6 C961.5 655.9 971.9 654.0 982.5 653 C993.1 652.0 1008.2 650.9 1020.1 652.8 C1032.0 654.7 1045.0 660.7 1053.6 664.3 C1062.2 667.9 1068.6 669.4 1071.9 674.3 C1075.2 679.2 1075.8 689.9 1073.2 693.7 C1070.6 697.6 1064.6 698.0 1056.5 697.4 C1048.4 696.8 1035.9 691.7 1024.4 689.8 C1013.0 687.9 999.7 687.4 987.8 686.2 C975.9 685.0 959.2 685.3 953 682.5 C946.8 679.7 950.2 673.5 950.7 669.5Z" fill="none" stroke="#10143c" stroke-width="0.8" stroke-opacity="0.6" stroke-dasharray="4 1.5"/>
<path d="M954.7 669.6 C955.2 666.1 954.8 662.3 959.7 659.9 C964.6 657.5 974.2 655.9 983.9 655.1 C993.6 654.3 1007.0 653.1 1017.8 654.9 C1028.6 656.7 1040.4 662.5 1048.8 665.8 C1057.2 669.0 1064.5 669.9 1067.9 674.4 C1071.3 678.9 1071.4 688.9 1069.2 692.5 C1067.0 696.1 1061.5 696.5 1054.5 695.8 C1047.5 695.0 1037.8 689.9 1027.5 688 C1017.2 686.1 1004.4 685.5 992.6 684.3 C980.8 683.1 963.1 683.5 956.8 681 C950.5 678.5 954.2 673.1 954.7 669.6Z" fill="#13a2c6" filter="url(#blf)"/>
<path d="M954.7 669.6 C955.2 666.1 954.8 662.3 959.7 659.9 C964.6 657.5 974.2 655.9 983.9 655.1 C993.6 654.3 1007.0 653.1 1017.8 654.9 C1028.6 656.7 1040.4 662.5 1048.8 665.8 C1057.2 669.0 1064.5 669.9 1067.9 674.4 C1071.3 678.9 1071.4 688.9 1069.2 692.5 C1067.0 696.1 1061.5 696.5 1054.5 695.8 C1047.5 695.0 1037.8 689.9 1027.5 688 C1017.2 686.1 1004.4 685.5 992.6 684.3 C980.8 683.1 963.1 683.5 956.8 681 C950.5 678.5 954.2 673.1 954.7 669.6Z" fill="none" stroke="#10143c" stroke-width="0.8" stroke-opacity="0.6" stroke-dasharray="4 1.5"/>
<path d="M958.8 669.7 C959.2 666.6 958.8 663.3 963.2 661.2 C967.6 659.1 976.5 657.9 985.2 657.2 C993.9 656.5 1005.7 655.2 1015.5 656.9 C1025.3 658.6 1035.8 664.2 1043.9 667.2 C1052.0 670.2 1060.4 670.6 1063.9 674.6 C1067.4 678.6 1067.0 688.0 1065.1 691.2 C1063.2 694.5 1058.3 694.9 1052.6 694.1 C1046.8 693.3 1039.8 688.1 1030.6 686.2 C1021.4 684.3 1009.2 683.6 997.5 682.5 C985.8 681.4 967.1 681.7 960.6 679.6 C954.1 677.5 958.4 672.8 958.8 669.7Z" fill="#17abbe" filter="url(#blf)"/>
<path d="M958.8 669.7 C959.2 666.6 958.8 663.3 963.2 661.2 C967.6 659.1 976.5 657.9 985.2 657.2 C993.9 656.5 1005.7 655.2 1015.5 656.9 C1025.3 658.6 1035.8 664.2 1043.9 667.2 C1052.0 670.2 1060.4 670.6 1063.9 674.6 C1067.4 678.6 1067.0 688.0 1065.1 691.2 C1063.2 694.5 1058.3 694.9 1052.6 694.1 C1046.8 693.3 1039.8 688.1 1030.6 686.2 C1021.4 684.3 1009.2 683.6 997.5 682.5 C985.8 681.4 967.1 681.7 960.6 679.6 C954.1 677.5 958.4 672.8 958.8 669.7Z" fill="none" stroke="#10143c" stroke-width="0.8" stroke-opacity="0.6" stroke-dasharray="4 1.5"/>
<path d="M962.9 669.8 C963.3 667.2 962.6 664.3 966.6 662.5 C970.6 660.7 978.9 659.8 986.6 659.2 C994.4 658.6 1004.4 657.3 1013.1 658.9 C1021.9 660.5 1031.3 666.0 1039.1 668.6 C1046.9 671.2 1056.3 671.2 1060 674.8 C1063.7 678.3 1062.5 686.9 1061 689.9 C1059.5 692.9 1055.2 693.4 1050.7 692.5 C1046.2 691.6 1041.8 686.4 1033.7 684.4 C1025.6 682.4 1013.9 681.8 1002.3 680.7 C990.7 679.7 970.9 679.9 964.3 678.1 C957.7 676.3 962.5 672.4 962.9 669.8Z" fill="#23b3af" filter="url(#blf)"/>
<path d="M962.9 669.8 C963.3 667.2 962.6 664.3 966.6 662.5 C970.6 660.7 978.9 659.8 986.6 659.2 C994.4 658.6 1004.4 657.3 1013.1 658.9 C1021.9 660.5 1031.3 666.0 1039.1 668.6 C1046.9 671.2 1056.3 671.2 1060 674.8 C1063.7 678.3 1062.5 686.9 1061 689.9 C1059.5 692.9 1055.2 693.4 1050.7 692.5 C1046.2 691.6 1041.8 686.4 1033.7 684.4 C1025.6 682.4 1013.9 681.8 1002.3 680.7 C990.7 679.7 970.9 679.9 964.3 678.1 C957.7 676.3 962.5 672.4 962.9 669.8Z" fill="none" stroke="#10143c" stroke-width="0.8" stroke-opacity="0.6" stroke-dasharray="4 1.5"/>
<path d="M966.9 669.9 C967.2 667.8 966.6 665.2 970.1 663.8 C973.6 662.4 981.1 661.8 987.9 661.3 C994.7 660.8 1003.1 659.5 1010.8 661 C1018.5 662.5 1026.7 667.7 1034.2 670 C1041.7 672.3 1052.2 671.9 1056 675 C1059.8 678.1 1058.2 686.1 1057 688.7 C1055.8 691.3 1052.1 691.8 1048.7 690.8 C1045.3 689.8 1043.7 684.6 1036.8 682.6 C1029.9 680.6 1018.7 679.8 1007.2 678.8 C995.8 677.8 974.8 678.2 968.1 676.7 C961.4 675.2 966.6 672.0 966.9 669.9Z" fill="#3bb99c" filter="url(#blf)"/>
<path d="M966.9 669.9 C967.2 667.8 966.6 665.2 970.1 663.8 C973.6 662.4 981.1 661.8 987.9 661.3 C994.7 660.8 1003.1 659.5 1010.8 661 C1018.5 662.5 1026.7 667.7 1034.2 670 C1041.7 672.3 1052.2 671.9 1056 675 C1059.8 678.1 1058.2 686.1 1057 688.7 C1055.8 691.3 1052.1 691.8 1048.7 690.8 C1045.3 689.8 1043.7 684.6 1036.8 682.6 C1029.9 680.6 1018.7 679.8 1007.2 678.8 C995.8 677.8 974.8 678.2 968.1 676.7 C961.4 675.2 966.6 672.0 966.9 669.9Z" fill="none" stroke="#10143c" stroke-width="0.8" stroke-opacity="0.6" stroke-dasharray="4 1.5"/>
<path d="M971 670 C971.3 668.3 970.6 666.2 973.6 665.1 C976.6 664.0 983.5 663.8 989.3 663.4 C995.1 663.0 1001.8 661.7 1008.5 663 C1015.2 664.3 1022.2 669.4 1029.4 671.4 C1036.7 673.4 1048.1 672.5 1052 675.2 C1055.9 677.9 1053.8 685.1 1052.9 687.4 C1052.0 689.7 1049.0 690.3 1046.8 689.2 C1044.6 688.1 1045.7 682.8 1039.9 680.8 C1034.1 678.8 1023.3 677.9 1012 677 C1000.7 676.1 978.7 676.4 971.9 675.2 C965.1 674.0 970.7 671.7 971 670Z" fill="#5dbc8b" filter="url(#blf)"/>
<path d="M971 670 C971.3 668.3 970.6 666.2 973.6 665.1 C976.6 664.0 983.5 663.8 989.3 663.4 C995.1 663.0 1001.8 661.7 1008.5 663 C1015.2 664.3 1022.2 669.4 1029.4 671.4 C1036.7 673.4 1048.1 672.5 1052 675.2 C1055.9 677.9 1053.8 685.1 1052.9 687.4 C1052.0 689.7 1049.0 690.3 1046.8 689.2 C1044.6 688.1 1045.7 682.8 1039.9 680.8 C1034.1 678.8 1023.3 677.9 1012 677 C1000.7 676.1 978.7 676.4 971.9 675.2 C965.1 674.0 970.7 671.7 971 670Z" fill="none" stroke="#10143c" stroke-width="0.8" stroke-opacity="0.6" stroke-dasharray="4 1.5"/>
<path d="M968.4 656.9 L987.6 658.2 L1008.5 656.9 L1015.5 652.9" fill="none" stroke="#0a0b18" stroke-width="2.6" stroke-opacity="0.9" filter="url(#bll)"/>
<path d="M971.9 683.9 L994.5 681.3 L1012 683.4" fill="none" stroke="#0a0b18" stroke-width="3" stroke-opacity="0.9" filter="url(#bll)"/>
<path d="M1012 659.5 L1022.4 666.5 L1029.4 670" fill="none" stroke="#0a0b18" stroke-width="1.4" stroke-opacity="0.7" filter="url(#bll)"/>
<path d="M1052.4 745.6 L1053.4 717 L1064.2 708 L1081.7 704.5 L1107.8 706.2 L1122.1 715.3 L1124.9 729.2 L1124.9 745.6Z" fill="#294ec5" filter="url(#blf)"/>
<path d="M1052.4 745.6 L1053.4 717 L1064.2 708 L1081.7 704.5 L1107.8 706.2 L1122.1 715.3 L1124.9 729.2 L1124.9 745.6Z" fill="none" stroke="#10143c" stroke-width="0.8" stroke-opacity="0.55" stroke-dasharray="3 1.5"/>
<path d="M1055.7 745.6 L1056.7 719 L1066.5 710 L1082.3 705.9 L1105.7 707.4 L1118.6 716.5 L1121.3 729.9 L1121.4 745.6Z" fill="#1f60d0" filter="url(#blf)"/>
<path d="M1055.7 745.6 L1056.7 719 L1066.5 710 L1082.3 705.9 L1105.7 707.4 L1118.6 716.5 L1121.3 729.9 L1121.4 745.6Z" fill="none" stroke="#10143c" stroke-width="0.8" stroke-opacity="0.55" stroke-dasharray="3 1.5"/>
<path d="M1058.3 745.6 L1059.4 720.7 L1068.4 711.6 L1082.8 707.1 L1104.1 708.4 L1115.8 717.5 L1118.4 730.5 L1118.6 745.6Z" fill="#1573d2" filter="url(#blf)"/>
<path d="M1058.3 745.6 L1059.4 720.7 L1068.4 711.6 L1082.8 707.1 L1104.1 708.4 L1115.8 717.5 L1118.4 730.5 L1118.6 745.6Z" fill="none" stroke="#10143c" stroke-width="0.8" stroke-opacity="0.55" stroke-dasharray="3 1.5"/>
<path d="M1060.8 745.6 L1061.9 722.2 L1070.1 713 L1083.2 708.1 L1102.5 709.4 L1113.2 718.4 L1115.7 731.1 L1116 745.6Z" fill="#1486d0" filter="url(#blf)"/>
<path d="M1060.8 745.6 L1061.9 722.2 L1070.1 713 L1083.2 708.1 L1102.5 709.4 L1113.2 718.4 L1115.7 731.1 L1116 745.6Z" fill="none" stroke="#10143c" stroke-width="0.8" stroke-opacity="0.55" stroke-dasharray="3 1.5"/>
<path d="M1063.1 745.6 L1064.2 723.6 L1071.8 714.4 L1083.6 709.1 L1101.1 710.2 L1110.8 719.2 L1113.1 731.6 L1113.6 745.6Z" fill="#1393cc" filter="url(#blf)"/>
<path d="M1063.1 745.6 L1064.2 723.6 L1071.8 714.4 L1083.6 709.1 L1101.1 710.2 L1110.8 719.2 L1113.1 731.6 L1113.6 745.6Z" fill="none" stroke="#10143c" stroke-width="0.8" stroke-opacity="0.55" stroke-dasharray="3 1.5"/>
<path d="M1065.3 745.6 L1066.5 725 L1073.4 715.8 L1084 710.1 L1099.7 711.1 L1108.4 720 L1110.6 732.1 L1111.2 745.6Z" fill="#129fc8" filter="url(#blf)"/>
<path d="M1065.3 745.6 L1066.5 725 L1073.4 715.8 L1084 710.1 L1099.7 711.1 L1108.4 720 L1110.6 732.1 L1111.2 745.6Z" fill="none" stroke="#10143c" stroke-width="0.8" stroke-opacity="0.55" stroke-dasharray="3 1.5"/>
<path d="M1067.5 745.6 L1068.7 726.3 L1074.9 717.1 L1084.4 711 L1098.3 711.9 L1106.1 720.8 L1108.3 732.6 L1108.9 745.6Z" fill="#16aac0" filter="url(#blf)"/>
<path d="M1067.5 745.6 L1068.7 726.3 L1074.9 717.1 L1084.4 711 L1098.3 711.9 L1106.1 720.8 L1108.3 732.6 L1108.9 745.6Z" fill="none" stroke="#10143c" stroke-width="0.8" stroke-opacity="0.55" stroke-dasharray="3 1.5"/>
<path d="M1069.6 745.6 L1070.8 727.7 L1076.4 718.3 L1084.8 711.9 L1097 712.7 L1103.9 721.6 L1105.9 733.1 L1106.7 745.6Z" fill="#22b2b0" filter="url(#blf)"/>
<path d="M1069.6 745.6 L1070.8 727.7 L1076.4 718.3 L1084.8 711.9 L1097 712.7 L1103.9 721.6 L1105.9 733.1 L1106.7 745.6Z" fill="none" stroke="#10143c" stroke-width="0.8" stroke-opacity="0.55" stroke-dasharray="3 1.5"/>
<path d="M1071.7 745.6 L1072.9 728.9 L1077.9 719.6 L1085.1 712.8 L1095.7 713.5 L1101.7 722.3 L1103.6 733.6 L1104.5 745.6Z" fill="#3bb99d" filter="url(#blf)"/>
<path d="M1071.7 745.6 L1072.9 728.9 L1077.9 719.6 L1085.1 712.8 L1095.7 713.5 L1101.7 722.3 L1103.6 733.6 L1104.5 745.6Z" fill="none" stroke="#10143c" stroke-width="0.8" stroke-opacity="0.55" stroke-dasharray="3 1.5"/>
<path d="M1073.7 745.6 L1075 730.2 L1079.3 720.8 L1085.5 713.7 L1094.4 714.2 L1099.6 723.1 L1101.4 734 L1102.4 745.6Z" fill="#5fbc8a" filter="url(#blf)"/>
<path d="M1073.7 745.6 L1075 730.2 L1079.3 720.8 L1085.5 713.7 L1094.4 714.2 L1099.6 723.1 L1101.4 734 L1102.4 745.6Z" fill="none" stroke="#10143c" stroke-width="0.8" stroke-opacity="0.55" stroke-dasharray="3 1.5"/>
<path d="M1075.7 745.6 L1077 731.4 L1080.7 722 L1085.8 714.6 L1093.2 715 L1097.5 723.8 L1099.2 734.5 L1100.3 745.6Z" fill="#87bd7a" filter="url(#blf)"/>
<path d="M1075.7 745.6 L1077 731.4 L1080.7 722 L1085.8 714.6 L1093.2 715 L1097.5 723.8 L1099.2 734.5 L1100.3 745.6Z" fill="none" stroke="#10143c" stroke-width="0.8" stroke-opacity="0.55" stroke-dasharray="3 1.5"/>
<path d="M1077.7 745.6 L1079 732.6 L1082.1 723.2 L1086.2 715.4 L1091.9 715.7 L1095.4 724.5 L1097 734.9 L1098.2 745.6Z" fill="#abbc6a" filter="url(#blf)"/>
<path d="M1077.7 745.6 L1079 732.6 L1082.1 723.2 L1086.2 715.4 L1091.9 715.7 L1095.4 724.5 L1097 734.9 L1098.2 745.6Z" fill="none" stroke="#10143c" stroke-width="0.8" stroke-opacity="0.55" stroke-dasharray="3 1.5"/>
<path d="M1079.6 745.6 L1080.9 733.8 L1083.5 724.3 L1086.5 716.3 L1090.7 716.5 L1093.3 725.2 L1094.9 735.3 L1096.1 745.6Z" fill="#cbbb5c" filter="url(#blf)"/>
<path d="M1079.6 745.6 L1080.9 733.8 L1083.5 724.3 L1086.5 716.3 L1090.7 716.5 L1093.3 725.2 L1094.9 735.3 L1096.1 745.6Z" fill="none" stroke="#10143c" stroke-width="0.8" stroke-opacity="0.55" stroke-dasharray="3 1.5"/>
<path d="M1081.5 745.6 L1082.9 735 L1084.9 725.5 L1086.9 717.1 L1089.5 717.2 L1091.3 725.9 L1092.8 735.8 L1094.1 745.6Z" fill="#e2ba51" filter="url(#blf)"/>
<path d="M1081.5 745.6 L1082.9 735 L1084.9 725.5 L1086.9 717.1 L1089.5 717.2 L1091.3 725.9 L1092.8 735.8 L1094.1 745.6Z" fill="none" stroke="#10143c" stroke-width="0.8" stroke-opacity="0.55" stroke-dasharray="3 1.5"/>
<path d="M1083.4 745.6 L1084.8 736.2 L1086.2 726.6 L1087.2 717.9 L1088.3 717.9 L1089.3 726.6 L1090.7 736.2 L1092.1 745.6Z" fill="#f1ba48" filter="url(#blf)"/>
<path d="M1083.4 745.6 L1084.8 736.2 L1086.2 726.6 L1087.2 717.9 L1088.3 717.9 L1089.3 726.6 L1090.7 736.2 L1092.1 745.6Z" fill="none" stroke="#10143c" stroke-width="0.8" stroke-opacity="0.55" stroke-dasharray="3 1.5"/>
<path d="M1054.7 746 L1124.9 746" fill="none" stroke="#0a0b18" stroke-width="2.4" stroke-opacity="0.9" filter="url(#bll)"/>
<path d="M1074.7 708.3 L1087.8 706.6 L1100.8 708.3" fill="none" stroke="#0a0b18" stroke-width="1.6" stroke-opacity="0.8" stroke-dasharray="3 2" filter="url(#bll)"/>
<path d="M1079.9 769.2 C1079.9 765.6 1078.8 764.1 1086.9 763.1 C1095.0 762.1 1118.5 761.8 1128.7 763.1 C1138.9 764.4 1142.4 767.3 1147.9 770.9 C1153.4 774.5 1159.2 778.1 1161.8 784.8 C1164.4 791.5 1164.8 802.3 1163.6 811 C1162.4 819.7 1159.0 830.7 1154.9 837.1 C1150.8 843.5 1143.9 847.1 1139.2 849.3 C1134.5 851.5 1132.2 852.2 1127 850.2 C1121.8 848.2 1113.9 843.6 1107.8 837.1 C1101.7 830.6 1093.9 819.7 1090.4 811 C1086.9 802.3 1088.7 791.8 1086.9 784.8 C1085.2 777.8 1079.9 772.8 1079.9 769.2Z" fill="#2d45c0" filter="url(#blf)"/>
<path d="M1079.9 769.2 C1079.9 765.6 1078.8 764.1 1086.9 763.1 C1095.0 762.1 1118.5 761.8 1128.7 763.1 C1138.9 764.4 1142.4 767.3 1147.9 770.9 C1153.4 774.5 1159.2 778.1 1161.8 784.8 C1164.4 791.5 1164.8 802.3 1163.6 811 C1162.4 819.7 1159.0 830.7 1154.9 837.1 C1150.8 843.5 1143.9 847.1 1139.2 849.3 C1134.5 851.5 1132.2 852.2 1127 850.2 C1121.8 848.2 1113.9 843.6 1107.8 837.1 C1101.7 830.6 1093.9 819.7 1090.4 811 C1086.9 802.3 1088.7 791.8 1086.9 784.8 C1085.2 777.8 1079.9 772.8 1079.9 769.2Z" fill="none" stroke="#10143c" stroke-width="0.9" stroke-opacity="0.7"/>
<path d="M1093 797 L1099.1 784.8 L1126.1 774.4 L1153.1 784.8 L1159.2 797 L1153.1 816.2 L1126.1 826.7 L1099.1 816.2Z" fill="#3040b5" filter="url(#blf)"/>
<path d="M1093 797 L1099.1 784.8 L1126.1 774.4 L1153.1 784.8 L1159.2 797 L1153.1 816.2 L1126.1 826.7 L1099.1 816.2Z" fill="none" stroke="#10143c" stroke-width="0.8" stroke-opacity="0.55" stroke-dasharray="3 1.5"/>
<path d="M1096.4 797.1 L1101.9 785.8 L1126.1 776.1 L1150.3 785.8 L1155.8 797.1 L1150.3 814.7 L1126.1 824.5 L1101.9 814.7Z" fill="#2850c6" filter="url(#blf)"/>
<path d="M1096.4 797.1 L1101.9 785.8 L1126.1 776.1 L1150.3 785.8 L1155.8 797.1 L1150.3 814.7 L1126.1 824.5 L1101.9 814.7Z" fill="none" stroke="#10143c" stroke-width="0.8" stroke-opacity="0.55" stroke-dasharray="3 1.5"/>
<path d="M1099.4 797.2 L1104.4 786.7 L1126.1 777.6 L1147.8 786.7 L1152.8 797.2 L1147.8 813.4 L1126.1 822.6 L1104.4 813.4Z" fill="#1e61d0" filter="url(#blf)"/>
<path d="M1099.4 797.2 L1104.4 786.7 L1126.1 777.6 L1147.8 786.7 L1152.8 797.2 L1147.8 813.4 L1126.1 822.6 L1104.4 813.4Z" fill="none" stroke="#10143c" stroke-width="0.8" stroke-opacity="0.55" stroke-dasharray="3 1.5"/>
<path d="M1102.2 797.3 L1106.7 787.5 L1126.1 779 L1145.5 787.5 L1150 797.3 L1145.5 812.1 L1126.1 820.7 L1106.7 812.1Z" fill="#1673d2" filter="url(#blf)"/>
<path d="M1102.2 797.3 L1106.7 787.5 L1126.1 779 L1145.5 787.5 L1150 797.3 L1145.5 812.1 L1126.1 820.7 L1106.7 812.1Z" fill="none" stroke="#10143c" stroke-width="0.8" stroke-opacity="0.55" stroke-dasharray="3 1.5"/>
<path d="M1104.9 797.4 L1108.9 788.3 L1126.1 780.4 L1143.3 788.3 L1147.3 797.4 L1143.3 810.9 L1126.1 819 L1108.9 810.9Z" fill="#1484d0" filter="url(#blf)"/>
<path d="M1104.9 797.4 L1108.9 788.3 L1126.1 780.4 L1143.3 788.3 L1147.3 797.4 L1143.3 810.9 L1126.1 819 L1108.9 810.9Z" fill="none" stroke="#10143c" stroke-width="0.8" stroke-opacity="0.55" stroke-dasharray="3 1.5"/>
<path d="M1107.6 797.4 L1111.1 789.1 L1126.1 781.7 L1141.1 789.1 L1144.6 797.4 L1141.1 809.8 L1126.1 817.3 L1111.1 809.8Z" fill="#1391cd" filter="url(#blf)"/>
<path d="M1107.6 797.4 L1111.1 789.1 L1126.1 781.7 L1141.1 789.1 L1144.6 797.4 L1141.1 809.8 L1126.1 817.3 L1111.1 809.8Z" fill="none" stroke="#10143c" stroke-width="0.8" stroke-opacity="0.55" stroke-dasharray="3 1.5"/>
<path d="M1110.2 797.5 L1113.2 789.9 L1126.1 783 L1139 789.9 L1142 797.5 L1139 808.6 L1126.1 815.6 L1113.2 808.6Z" fill="#129cc9" filter="url(#blf)"/>
<path d="M1110.2 797.5 L1113.2 789.9 L1126.1 783 L1139 789.9 L1142 797.5 L1139 808.6 L1126.1 815.6 L1113.2 808.6Z" fill="none" stroke="#10143c" stroke-width="0.8" stroke-opacity="0.55" stroke-dasharray="3 1.5"/>
<path d="M1112.7 797.6 L1115.3 790.7 L1126.1 784.3 L1136.9 790.7 L1139.5 797.6 L1136.9 807.5 L1126.1 813.9 L1115.3 807.5Z" fill="#15a6c3" filter="url(#blf)"/>
<path d="M1112.7 797.6 L1115.3 790.7 L1126.1 784.3 L1136.9 790.7 L1139.5 797.6 L1136.9 807.5 L1126.1 813.9 L1115.3 807.5Z" fill="none" stroke="#10143c" stroke-width="0.8" stroke-opacity="0.55" stroke-dasharray="3 1.5"/>
<path d="M1115.2 797.7 L1117.4 791.4 L1126.1 785.5 L1134.8 791.4 L1137 797.7 L1134.8 806.4 L1126.1 812.3 L1117.4 806.4Z" fill="#1bafb9" filter="url(#blf)"/>
<path d="M1115.2 797.7 L1117.4 791.4 L1126.1 785.5 L1134.8 791.4 L1137 797.7 L1134.8 806.4 L1126.1 812.3 L1117.4 806.4Z" fill="none" stroke="#10143c" stroke-width="0.8" stroke-opacity="0.55" stroke-dasharray="3 1.5"/>
<path d="M1117.7 797.8 L1119.5 792.1 L1126.1 786.8 L1132.7 792.1 L1134.5 797.8 L1132.7 805.3 L1126.1 810.7 L1119.5 805.3Z" fill="#2ab6a7" filter="url(#blf)"/>
<path d="M1117.7 797.8 L1119.5 792.1 L1126.1 786.8 L1132.7 792.1 L1134.5 797.8 L1132.7 805.3 L1126.1 810.7 L1119.5 805.3Z" fill="none" stroke="#10143c" stroke-width="0.8" stroke-opacity="0.55" stroke-dasharray="3 1.5"/>
<path d="M1120.2 797.8 L1121.5 792.9 L1126.1 788 L1130.7 792.9 L1132 797.8 L1130.7 804.2 L1126.1 809.1 L1121.5 804.2Z" fill="#49bb95" filter="url(#blf)"/>
<path d="M1120.2 797.8 L1121.5 792.9 L1126.1 788 L1130.7 792.9 L1132 797.8 L1130.7 804.2 L1126.1 809.1 L1121.5 804.2Z" fill="none" stroke="#10143c" stroke-width="0.8" stroke-opacity="0.55" stroke-dasharray="3 1.5"/>
<path d="M1122.6 797.9 L1123.5 793.6 L1126.1 789.2 L1128.7 793.6 L1129.6 797.9 L1128.7 803.1 L1126.1 807.5 L1123.5 803.1Z" fill="#6cbc85" filter="url(#blf)"/>
<path d="M1122.6 797.9 L1123.5 793.6 L1126.1 789.2 L1128.7 793.6 L1129.6 797.9 L1128.7 803.1 L1126.1 807.5 L1123.5 803.1Z" fill="none" stroke="#10143c" stroke-width="0.8" stroke-opacity="0.55" stroke-dasharray="3 1.5"/>
<path d="M1137.4 880.7 C1137.4 878.4 1147.9 875.8 1151.4 872 C1154.9 868.2 1156.0 861.1 1158.3 858 C1160.6 854.9 1163.0 853.1 1165.3 853.2 C1167.6 853.3 1170.0 855.3 1172.3 858.4 C1174.6 861.5 1175.7 868.3 1179.2 872 C1182.7 875.7 1193.5 878.4 1193.2 880.7 C1192.9 883.0 1182.2 884.6 1177.5 885.9 C1172.8 887.2 1169.6 888.5 1165.3 888.5 C1161.0 888.5 1156.1 887.2 1151.4 885.9 C1146.8 884.6 1137.4 883.0 1137.4 880.7Z" fill="#2d45c0" filter="url(#blf)"/>
<path d="M1137.4 880.7 C1137.4 878.4 1147.9 875.8 1151.4 872 C1154.9 868.2 1156.0 861.1 1158.3 858 C1160.6 854.9 1163.0 853.1 1165.3 853.2 C1167.6 853.3 1170.0 855.3 1172.3 858.4 C1174.6 861.5 1175.7 868.3 1179.2 872 C1182.7 875.7 1193.5 878.4 1193.2 880.7 C1192.9 883.0 1182.2 884.6 1177.5 885.9 C1172.8 887.2 1169.6 888.5 1165.3 888.5 C1161.0 888.5 1156.1 887.2 1151.4 885.9 C1146.8 884.6 1137.4 883.0 1137.4 880.7Z" fill="none" stroke="#10143c" stroke-width="0.9" stroke-opacity="0.7"/>
<path d="M1147.9 880.7 L1165.3 877.2 L1182.7 880.7 L1165.3 885Z" fill="#2c4cc6" filter="url(#blf)"/>
<path d="M1147.9 880.7 L1165.3 877.2 L1182.7 880.7 L1165.3 885Z" fill="none" stroke="#10143c" stroke-width="0.8" stroke-opacity="0.6" stroke-dasharray="3 2"/>
<path d="M1130.5 946.9 L1131.3 915.5 L1142.7 906 L1165.3 903.3 L1189.7 906 L1201 915.5 L1201.9 946.9Z" fill="#2d45c0" filter="url(#blf)"/>
<path d="M1130.5 946.9 L1131.3 915.5 L1142.7 906 L1165.3 903.3 L1189.7 906 L1201 915.5 L1201.9 946.9Z" fill="none" stroke="#10143c" stroke-width="0.9" stroke-opacity="0.7"/>
<path d="M1130.5 946.9 L1131.3 915.5 L1142.7 906 L1165.3 903.3 L1189.7 906 L1201 915.5 L1201.9 946.9Z" fill="#3040b5" filter="url(#blf)"/>
<path d="M1130.5 946.9 L1131.3 915.5 L1142.7 906 L1165.3 903.3 L1189.7 906 L1201 915.5 L1201.9 946.9Z" fill="none" stroke="#10143c" stroke-width="0.8" stroke-opacity="0.55" stroke-dasharray="3 1.5"/>
<path d="M1134.4 944.3 L1135.2 916.1 L1145.3 907.3 L1165.3 904.7 L1186.9 907.3 L1196.9 916.1 L1197.7 944.3Z" fill="#294fc5" filter="url(#blf)"/>
<path d="M1134.4 944.3 L1135.2 916.1 L1145.3 907.3 L1165.3 904.7 L1186.9 907.3 L1196.9 916.1 L1197.7 944.3Z" fill="none" stroke="#10143c" stroke-width="0.8" stroke-opacity="0.55" stroke-dasharray="3 1.5"/>
<path d="M1137.9 942 L1138.6 916.5 L1147.6 908.4 L1165.3 906 L1184.4 908.4 L1193.3 916.5 L1194.1 942Z" fill="#205dcf" filter="url(#blf)"/>
<path d="M1137.9 942 L1138.6 916.5 L1147.6 908.4 L1165.3 906 L1184.4 908.4 L1193.3 916.5 L1194.1 942Z" fill="none" stroke="#10143c" stroke-width="0.8" stroke-opacity="0.55" stroke-dasharray="3 1.5"/>
<path d="M1141.1 939.8 L1141.8 917 L1149.8 909.5 L1165.3 907.2 L1182.1 909.5 L1190 917 L1190.7 939.8Z" fill="#186dd1" filter="url(#blf)"/>
<path d="M1141.1 939.8 L1141.8 917 L1149.8 909.5 L1165.3 907.2 L1182.1 909.5 L1190 917 L1190.7 939.8Z" fill="none" stroke="#10143c" stroke-width="0.8" stroke-opacity="0.55" stroke-dasharray="3 1.5"/>
<path d="M1144.2 937.7 L1144.8 917.4 L1151.9 910.6 L1165.3 908.3 L1179.8 910.6 L1186.7 917.4 L1187.4 937.7Z" fill="#147cd1" filter="url(#blf)"/>
<path d="M1144.2 937.7 L1144.8 917.4 L1151.9 910.6 L1165.3 908.3 L1179.8 910.6 L1186.7 917.4 L1187.4 937.7Z" fill="none" stroke="#10143c" stroke-width="0.8" stroke-opacity="0.55" stroke-dasharray="3 1.5"/>
<path d="M1147.3 935.7 L1147.9 917.9 L1153.9 911.6 L1165.3 909.4 L1177.6 911.6 L1183.5 917.9 L1184.2 935.7Z" fill="#148bcf" filter="url(#blf)"/>
<path d="M1147.3 935.7 L1147.9 917.9 L1153.9 911.6 L1165.3 909.4 L1177.6 911.6 L1183.5 917.9 L1184.2 935.7Z" fill="none" stroke="#10143c" stroke-width="0.8" stroke-opacity="0.55" stroke-dasharray="3 1.5"/>
<path d="M1150.3 933.7 L1150.8 918.3 L1155.9 912.6 L1165.3 910.5 L1175.4 912.6 L1180.4 918.3 L1181 933.7Z" fill="#1395cc" filter="url(#blf)"/>
<path d="M1150.3 933.7 L1150.8 918.3 L1155.9 912.6 L1165.3 910.5 L1175.4 912.6 L1180.4 918.3 L1181 933.7Z" fill="none" stroke="#10143c" stroke-width="0.8" stroke-opacity="0.55" stroke-dasharray="3 1.5"/>
<path d="M1153.2 931.7 L1153.7 918.7 L1157.9 913.5 L1165.3 911.6 L1173.3 913.5 L1177.4 918.7 L1177.9 931.7Z" fill="#129fc8" filter="url(#blf)"/>
<path d="M1153.2 931.7 L1153.7 918.7 L1157.9 913.5 L1165.3 911.6 L1173.3 913.5 L1177.4 918.7 L1177.9 931.7Z" fill="none" stroke="#10143c" stroke-width="0.8" stroke-opacity="0.55" stroke-dasharray="3 1.5"/>
<path d="M1156.1 929.8 L1156.6 919.1 L1159.8 914.5 L1165.3 912.6 L1171.2 914.5 L1174.3 919.1 L1174.8 929.8Z" fill="#15a7c2" filter="url(#blf)"/>
<path d="M1156.1 929.8 L1156.6 919.1 L1159.8 914.5 L1165.3 912.6 L1171.2 914.5 L1174.3 919.1 L1174.8 929.8Z" fill="none" stroke="#10143c" stroke-width="0.8" stroke-opacity="0.55" stroke-dasharray="3 1.5"/>
<path d="M1159 927.9 L1159.4 919.5 L1161.7 915.5 L1165.3 913.7 L1169.1 915.5 L1171.3 919.5 L1171.8 927.9Z" fill="#1bafb9" filter="url(#blf)"/>
<path d="M1159 927.9 L1159.4 919.5 L1161.7 915.5 L1165.3 913.7 L1169.1 915.5 L1171.3 919.5 L1171.8 927.9Z" fill="none" stroke="#10143c" stroke-width="0.8" stroke-opacity="0.55" stroke-dasharray="3 1.5"/>
<path d="M1161.8 926 L1162.2 919.9 L1163.6 916.4 L1165.3 914.7 L1167.1 916.4 L1168.4 919.9 L1168.8 926Z" fill="#29b6a9" filter="url(#blf)"/>
<path d="M1161.8 926 L1162.2 919.9 L1163.6 916.4 L1165.3 914.7 L1167.1 916.4 L1168.4 919.9 L1168.8 926Z" fill="none" stroke="#10143c" stroke-width="0.8" stroke-opacity="0.55" stroke-dasharray="3 1.5"/>
</g>
<rect x="895.3" y="563.2" width="347.3" height="381.6" fill="none" stroke="#141c58" stroke-width="1.6" stroke-opacity="0.9"/>
</g>
<path d="M895.3 764H1242.6" stroke="#c81f45" stroke-width="3.5" fill="none"/>
<path d="M884.1 563.5H895.3M884.1 627.1H895.3M884.1 690.7H895.3M884.1 754.3H895.3M884.1 817.9H895.3M884.1 881.5H895.3M888 579.4H895.3M888 595.3H895.3M888 611.2H895.3M888 643H895.3M888 658.9H895.3M888 674.8H895.3M888 706.6H895.3M888 722.5H895.3M888 738.4H895.3M888 770.2H895.3M888 786.1H895.3M888 802H895.3M888 833.8H895.3M888 849.7H895.3M888 865.6H895.3M888 897.4H895.3M888 913.3H895.3M888 929.2H895.3" stroke="#484848" stroke-width="1.8" fill="none"/>
<text transform="translate(875 573.687) scale(1.03 1)" font-size="26.5" text-anchor="end" fill="#262626">−4.80</text>
<text transform="translate(875 637.287) scale(1.03 1)" font-size="26.5" text-anchor="end" fill="#262626">−4.82</text>
<text transform="translate(875 700.887) scale(1.03 1)" font-size="26.5" text-anchor="end" fill="#262626">−4.84</text>
<text transform="translate(875 764.487) scale(1.03 1)" font-size="26.5" text-anchor="end" fill="#262626">−4.86</text>
<text transform="translate(875 828.087) scale(1.03 1)" font-size="26.5" text-anchor="end" fill="#262626">−4.88</text>
<text transform="translate(875 891.687) scale(1.03 1)" font-size="26.5" text-anchor="end" fill="#262626">−4.90</text>
<path d="M895.3 944.8V955.3M990.9 944.8V955.3M1086.5 944.8V955.3M1182.1 944.8V955.3M914.42 944.8V951.6M933.54 944.8V951.6M952.66 944.8V951.6M971.78 944.8V951.6M1010.02 944.8V951.6M1029.14 944.8V951.6M1048.26 944.8V951.6M1067.38 944.8V951.6M1105.62 944.8V951.6M1124.74 944.8V951.6M1143.86 944.8V951.6M1162.98 944.8V951.6M1201.22 944.8V951.6M1220.34 944.8V951.6M1239.46 944.8V951.6" stroke="#484848" stroke-width="1.8" fill="none"/>
<text transform="translate(895.3 985) scale(1.03 1)" font-size="26.5" text-anchor="middle" fill="#262626">0.00</text>
<text transform="translate(990.9 985) scale(1.03 1)" font-size="26.5" text-anchor="middle" fill="#262626">0.05</text>
<text transform="translate(1086.5 985) scale(1.03 1)" font-size="26.5" text-anchor="middle" fill="#262626">0.10</text>
<text transform="translate(1182.1 985) scale(1.03 1)" font-size="26.5" text-anchor="middle" fill="#262626">0.15</text>
<text transform="translate(785.6 754.4) rotate(-90) scale(0.985 1)" font-size="29.5" text-anchor="middle" fill="#262626">Energy, eV</text>
<text transform="translate(1086.3 1039.8) scale(1.03 1)" font-size="28.5" text-anchor="middle" fill="#262626">k<tspan font-size="18.5" dy="6">x</tspan><tspan dy="-6">, 1/A</tspan></text>
<rect x="1259" y="917.92" width="19" height="5.38" fill="#352a88"/>
<rect x="1259" y="913.14" width="19" height="5.38" fill="#362b8a"/>
<rect x="1259" y="908.36" width="19" height="5.38" fill="#372c8c"/>
<rect x="1259" y="903.58" width="19" height="5.38" fill="#362f92"/>
<rect x="1259" y="898.79" width="19" height="5.38" fill="#34359f"/>
<rect x="1259" y="894.01" width="19" height="5.38" fill="#333aac"/>
<rect x="1259" y="889.23" width="19" height="5.38" fill="#3040b6"/>
<rect x="1259" y="884.45" width="19" height="5.38" fill="#2d46be"/>
<rect x="1259" y="879.67" width="19" height="5.38" fill="#2a4bc3"/>
<rect x="1259" y="874.89" width="19" height="5.38" fill="#2751c6"/>
<rect x="1259" y="870.11" width="19" height="5.38" fill="#2456ca"/>
<rect x="1259" y="865.33" width="19" height="5.38" fill="#215bce"/>
<rect x="1259" y="860.54" width="19" height="5.38" fill="#1e61d0"/>
<rect x="1259" y="855.76" width="19" height="5.38" fill="#1b67d1"/>
<rect x="1259" y="850.98" width="19" height="5.38" fill="#186dd1"/>
<rect x="1259" y="846.20" width="19" height="5.38" fill="#1573d2"/>
<rect x="1259" y="841.42" width="19" height="5.38" fill="#1479d2"/>
<rect x="1259" y="836.64" width="19" height="5.38" fill="#147ed1"/>
<rect x="1259" y="831.86" width="19" height="5.38" fill="#1484d0"/>
<rect x="1259" y="827.08" width="19" height="5.38" fill="#1489cf"/>
<rect x="1259" y="822.29" width="19" height="5.38" fill="#148dce"/>
<rect x="1259" y="817.51" width="19" height="5.38" fill="#1391cd"/>
<rect x="1259" y="812.73" width="19" height="5.38" fill="#1395cc"/>
<rect x="1259" y="807.95" width="19" height="5.38" fill="#1398cb"/>
<rect x="1259" y="803.17" width="19" height="5.38" fill="#129cc9"/>
<rect x="1259" y="798.39" width="19" height="5.38" fill="#12a0c8"/>
<rect x="1259" y="793.61" width="19" height="5.38" fill="#13a3c6"/>
<rect x="1259" y="788.83" width="19" height="5.38" fill="#15a6c3"/>
<rect x="1259" y="784.04" width="19" height="5.38" fill="#16a9c0"/>
<rect x="1259" y="779.26" width="19" height="5.38" fill="#17acbe"/>
<rect x="1259" y="774.48" width="19" height="5.38" fill="#1aafb9"/>
<rect x="1259" y="769.70" width="19" height="5.38" fill="#1fb1b3"/>
<rect x="1259" y="764.92" width="19" height="5.38" fill="#25b4ae"/>
<rect x="1259" y="760.14" width="19" height="5.38" fill="#2ab6a8"/>
<rect x="1259" y="755.36" width="19" height="5.38" fill="#32b8a2"/>
<rect x="1259" y="750.58" width="19" height="5.38" fill="#3db99c"/>
<rect x="1259" y="745.79" width="19" height="5.38" fill="#48ba96"/>
<rect x="1259" y="741.01" width="19" height="5.38" fill="#52bc90"/>
<rect x="1259" y="736.23" width="19" height="5.38" fill="#5ebc8a"/>
<rect x="1259" y="731.45" width="19" height="5.38" fill="#6abc85"/>
<rect x="1259" y="726.67" width="19" height="5.38" fill="#76bd81"/>
<rect x="1259" y="721.89" width="19" height="5.38" fill="#82bd7c"/>
<rect x="1259" y="717.11" width="19" height="5.38" fill="#8ebd77"/>
<rect x="1259" y="712.33" width="19" height="5.38" fill="#99bd72"/>
<rect x="1259" y="707.54" width="19" height="5.38" fill="#a4bc6d"/>
<rect x="1259" y="702.76" width="19" height="5.38" fill="#afbc68"/>
<rect x="1259" y="697.98" width="19" height="5.38" fill="#b9bc63"/>
<rect x="1259" y="693.20" width="19" height="5.38" fill="#c2bb5f"/>
<rect x="1259" y="688.42" width="19" height="5.38" fill="#cbbb5c"/>
<rect x="1259" y="683.64" width="19" height="5.38" fill="#d4ba58"/>
<rect x="1259" y="678.86" width="19" height="5.38" fill="#dbba54"/>
<rect x="1259" y="674.08" width="19" height="5.38" fill="#e0ba52"/>
<rect x="1259" y="669.29" width="19" height="5.38" fill="#e6b94f"/>
<rect x="1259" y="664.51" width="19" height="5.38" fill="#ebb94c"/>
<rect x="1259" y="659.73" width="19" height="5.38" fill="#f0b94a"/>
<rect x="1259" y="654.95" width="19" height="5.38" fill="#f2bb46"/>
<rect x="1259" y="650.17" width="19" height="5.38" fill="#f4bd42"/>
<rect x="1259" y="645.39" width="19" height="5.38" fill="#f6bf3f"/>
<rect x="1259" y="640.61" width="19" height="5.38" fill="#f8c23b"/>
<rect x="1259" y="635.83" width="19" height="5.38" fill="#f8c736"/>
<rect x="1259" y="631.04" width="19" height="5.38" fill="#f9cd31"/>
<rect x="1259" y="626.26" width="19" height="5.38" fill="#f9d32d"/>
<rect x="1259" y="621.48" width="19" height="5.38" fill="#f9d62b"/>
<rect x="1259" y="616.70" width="19" height="5.38" fill="#fad929"/>
<text transform="translate(1284 662.287) scale(1.03 1)" font-size="26.5" text-anchor="start" fill="#262626">2.8</text>
<text transform="translate(1284 717.287) scale(1.03 1)" font-size="26.5" text-anchor="start" fill="#262626">2.6</text>
<text transform="translate(1284 771.287) scale(1.03 1)" font-size="26.5" text-anchor="start" fill="#262626">2.5</text>
<text transform="translate(1284 825.287) scale(1.03 1)" font-size="26.5" text-anchor="start" fill="#262626">2.3</text>
<text transform="translate(1284 878.287) scale(1.03 1)" font-size="26.5" text-anchor="start" fill="#262626">2.1</text>
<text transform="translate(1284 932.287) scale(1.03 1)" font-size="26.5" text-anchor="start" fill="#262626">2.0</text>
<text transform="translate(1251 600.5) scale(0.91 1)" font-size="30" text-anchor="start" fill="#262626">T(E,k<tspan font-size="19" dy="6">x</tspan><tspan dy="-6">)</tspan></text>
<g id="plot6">
<clipPath id="cp6"><rect x="1612.3" y="555" width="347.4" height="377.8"/></clipPath>
<g clip-path="url(#cp6)">
<rect x="1608.3" y="551" width="355.4" height="385.8" fill="#2e3aa5"/>
<path d="M1962.5 842.1 L1867.9 849.3 L1778.6 860 L1707.1 870.7 L1612.1 881.4 L1612.1 935 L1962.5 935Z" fill="#2c46bb" filter="url(#blf)"/>
<path d="M1612.1 883.2 L1707.1 885.9 L1814.3 886.8 L1962.5 885 L1962.5 892.1 L1814.3 892.1 L1612.1 892.1Z" fill="#2a50c4" filter="url(#blf)"/>
<path d="M1612.1 902.9 L1707.1 904.6 L1832.1 904.6 L1962.5 902.9 L1962.5 912.7 L1814.3 913.6 L1612.1 913.6Z" fill="#2858c8" filter="url(#blf)"/>
<path d="M1612.1 928.8 L1760.7 930.5 L1962.5 926.1 L1962.5 935 L1612.1 935Z" fill="#2462cc" filter="url(#blf)"/>
<path d="M1883.9 552.1 C1871.4 555.4 1887.5 567.0 1887.5 571.8 C1887.5 576.6 1883.9 576.2 1883.9 580.7 C1883.9 585.2 1887.8 592.7 1887.5 598.6 C1887.2 604.5 1881.8 610.5 1882.1 616.4 C1882.4 622.3 1888.7 628.3 1889.3 634.3 C1889.9 640.2 1885.1 647.3 1885.7 652.1 C1886.3 656.9 1889.9 659.3 1892.9 662.9 C1895.9 666.5 1892.0 671.4 1903.6 673.6 C1915.2 675.8 1952.7 696.5 1962.5 676.2 C1972.3 656.0 1975.6 572.8 1962.5 552.1 C1949.4 531.4 1896.4 548.8 1883.9 552.1Z" fill="#2458d0" filter="url(#blf)"/>
<path d="M1883.9 552.1 C1871.4 555.4 1887.5 567.0 1887.5 571.8 C1887.5 576.6 1883.9 576.2 1883.9 580.7 C1883.9 585.2 1887.8 592.7 1887.5 598.6 C1887.2 604.5 1881.8 610.5 1882.1 616.4 C1882.4 622.3 1888.7 628.3 1889.3 634.3 C1889.9 640.2 1885.1 647.3 1885.7 652.1 C1886.3 656.9 1889.9 659.3 1892.9 662.9 C1895.9 666.5 1892.0 671.4 1903.6 673.6 C1915.2 675.8 1952.7 696.5 1962.5 676.2 C1972.3 656.0 1975.6 572.8 1962.5 552.1 C1949.4 531.4 1896.4 548.8 1883.9 552.1Z" fill="none" stroke="#1d2340" stroke-width="0.8" stroke-opacity="0.8"/>
<path d="M1892.9 552.1 C1881.9 555.4 1896.4 567.0 1896.4 571.8 C1896.4 576.6 1892.8 576.2 1892.9 580.7 C1893.1 585.2 1897.0 592.7 1897.3 598.6 C1897.6 604.5 1893.8 610.5 1894.6 616.4 C1895.3 622.3 1900.9 628.3 1901.8 634.3 C1902.7 640.2 1899.1 647.3 1900 652.1 C1900.9 656.9 1903.8 659.5 1907.1 662.9 C1910.4 666.3 1910.4 670.8 1919.6 672.7 C1928.8 674.6 1955.3 694.6 1962.5 674.5 C1969.7 654.4 1974.1 572.5 1962.5 552.1 C1950.9 531.7 1903.9 548.8 1892.9 552.1Z" fill="#1d78d4" filter="url(#blf)"/>
<path d="M1892.9 552.1 C1881.9 555.4 1896.4 567.0 1896.4 571.8 C1896.4 576.6 1892.8 576.2 1892.9 580.7 C1893.1 585.2 1897.0 592.7 1897.3 598.6 C1897.6 604.5 1893.8 610.5 1894.6 616.4 C1895.3 622.3 1900.9 628.3 1901.8 634.3 C1902.7 640.2 1899.1 647.3 1900 652.1 C1900.9 656.9 1903.8 659.5 1907.1 662.9 C1910.4 666.3 1910.4 670.8 1919.6 672.7 C1928.8 674.6 1955.3 694.6 1962.5 674.5 C1969.7 654.4 1974.1 572.5 1962.5 552.1 C1950.9 531.7 1903.9 548.8 1892.9 552.1Z" fill="none" stroke="#1d2340" stroke-width="0.8" stroke-opacity="0.8"/>
<path d="M1903.6 552.1 C1894.4 555.4 1906.9 567.0 1907.1 571.8 C1907.2 576.6 1904.2 576.2 1904.5 580.7 C1904.8 585.2 1908.5 592.7 1908.9 598.6 C1909.3 604.5 1906.2 610.5 1907.1 616.4 C1908.0 622.3 1912.2 628.3 1914.3 634.3 C1916.4 640.2 1916.9 647.3 1919.6 652.1 C1922.3 656.9 1923.2 660.2 1930.4 662.9 C1937.6 665.6 1957.2 686.7 1962.5 668.2 C1967.8 649.7 1972.3 571.5 1962.5 552.1 C1952.7 532.8 1912.8 548.8 1903.6 552.1Z" fill="#1592cf" filter="url(#blf)"/>
<path d="M1903.6 552.1 C1894.4 555.4 1906.9 567.0 1907.1 571.8 C1907.2 576.6 1904.2 576.2 1904.5 580.7 C1904.8 585.2 1908.5 592.7 1908.9 598.6 C1909.3 604.5 1906.2 610.5 1907.1 616.4 C1908.0 622.3 1912.2 628.3 1914.3 634.3 C1916.4 640.2 1916.9 647.3 1919.6 652.1 C1922.3 656.9 1923.2 660.2 1930.4 662.9 C1937.6 665.6 1957.2 686.7 1962.5 668.2 C1967.8 649.7 1972.3 571.5 1962.5 552.1 C1952.7 532.8 1912.8 548.8 1903.6 552.1Z" fill="none" stroke="#1d2340" stroke-width="0.8" stroke-opacity="0.8"/>
<path d="M1916.1 552.1 C1908.9 555.4 1919.3 567.0 1919.6 571.8 C1919.9 576.6 1917.3 576.2 1917.9 580.7 C1918.5 585.2 1921.7 592.7 1923.2 598.6 C1924.7 604.5 1924.1 611.4 1926.8 616.4 C1929.5 621.4 1933.3 626.2 1939.3 628.9 C1945.2 631.6 1958.6 645.3 1962.5 632.5 C1966.4 619.7 1970.2 565.5 1962.5 552.1 C1954.8 538.7 1923.2 548.8 1916.1 552.1Z" fill="#14a8bd" filter="url(#blf)"/>
<path d="M1916.1 552.1 C1908.9 555.4 1919.3 567.0 1919.6 571.8 C1919.9 576.6 1917.3 576.2 1917.9 580.7 C1918.5 585.2 1921.7 592.7 1923.2 598.6 C1924.7 604.5 1924.1 611.4 1926.8 616.4 C1929.5 621.4 1933.3 626.2 1939.3 628.9 C1945.2 631.6 1958.6 645.3 1962.5 632.5 C1966.4 619.7 1970.2 565.5 1962.5 552.1 C1954.8 538.7 1923.2 548.8 1916.1 552.1Z" fill="none" stroke="#1d2340" stroke-width="0.8" stroke-opacity="0.8"/>
<path d="M1928.6 552.1 C1923.5 554.5 1931.8 561.6 1932.1 566.4 C1932.4 571.2 1929.2 575.3 1930.4 580.7 C1931.6 586.1 1936.0 593.8 1939.3 598.6 C1942.6 603.4 1946.1 607.2 1950 609.3 C1953.9 611.4 1960.4 620.6 1962.5 611.1 C1964.6 601.6 1968.2 561.9 1962.5 552.1 C1956.8 542.3 1933.7 549.7 1928.6 552.1Z" fill="#22b1ae" filter="url(#blf)"/>
<path d="M1928.6 552.1 C1923.5 554.5 1931.8 561.6 1932.1 566.4 C1932.4 571.2 1929.2 575.3 1930.4 580.7 C1931.6 586.1 1936.0 593.8 1939.3 598.6 C1942.6 603.4 1946.1 607.2 1950 609.3 C1953.9 611.4 1960.4 620.6 1962.5 611.1 C1964.6 601.6 1968.2 561.9 1962.5 552.1 C1956.8 542.3 1933.7 549.7 1928.6 552.1Z" fill="none" stroke="#1d2340" stroke-width="0.8" stroke-opacity="0.8"/>
<path d="M1939.3 552.1 C1935.7 553.9 1939.3 559.6 1941.1 562.9 C1942.9 566.2 1946.4 569.7 1950 571.8 C1953.6 573.9 1960.4 578.7 1962.5 575.4 C1964.6 572.1 1966.4 556.0 1962.5 552.1 C1958.6 548.2 1942.9 550.3 1939.3 552.1Z" fill="#5cbc8c" filter="url(#blf)"/>
<path d="M1939.3 552.1 C1935.7 553.9 1939.3 559.6 1941.1 562.9 C1942.9 566.2 1946.4 569.7 1950 571.8 C1953.6 573.9 1960.4 578.7 1962.5 575.4 C1964.6 572.1 1966.4 556.0 1962.5 552.1 C1958.6 548.2 1942.9 550.3 1939.3 552.1Z" fill="none" stroke="#1d2340" stroke-width="0.8" stroke-opacity="0.8"/>
<path d="M1950 552.1 C1948.2 553.3 1949.7 557.2 1951.8 559.3 C1953.9 561.4 1960.7 565.8 1962.5 564.6 C1964.3 563.4 1964.6 554.2 1962.5 552.1 C1960.4 550.0 1951.8 550.9 1950 552.1Z" fill="#c9b95c" filter="url(#blf)"/>
<path d="M1950 552.1 C1948.2 553.3 1949.7 557.2 1951.8 559.3 C1953.9 561.4 1960.7 565.8 1962.5 564.6 C1964.3 563.4 1964.6 554.2 1962.5 552.1 C1960.4 550.0 1951.8 550.9 1950 552.1Z" fill="none" stroke="#1d2340" stroke-width="0.8" stroke-opacity="0.8"/>
<path d="M1926.8 578 L1944.6 576.7 L1962.5 576.2 L1962.5 579.9 L1944.6 579.4Z" fill="#0b0d20" filter="url(#blf)"/>
<path d="M1930.4 616.4 L1946.4 615.4 L1962.5 615.1 L1962.5 617.8 L1946.4 617.4Z" fill="#0b0d20" filter="url(#blf)"/>
<path d="M1926.8 637.9 L1944.6 636.9 L1962.5 636.5 L1962.5 639.2 L1944.6 638.8Z" fill="#0b0d20" filter="url(#blf)"/>
<path d="M1930.4 657.5 L1946.4 656.5 L1962.5 656.2 L1962.5 658.8 L1946.4 658.5Z" fill="#0b0d20" filter="url(#blf)"/>
<path d="M1894.6 677.5 L1928.6 675.7 L1962.5 675.1 L1962.5 679.9 L1928.6 679.3Z" fill="#0b0d20" filter="url(#blf)"/>
<path d="M1611 542.939 C1613.8 541.4 1623.7 542.6 1628 543.439 C1632.3 544.3 1637.0 546.4 1637 547.939 C1637.0 549.4 1632.3 551.6 1628 552.439 C1623.7 553.3 1613.8 554.5 1611 552.939 C1608.2 551.4 1608.2 544.5 1611 542.939Z" fill="#2a55cc" filter="url(#blf)"/>
<path d="M1611 542.939 C1613.8 541.4 1623.7 542.6 1628 543.439 C1632.3 544.3 1637.0 546.4 1637 547.939 C1637.0 549.4 1632.3 551.6 1628 552.439 C1623.7 553.3 1613.8 554.5 1611 552.939 C1608.2 551.4 1608.2 544.5 1611 542.939Z" fill="none" stroke="#1d2340" stroke-width="0.7" stroke-opacity="0.6"/>
<path d="M1611 562.989 C1613.8 561.4 1623.7 562.7 1628 563.489 C1632.3 564.3 1637.0 566.5 1637 567.989 C1637.0 569.5 1632.3 571.7 1628 572.489 C1623.7 573.3 1613.8 574.6 1611 572.989 C1608.2 571.4 1608.2 564.6 1611 562.989Z" fill="#2a55cc" filter="url(#blf)"/>
<path d="M1611 562.989 C1613.8 561.4 1623.7 562.7 1628 563.489 C1632.3 564.3 1637.0 566.5 1637 567.989 C1637.0 569.5 1632.3 571.7 1628 572.489 C1623.7 573.3 1613.8 574.6 1611 572.989 C1608.2 571.4 1608.2 564.6 1611 562.989Z" fill="none" stroke="#1d2340" stroke-width="0.7" stroke-opacity="0.6"/>
<path d="M1608 574.914 L1640 575.214 L1822.14 575.714 L1882.14 577.214 L1822.14 578.714 L1640 579.214 L1608 579.514Z" fill="#1f1d70" filter="url(#blf)"/>
<path d="M1608 574.914 L1640 575.214 L1822.14 575.714 L1882.14 577.214 L1822.14 578.714 L1640 579.214 L1608 579.514Z" fill="none" stroke="#1d2340" stroke-width="1.1" stroke-opacity="0.9"/>
<path d="M1611 583.039 C1613.8 581.5 1623.7 582.7 1628 583.539 C1632.3 584.4 1637.0 586.5 1637 588.039 C1637.0 589.5 1632.3 591.7 1628 592.539 C1623.7 593.4 1613.8 594.6 1611 593.039 C1608.2 591.5 1608.2 584.6 1611 583.039Z" fill="#2a55cc" filter="url(#blf)"/>
<path d="M1611 583.039 C1613.8 581.5 1623.7 582.7 1628 583.539 C1632.3 584.4 1637.0 586.5 1637 588.039 C1637.0 589.5 1632.3 591.7 1628 592.539 C1623.7 593.4 1613.8 594.6 1611 593.039 C1608.2 591.5 1608.2 584.6 1611 583.039Z" fill="none" stroke="#1d2340" stroke-width="0.7" stroke-opacity="0.6"/>
<path d="M1608 594.964 L1640 595.264 L1822.14 595.764 L1882.14 597.264 L1822.14 598.764 L1640 599.264 L1608 599.564Z" fill="#1f1d70" filter="url(#blf)"/>
<path d="M1608 594.964 L1640 595.264 L1822.14 595.764 L1882.14 597.264 L1822.14 598.764 L1640 599.264 L1608 599.564Z" fill="none" stroke="#1d2340" stroke-width="1.1" stroke-opacity="0.9"/>
<path d="M1611 603.089 C1613.8 601.5 1623.7 602.8 1628 603.589 C1632.3 604.4 1637.0 606.6 1637 608.089 C1637.0 609.6 1632.3 611.8 1628 612.589 C1623.7 613.4 1613.8 614.7 1611 613.089 C1608.2 611.5 1608.2 604.7 1611 603.089Z" fill="#2a55cc" filter="url(#blf)"/>
<path d="M1611 603.089 C1613.8 601.5 1623.7 602.8 1628 603.589 C1632.3 604.4 1637.0 606.6 1637 608.089 C1637.0 609.6 1632.3 611.8 1628 612.589 C1623.7 613.4 1613.8 614.7 1611 613.089 C1608.2 611.5 1608.2 604.7 1611 603.089Z" fill="none" stroke="#1d2340" stroke-width="0.7" stroke-opacity="0.6"/>
<path d="M1608 615.014 L1640 615.314 L1818.57 615.814 L1878.57 617.314 L1818.57 618.814 L1640 619.314 L1608 619.614Z" fill="#1f1d70" filter="url(#blf)"/>
<path d="M1608 615.014 L1640 615.314 L1818.57 615.814 L1878.57 617.314 L1818.57 618.814 L1640 619.314 L1608 619.614Z" fill="none" stroke="#1d2340" stroke-width="1.1" stroke-opacity="0.9"/>
<path d="M1611 623.139 C1613.8 621.6 1623.7 622.8 1628 623.639 C1632.3 624.5 1637.0 626.6 1637 628.139 C1637.0 629.6 1632.3 631.8 1628 632.639 C1623.7 633.5 1613.8 634.7 1611 633.139 C1608.2 631.6 1608.2 624.7 1611 623.139Z" fill="#2a55cc" filter="url(#blf)"/>
<path d="M1611 623.139 C1613.8 621.6 1623.7 622.8 1628 623.639 C1632.3 624.5 1637.0 626.6 1637 628.139 C1637.0 629.6 1632.3 631.8 1628 632.639 C1623.7 633.5 1613.8 634.7 1611 633.139 C1608.2 631.6 1608.2 624.7 1611 623.139Z" fill="none" stroke="#1d2340" stroke-width="0.7" stroke-opacity="0.6"/>
<path d="M1608 635.064 L1640 635.364 L1697.14 635.864 L1757.14 637.364 L1697.14 638.864 L1640 639.364 L1608 639.664Z" fill="#1f1d70" filter="url(#blf)"/>
<path d="M1608 635.064 L1640 635.364 L1697.14 635.864 L1757.14 637.364 L1697.14 638.864 L1640 639.364 L1608 639.664Z" fill="none" stroke="#1d2340" stroke-width="1.1" stroke-opacity="0.9"/>
<path d="M1611 643.189 C1613.8 641.6 1623.7 642.9 1628 643.689 C1632.3 644.5 1637.0 646.7 1637 648.189 C1637.0 649.7 1632.3 651.9 1628 652.689 C1623.7 653.5 1613.8 654.8 1611 653.189 C1608.2 651.6 1608.2 644.8 1611 643.189Z" fill="#2a55cc" filter="url(#blf)"/>
<path d="M1611 643.189 C1613.8 641.6 1623.7 642.9 1628 643.689 C1632.3 644.5 1637.0 646.7 1637 648.189 C1637.0 649.7 1632.3 651.9 1628 652.689 C1623.7 653.5 1613.8 654.8 1611 653.189 C1608.2 651.6 1608.2 644.8 1611 643.189Z" fill="none" stroke="#1d2340" stroke-width="0.7" stroke-opacity="0.6"/>
<path d="M1608 655.114 L1640 655.414 L1825.71 655.914 L1885.71 657.414 L1825.71 658.914 L1640 659.414 L1608 659.714Z" fill="#1f1d70" filter="url(#blf)"/>
<path d="M1608 655.114 L1640 655.414 L1825.71 655.914 L1885.71 657.414 L1825.71 658.914 L1640 659.414 L1608 659.714Z" fill="none" stroke="#1d2340" stroke-width="1.1" stroke-opacity="0.9"/>
<path d="M1611 663.239 C1613.8 661.7 1623.7 662.9 1628 663.739 C1632.3 664.6 1637.0 666.7 1637 668.239 C1637.0 669.7 1632.3 671.9 1628 672.739 C1623.7 673.6 1613.8 674.8 1611 673.239 C1608.2 671.7 1608.2 664.8 1611 663.239Z" fill="#2a55cc" filter="url(#blf)"/>
<path d="M1611 663.239 C1613.8 661.7 1623.7 662.9 1628 663.739 C1632.3 664.6 1637.0 666.7 1637 668.239 C1637.0 669.7 1632.3 671.9 1628 672.739 C1623.7 673.6 1613.8 674.8 1611 673.239 C1608.2 671.7 1608.2 664.8 1611 663.239Z" fill="none" stroke="#1d2340" stroke-width="0.7" stroke-opacity="0.6"/>
<path d="M1608 675.164 L1640 675.464 L1899.82 675.964 L1959.82 677.464 L1899.82 678.964 L1640 679.464 L1608 679.764Z" fill="#1f1d70" filter="url(#blf)"/>
<path d="M1608 675.164 L1640 675.464 L1899.82 675.964 L1959.82 677.464 L1899.82 678.964 L1640 679.464 L1608 679.764Z" fill="none" stroke="#1d2340" stroke-width="1.1" stroke-opacity="0.9"/>
<path d="M1611 683.289 C1613.8 681.7 1623.7 683.0 1628 683.789 C1632.3 684.6 1637.0 686.8 1637 688.289 C1637.0 689.8 1632.3 692.0 1628 692.789 C1623.7 693.6 1613.8 694.9 1611 693.289 C1608.2 691.7 1608.2 684.9 1611 683.289Z" fill="#2a55cc" filter="url(#blf)"/>
<path d="M1611 683.289 C1613.8 681.7 1623.7 683.0 1628 683.789 C1632.3 684.6 1637.0 686.8 1637 688.289 C1637.0 689.8 1632.3 692.0 1628 692.789 C1623.7 693.6 1613.8 694.9 1611 693.289 C1608.2 691.7 1608.2 684.9 1611 683.289Z" fill="none" stroke="#1d2340" stroke-width="0.7" stroke-opacity="0.6"/>
<path d="M1962 682.289 C1955.0 680.4 1932.0 681.8 1920 682.789 C1908.0 683.8 1890.0 686.5 1890 688.289 C1890.0 690.1 1908.0 692.8 1920 693.789 C1932.0 694.8 1955.0 696.2 1962 694.289 C1969.0 692.4 1969.0 684.2 1962 682.289Z" fill="#2458d0" filter="url(#blf)"/>
<path d="M1962 682.289 C1955.0 680.4 1932.0 681.8 1920 682.789 C1908.0 683.8 1890.0 686.5 1890 688.289 C1890.0 690.1 1908.0 692.8 1920 693.789 C1932.0 694.8 1955.0 696.2 1962 694.289 C1969.0 692.4 1969.0 684.2 1962 682.289Z" fill="none" stroke="#1d2340" stroke-width="0.7" stroke-opacity="0.6"/>
<path d="M1962 683.789 C1960.0 682.4 1954.0 683.5 1950 684.289 C1946.0 685.0 1938.0 687.0 1938 688.289 C1938.0 689.6 1946.0 691.5 1950 692.289 C1954.0 693.0 1960.0 694.2 1962 692.789 C1964.0 691.4 1964.0 685.2 1962 683.789Z" fill="#1d78d4" filter="url(#blf)"/>
<path d="M1962 683.789 C1960.0 682.4 1954.0 683.5 1950 684.289 C1946.0 685.0 1938.0 687.0 1938 688.289 C1938.0 689.6 1946.0 691.5 1950 692.289 C1954.0 693.0 1960.0 694.2 1962 692.789 C1964.0 691.4 1964.0 685.2 1962 683.789Z" fill="none" stroke="#1d2340" stroke-width="0.7" stroke-opacity="0.6"/>
<path d="M1608 695.214 L1640 695.514 L1784.64 696.014 L1844.64 697.514 L1784.64 699.014 L1640 699.514 L1608 699.814Z" fill="#1f1d70" filter="url(#blf)"/>
<path d="M1608 695.214 L1640 695.514 L1784.64 696.014 L1844.64 697.514 L1784.64 699.014 L1640 699.514 L1608 699.814Z" fill="none" stroke="#1d2340" stroke-width="1.1" stroke-opacity="0.9"/>
<path d="M1611 703.339 C1613.8 701.8 1623.7 703.0 1628 703.839 C1632.3 704.7 1637.0 706.8 1637 708.339 C1637.0 709.8 1632.3 712.0 1628 712.839 C1623.7 713.7 1613.8 714.9 1611 713.339 C1608.2 711.8 1608.2 704.9 1611 703.339Z" fill="#2a55cc" filter="url(#blf)"/>
<path d="M1611 703.339 C1613.8 701.8 1623.7 703.0 1628 703.839 C1632.3 704.7 1637.0 706.8 1637 708.339 C1637.0 709.8 1632.3 712.0 1628 712.839 C1623.7 713.7 1613.8 714.9 1611 713.339 C1608.2 711.8 1608.2 704.9 1611 703.339Z" fill="none" stroke="#1d2340" stroke-width="0.7" stroke-opacity="0.6"/>
<path d="M1962 702.339 C1955.0 700.4 1932.0 701.8 1920 702.839 C1908.0 703.8 1890.0 706.5 1890 708.339 C1890.0 710.2 1908.0 712.8 1920 713.839 C1932.0 714.8 1955.0 716.3 1962 714.339 C1969.0 712.4 1969.0 704.3 1962 702.339Z" fill="#2458d0" filter="url(#blf)"/>
<path d="M1962 702.339 C1955.0 700.4 1932.0 701.8 1920 702.839 C1908.0 703.8 1890.0 706.5 1890 708.339 C1890.0 710.2 1908.0 712.8 1920 713.839 C1932.0 714.8 1955.0 716.3 1962 714.339 C1969.0 712.4 1969.0 704.3 1962 702.339Z" fill="none" stroke="#1d2340" stroke-width="0.7" stroke-opacity="0.6"/>
<path d="M1962 703.839 C1960.0 702.4 1954.0 703.6 1950 704.339 C1946.0 705.1 1938.0 707.0 1938 708.339 C1938.0 709.7 1946.0 711.6 1950 712.339 C1954.0 713.1 1960.0 714.3 1962 712.839 C1964.0 711.4 1964.0 705.3 1962 703.839Z" fill="#1d78d4" filter="url(#blf)"/>
<path d="M1962 703.839 C1960.0 702.4 1954.0 703.6 1950 704.339 C1946.0 705.1 1938.0 707.0 1938 708.339 C1938.0 709.7 1946.0 711.6 1950 712.339 C1954.0 713.1 1960.0 714.3 1962 712.839 C1964.0 711.4 1964.0 705.3 1962 703.839Z" fill="none" stroke="#1d2340" stroke-width="0.7" stroke-opacity="0.6"/>
<path d="M1608 715.264 L1640 715.564 L1825.71 716.064 L1885.71 717.564 L1825.71 719.064 L1640 719.564 L1608 719.864Z" fill="#1f1d70" filter="url(#blf)"/>
<path d="M1608 715.264 L1640 715.564 L1825.71 716.064 L1885.71 717.564 L1825.71 719.064 L1640 719.564 L1608 719.864Z" fill="none" stroke="#1d2340" stroke-width="1.1" stroke-opacity="0.9"/>
<path d="M1611 723.389 C1613.8 721.8 1623.7 723.1 1628 723.889 C1632.3 724.7 1637.0 726.9 1637 728.389 C1637.0 729.9 1632.3 732.1 1628 732.889 C1623.7 733.7 1613.8 735.0 1611 733.389 C1608.2 731.8 1608.2 725.0 1611 723.389Z" fill="#2a55cc" filter="url(#blf)"/>
<path d="M1611 723.389 C1613.8 721.8 1623.7 723.1 1628 723.889 C1632.3 724.7 1637.0 726.9 1637 728.389 C1637.0 729.9 1632.3 732.1 1628 732.889 C1623.7 733.7 1613.8 735.0 1611 733.389 C1608.2 731.8 1608.2 725.0 1611 723.389Z" fill="none" stroke="#1d2340" stroke-width="0.7" stroke-opacity="0.6"/>
<path d="M1962 722.389 C1955.0 720.5 1932.0 721.9 1920 722.889 C1908.0 723.9 1890.0 726.6 1890 728.389 C1890.0 730.2 1908.0 732.9 1920 733.889 C1932.0 734.9 1955.0 736.3 1962 734.389 C1969.0 732.5 1969.0 724.3 1962 722.389Z" fill="#2458d0" filter="url(#blf)"/>
<path d="M1962 722.389 C1955.0 720.5 1932.0 721.9 1920 722.889 C1908.0 723.9 1890.0 726.6 1890 728.389 C1890.0 730.2 1908.0 732.9 1920 733.889 C1932.0 734.9 1955.0 736.3 1962 734.389 C1969.0 732.5 1969.0 724.3 1962 722.389Z" fill="none" stroke="#1d2340" stroke-width="0.7" stroke-opacity="0.6"/>
<path d="M1962 723.889 C1960.0 722.5 1954.0 723.6 1950 724.389 C1946.0 725.1 1938.0 727.1 1938 728.389 C1938.0 729.7 1946.0 731.6 1950 732.389 C1954.0 733.1 1960.0 734.3 1962 732.889 C1964.0 731.5 1964.0 725.3 1962 723.889Z" fill="#1d78d4" filter="url(#blf)"/>
<path d="M1962 723.889 C1960.0 722.5 1954.0 723.6 1950 724.389 C1946.0 725.1 1938.0 727.1 1938 728.389 C1938.0 729.7 1946.0 731.6 1950 732.389 C1954.0 733.1 1960.0 734.3 1962 732.889 C1964.0 731.5 1964.0 725.3 1962 723.889Z" fill="none" stroke="#1d2340" stroke-width="0.7" stroke-opacity="0.6"/>
<path d="M1608 735.314 L1640 735.614 L1899.82 736.114 L1959.82 737.614 L1899.82 739.114 L1640 739.614 L1608 739.914Z" fill="#1f1d70" filter="url(#blf)"/>
<path d="M1608 735.314 L1640 735.614 L1899.82 736.114 L1959.82 737.614 L1899.82 739.114 L1640 739.614 L1608 739.914Z" fill="none" stroke="#1d2340" stroke-width="1.1" stroke-opacity="0.9"/>
<path d="M1611 743.439 C1613.8 741.9 1623.7 743.1 1628 743.939 C1632.3 744.8 1637.0 746.9 1637 748.439 C1637.0 749.9 1632.3 752.1 1628 752.939 C1623.7 753.8 1613.8 755.0 1611 753.439 C1608.2 751.9 1608.2 745.0 1611 743.439Z" fill="#2a55cc" filter="url(#blf)"/>
<path d="M1611 743.439 C1613.8 741.9 1623.7 743.1 1628 743.939 C1632.3 744.8 1637.0 746.9 1637 748.439 C1637.0 749.9 1632.3 752.1 1628 752.939 C1623.7 753.8 1613.8 755.0 1611 753.439 C1608.2 751.9 1608.2 745.0 1611 743.439Z" fill="none" stroke="#1d2340" stroke-width="0.7" stroke-opacity="0.6"/>
<path d="M1962 742.439 C1955.0 740.5 1932.0 741.9 1920 742.939 C1908.0 743.9 1890.0 746.6 1890 748.439 C1890.0 750.3 1908.0 752.9 1920 753.939 C1932.0 754.9 1955.0 756.4 1962 754.439 C1969.0 752.5 1969.0 744.4 1962 742.439Z" fill="#2458d0" filter="url(#blf)"/>
<path d="M1962 742.439 C1955.0 740.5 1932.0 741.9 1920 742.939 C1908.0 743.9 1890.0 746.6 1890 748.439 C1890.0 750.3 1908.0 752.9 1920 753.939 C1932.0 754.9 1955.0 756.4 1962 754.439 C1969.0 752.5 1969.0 744.4 1962 742.439Z" fill="none" stroke="#1d2340" stroke-width="0.7" stroke-opacity="0.6"/>
<path d="M1962 743.939 C1960.0 742.5 1954.0 743.7 1950 744.439 C1946.0 745.2 1938.0 747.1 1938 748.439 C1938.0 749.8 1946.0 751.7 1950 752.439 C1954.0 753.2 1960.0 754.4 1962 752.939 C1964.0 751.5 1964.0 745.4 1962 743.939Z" fill="#1d78d4" filter="url(#blf)"/>
<path d="M1962 743.939 C1960.0 742.5 1954.0 743.7 1950 744.439 C1946.0 745.2 1938.0 747.1 1938 748.439 C1938.0 749.8 1946.0 751.7 1950 752.439 C1954.0 753.2 1960.0 754.4 1962 752.939 C1964.0 751.5 1964.0 745.4 1962 743.939Z" fill="none" stroke="#1d2340" stroke-width="0.7" stroke-opacity="0.6"/>
<path d="M1608 755.364 L1640 755.664 L1899.82 756.164 L1959.82 757.664 L1899.82 759.164 L1640 759.664 L1608 759.964Z" fill="#1f1d70" filter="url(#blf)"/>
<path d="M1608 755.364 L1640 755.664 L1899.82 756.164 L1959.82 757.664 L1899.82 759.164 L1640 759.664 L1608 759.964Z" fill="none" stroke="#1d2340" stroke-width="1.1" stroke-opacity="0.9"/>
<path d="M1611 763.489 C1613.8 761.9 1623.7 763.2 1628 763.989 C1632.3 764.8 1637.0 767.0 1637 768.489 C1637.0 770.0 1632.3 772.2 1628 772.989 C1623.7 773.8 1613.8 775.1 1611 773.489 C1608.2 771.9 1608.2 765.1 1611 763.489Z" fill="#2a55cc" filter="url(#blf)"/>
<path d="M1611 763.489 C1613.8 761.9 1623.7 763.2 1628 763.989 C1632.3 764.8 1637.0 767.0 1637 768.489 C1637.0 770.0 1632.3 772.2 1628 772.989 C1623.7 773.8 1613.8 775.1 1611 773.489 C1608.2 771.9 1608.2 765.1 1611 763.489Z" fill="none" stroke="#1d2340" stroke-width="0.7" stroke-opacity="0.6"/>
<path d="M1962 762.489 C1955.0 760.6 1932.0 762.0 1920 762.989 C1908.0 764.0 1890.0 766.7 1890 768.489 C1890.0 770.3 1908.0 773.0 1920 773.989 C1932.0 775.0 1955.0 776.4 1962 774.489 C1969.0 772.6 1969.0 764.4 1962 762.489Z" fill="#2458d0" filter="url(#blf)"/>
<path d="M1962 762.489 C1955.0 760.6 1932.0 762.0 1920 762.989 C1908.0 764.0 1890.0 766.7 1890 768.489 C1890.0 770.3 1908.0 773.0 1920 773.989 C1932.0 775.0 1955.0 776.4 1962 774.489 C1969.0 772.6 1969.0 764.4 1962 762.489Z" fill="none" stroke="#1d2340" stroke-width="0.7" stroke-opacity="0.6"/>
<path d="M1962 763.989 C1960.0 762.6 1954.0 763.7 1950 764.489 C1946.0 765.2 1938.0 767.2 1938 768.489 C1938.0 769.8 1946.0 771.7 1950 772.489 C1954.0 773.2 1960.0 774.4 1962 772.989 C1964.0 771.6 1964.0 765.4 1962 763.989Z" fill="#1d78d4" filter="url(#blf)"/>
<path d="M1962 763.989 C1960.0 762.6 1954.0 763.7 1950 764.489 C1946.0 765.2 1938.0 767.2 1938 768.489 C1938.0 769.8 1946.0 771.7 1950 772.489 C1954.0 773.2 1960.0 774.4 1962 772.989 C1964.0 771.6 1964.0 765.4 1962 763.989Z" fill="none" stroke="#1d2340" stroke-width="0.7" stroke-opacity="0.6"/>
<path d="M1608 775.414 L1640 775.714 L1679.29 776.214 L1739.29 777.714 L1679.29 779.214 L1640 779.714 L1608 780.014Z" fill="#1f1d70" filter="url(#blf)"/>
<path d="M1608 775.414 L1640 775.714 L1679.29 776.214 L1739.29 777.714 L1679.29 779.214 L1640 779.714 L1608 780.014Z" fill="none" stroke="#1d2340" stroke-width="1.1" stroke-opacity="0.9"/>
<path d="M1611 783.539 C1613.8 782.0 1623.7 783.2 1628 784.039 C1632.3 784.9 1637.0 787.0 1637 788.539 C1637.0 790.0 1632.3 792.2 1628 793.039 C1623.7 793.9 1613.8 795.1 1611 793.539 C1608.2 792.0 1608.2 785.1 1611 783.539Z" fill="#2a55cc" filter="url(#blf)"/>
<path d="M1611 783.539 C1613.8 782.0 1623.7 783.2 1628 784.039 C1632.3 784.9 1637.0 787.0 1637 788.539 C1637.0 790.0 1632.3 792.2 1628 793.039 C1623.7 793.9 1613.8 795.1 1611 793.539 C1608.2 792.0 1608.2 785.1 1611 783.539Z" fill="none" stroke="#1d2340" stroke-width="0.7" stroke-opacity="0.6"/>
<path d="M1962 782.539 C1955.0 780.6 1932.0 782.0 1920 783.039 C1908.0 784.0 1890.0 786.7 1890 788.539 C1890.0 790.4 1908.0 793.0 1920 794.039 C1932.0 795.0 1955.0 796.5 1962 794.539 C1969.0 792.6 1969.0 784.5 1962 782.539Z" fill="#2458d0" filter="url(#blf)"/>
<path d="M1962 782.539 C1955.0 780.6 1932.0 782.0 1920 783.039 C1908.0 784.0 1890.0 786.7 1890 788.539 C1890.0 790.4 1908.0 793.0 1920 794.039 C1932.0 795.0 1955.0 796.5 1962 794.539 C1969.0 792.6 1969.0 784.5 1962 782.539Z" fill="none" stroke="#1d2340" stroke-width="0.7" stroke-opacity="0.6"/>
<path d="M1962 784.039 C1960.0 782.6 1954.0 783.8 1950 784.539 C1946.0 785.3 1938.0 787.2 1938 788.539 C1938.0 789.9 1946.0 791.8 1950 792.539 C1954.0 793.3 1960.0 794.5 1962 793.039 C1964.0 791.6 1964.0 785.5 1962 784.039Z" fill="#1d78d4" filter="url(#blf)"/>
<path d="M1962 784.039 C1960.0 782.6 1954.0 783.8 1950 784.539 C1946.0 785.3 1938.0 787.2 1938 788.539 C1938.0 789.9 1946.0 791.8 1950 792.539 C1954.0 793.3 1960.0 794.5 1962 793.039 C1964.0 791.6 1964.0 785.5 1962 784.039Z" fill="none" stroke="#1d2340" stroke-width="0.7" stroke-opacity="0.6"/>
<path d="M1608 795.464 L1640 795.764 L1899.82 796.264 L1959.82 797.764 L1899.82 799.264 L1640 799.764 L1608 800.064Z" fill="#1f1d70" filter="url(#blf)"/>
<path d="M1608 795.464 L1640 795.764 L1899.82 796.264 L1959.82 797.764 L1899.82 799.264 L1640 799.764 L1608 800.064Z" fill="none" stroke="#1d2340" stroke-width="1.1" stroke-opacity="0.9"/>
<path d="M1611 803.589 C1613.8 802.0 1623.7 803.3 1628 804.089 C1632.3 804.9 1637.0 807.1 1637 808.589 C1637.0 810.1 1632.3 812.3 1628 813.089 C1623.7 813.9 1613.8 815.2 1611 813.589 C1608.2 812.0 1608.2 805.2 1611 803.589Z" fill="#2a55cc" filter="url(#blf)"/>
<path d="M1611 803.589 C1613.8 802.0 1623.7 803.3 1628 804.089 C1632.3 804.9 1637.0 807.1 1637 808.589 C1637.0 810.1 1632.3 812.3 1628 813.089 C1623.7 813.9 1613.8 815.2 1611 813.589 C1608.2 812.0 1608.2 805.2 1611 803.589Z" fill="none" stroke="#1d2340" stroke-width="0.7" stroke-opacity="0.6"/>
<path d="M1962 802.589 C1955.0 800.7 1932.0 802.1 1920 803.089 C1908.0 804.1 1890.0 806.8 1890 808.589 C1890.0 810.4 1908.0 813.1 1920 814.089 C1932.0 815.1 1955.0 816.5 1962 814.589 C1969.0 812.7 1969.0 804.5 1962 802.589Z" fill="#2458d0" filter="url(#blf)"/>
<path d="M1962 802.589 C1955.0 800.7 1932.0 802.1 1920 803.089 C1908.0 804.1 1890.0 806.8 1890 808.589 C1890.0 810.4 1908.0 813.1 1920 814.089 C1932.0 815.1 1955.0 816.5 1962 814.589 C1969.0 812.7 1969.0 804.5 1962 802.589Z" fill="none" stroke="#1d2340" stroke-width="0.7" stroke-opacity="0.6"/>
<path d="M1962 804.089 C1960.0 802.7 1954.0 803.8 1950 804.589 C1946.0 805.3 1938.0 807.3 1938 808.589 C1938.0 809.9 1946.0 811.8 1950 812.589 C1954.0 813.3 1960.0 814.5 1962 813.089 C1964.0 811.7 1964.0 805.5 1962 804.089Z" fill="#1d78d4" filter="url(#blf)"/>
<path d="M1962 804.089 C1960.0 802.7 1954.0 803.8 1950 804.589 C1946.0 805.3 1938.0 807.3 1938 808.589 C1938.0 809.9 1946.0 811.8 1950 812.589 C1954.0 813.3 1960.0 814.5 1962 813.089 C1964.0 811.7 1964.0 805.5 1962 804.089Z" fill="none" stroke="#1d2340" stroke-width="0.7" stroke-opacity="0.6"/>
<path d="M1608 815.514 L1640 815.814 L1899.82 816.314 L1959.82 817.814 L1899.82 819.314 L1640 819.814 L1608 820.114Z" fill="#1f1d70" filter="url(#blf)"/>
<path d="M1608 815.514 L1640 815.814 L1899.82 816.314 L1959.82 817.814 L1899.82 819.314 L1640 819.814 L1608 820.114Z" fill="none" stroke="#1d2340" stroke-width="1.1" stroke-opacity="0.9"/>
<path d="M1611 823.639 C1613.8 822.1 1623.7 823.3 1628 824.139 C1632.3 825.0 1637.0 827.1 1637 828.639 C1637.0 830.1 1632.3 832.3 1628 833.139 C1623.7 834.0 1613.8 835.2 1611 833.639 C1608.2 832.1 1608.2 825.2 1611 823.639Z" fill="#2a55cc" filter="url(#blf)"/>
<path d="M1611 823.639 C1613.8 822.1 1623.7 823.3 1628 824.139 C1632.3 825.0 1637.0 827.1 1637 828.639 C1637.0 830.1 1632.3 832.3 1628 833.139 C1623.7 834.0 1613.8 835.2 1611 833.639 C1608.2 832.1 1608.2 825.2 1611 823.639Z" fill="none" stroke="#1d2340" stroke-width="0.7" stroke-opacity="0.6"/>
<path d="M1962 822.639 C1955.0 820.7 1932.0 822.1 1920 823.139 C1908.0 824.1 1890.0 826.8 1890 828.639 C1890.0 830.5 1908.0 833.1 1920 834.139 C1932.0 835.1 1955.0 836.6 1962 834.639 C1969.0 832.7 1969.0 824.6 1962 822.639Z" fill="#2458d0" filter="url(#blf)"/>
<path d="M1962 822.639 C1955.0 820.7 1932.0 822.1 1920 823.139 C1908.0 824.1 1890.0 826.8 1890 828.639 C1890.0 830.5 1908.0 833.1 1920 834.139 C1932.0 835.1 1955.0 836.6 1962 834.639 C1969.0 832.7 1969.0 824.6 1962 822.639Z" fill="none" stroke="#1d2340" stroke-width="0.7" stroke-opacity="0.6"/>
<path d="M1962 824.139 C1960.0 822.7 1954.0 823.9 1950 824.639 C1946.0 825.4 1938.0 827.3 1938 828.639 C1938.0 830.0 1946.0 831.9 1950 832.639 C1954.0 833.4 1960.0 834.6 1962 833.139 C1964.0 831.7 1964.0 825.6 1962 824.139Z" fill="#1d78d4" filter="url(#blf)"/>
<path d="M1962 824.139 C1960.0 822.7 1954.0 823.9 1950 824.639 C1946.0 825.4 1938.0 827.3 1938 828.639 C1938.0 830.0 1946.0 831.9 1950 832.639 C1954.0 833.4 1960.0 834.6 1962 833.139 C1964.0 831.7 1964.0 825.6 1962 824.139Z" fill="none" stroke="#1d2340" stroke-width="0.7" stroke-opacity="0.6"/>
<path d="M1608 835.564 L1640 835.864 L1700.71 836.364 L1760.71 837.864 L1700.71 839.364 L1640 839.864 L1608 840.164Z" fill="#1f1d70" filter="url(#blf)"/>
<path d="M1608 835.564 L1640 835.864 L1700.71 836.364 L1760.71 837.864 L1700.71 839.364 L1640 839.864 L1608 840.164Z" fill="none" stroke="#1d2340" stroke-width="1.1" stroke-opacity="0.9"/>
<path d="M1611 843.689 C1613.8 842.1 1623.7 843.4 1628 844.189 C1632.3 845.0 1637.0 847.2 1637 848.689 C1637.0 850.2 1632.3 852.4 1628 853.189 C1623.7 854.0 1613.8 855.3 1611 853.689 C1608.2 852.1 1608.2 845.3 1611 843.689Z" fill="#2a55cc" filter="url(#blf)"/>
<path d="M1611 843.689 C1613.8 842.1 1623.7 843.4 1628 844.189 C1632.3 845.0 1637.0 847.2 1637 848.689 C1637.0 850.2 1632.3 852.4 1628 853.189 C1623.7 854.0 1613.8 855.3 1611 853.689 C1608.2 852.1 1608.2 845.3 1611 843.689Z" fill="none" stroke="#1d2340" stroke-width="0.7" stroke-opacity="0.6"/>
<path d="M1962 842.689 C1955.0 840.8 1932.0 842.2 1920 843.189 C1908.0 844.2 1890.0 846.9 1890 848.689 C1890.0 850.5 1908.0 853.2 1920 854.189 C1932.0 855.2 1955.0 856.6 1962 854.689 C1969.0 852.8 1969.0 844.6 1962 842.689Z" fill="#2458d0" filter="url(#blf)"/>
<path d="M1962 842.689 C1955.0 840.8 1932.0 842.2 1920 843.189 C1908.0 844.2 1890.0 846.9 1890 848.689 C1890.0 850.5 1908.0 853.2 1920 854.189 C1932.0 855.2 1955.0 856.6 1962 854.689 C1969.0 852.8 1969.0 844.6 1962 842.689Z" fill="none" stroke="#1d2340" stroke-width="0.7" stroke-opacity="0.6"/>
<path d="M1962 844.189 C1960.0 842.8 1954.0 843.9 1950 844.689 C1946.0 845.4 1938.0 847.4 1938 848.689 C1938.0 850.0 1946.0 851.9 1950 852.689 C1954.0 853.4 1960.0 854.6 1962 853.189 C1964.0 851.8 1964.0 845.6 1962 844.189Z" fill="#1d78d4" filter="url(#blf)"/>
<path d="M1962 844.189 C1960.0 842.8 1954.0 843.9 1950 844.689 C1946.0 845.4 1938.0 847.4 1938 848.689 C1938.0 850.0 1946.0 851.9 1950 852.689 C1954.0 853.4 1960.0 854.6 1962 853.189 C1964.0 851.8 1964.0 845.6 1962 844.189Z" fill="none" stroke="#1d2340" stroke-width="0.7" stroke-opacity="0.6"/>
<path d="M1608 855.614 L1640 855.914 L1899.82 856.414 L1959.82 857.914 L1899.82 859.414 L1640 859.914 L1608 860.214Z" fill="#1f1d70" filter="url(#blf)"/>
<path d="M1608 855.614 L1640 855.914 L1899.82 856.414 L1959.82 857.914 L1899.82 859.414 L1640 859.914 L1608 860.214Z" fill="none" stroke="#1d2340" stroke-width="1.1" stroke-opacity="0.9"/>
<path d="M1611 863.739 C1613.8 862.2 1623.7 863.4 1628 864.239 C1632.3 865.1 1637.0 867.2 1637 868.739 C1637.0 870.2 1632.3 872.4 1628 873.239 C1623.7 874.1 1613.8 875.3 1611 873.739 C1608.2 872.2 1608.2 865.3 1611 863.739Z" fill="#2a55cc" filter="url(#blf)"/>
<path d="M1611 863.739 C1613.8 862.2 1623.7 863.4 1628 864.239 C1632.3 865.1 1637.0 867.2 1637 868.739 C1637.0 870.2 1632.3 872.4 1628 873.239 C1623.7 874.1 1613.8 875.3 1611 873.739 C1608.2 872.2 1608.2 865.3 1611 863.739Z" fill="none" stroke="#1d2340" stroke-width="0.7" stroke-opacity="0.6"/>
<path d="M1962 862.739 C1955.0 860.8 1932.0 862.2 1920 863.239 C1908.0 864.2 1890.0 866.9 1890 868.739 C1890.0 870.6 1908.0 873.2 1920 874.239 C1932.0 875.2 1955.0 876.7 1962 874.739 C1969.0 872.8 1969.0 864.7 1962 862.739Z" fill="#2458d0" filter="url(#blf)"/>
<path d="M1962 862.739 C1955.0 860.8 1932.0 862.2 1920 863.239 C1908.0 864.2 1890.0 866.9 1890 868.739 C1890.0 870.6 1908.0 873.2 1920 874.239 C1932.0 875.2 1955.0 876.7 1962 874.739 C1969.0 872.8 1969.0 864.7 1962 862.739Z" fill="none" stroke="#1d2340" stroke-width="0.7" stroke-opacity="0.6"/>
<path d="M1962 864.239 C1960.0 862.8 1954.0 864.0 1950 864.739 C1946.0 865.5 1938.0 867.4 1938 868.739 C1938.0 870.1 1946.0 872.0 1950 872.739 C1954.0 873.5 1960.0 874.7 1962 873.239 C1964.0 871.8 1964.0 865.7 1962 864.239Z" fill="#1d78d4" filter="url(#blf)"/>
<path d="M1962 864.239 C1960.0 862.8 1954.0 864.0 1950 864.739 C1946.0 865.5 1938.0 867.4 1938 868.739 C1938.0 870.1 1946.0 872.0 1950 872.739 C1954.0 873.5 1960.0 874.7 1962 873.239 C1964.0 871.8 1964.0 865.7 1962 864.239Z" fill="none" stroke="#1d2340" stroke-width="0.7" stroke-opacity="0.6"/>
<path d="M1608 875.664 L1640 875.964 L1899.82 876.464 L1959.82 877.964 L1899.82 879.464 L1640 879.964 L1608 880.264Z" fill="#1f1d70" filter="url(#blf)"/>
<path d="M1608 875.664 L1640 875.964 L1899.82 876.464 L1959.82 877.964 L1899.82 879.464 L1640 879.964 L1608 880.264Z" fill="none" stroke="#1d2340" stroke-width="1.1" stroke-opacity="0.9"/>
<path d="M1611 883.789 C1613.8 882.2 1623.7 883.5 1628 884.289 C1632.3 885.1 1637.0 887.3 1637 888.789 C1637.0 890.3 1632.3 892.5 1628 893.289 C1623.7 894.1 1613.8 895.4 1611 893.789 C1608.2 892.2 1608.2 885.4 1611 883.789Z" fill="#2a55cc" filter="url(#blf)"/>
<path d="M1611 883.789 C1613.8 882.2 1623.7 883.5 1628 884.289 C1632.3 885.1 1637.0 887.3 1637 888.789 C1637.0 890.3 1632.3 892.5 1628 893.289 C1623.7 894.1 1613.8 895.4 1611 893.789 C1608.2 892.2 1608.2 885.4 1611 883.789Z" fill="none" stroke="#1d2340" stroke-width="0.7" stroke-opacity="0.6"/>
<path d="M1962 882.789 C1955.0 880.9 1932.0 882.3 1920 883.289 C1908.0 884.3 1890.0 887.0 1890 888.789 C1890.0 890.6 1908.0 893.3 1920 894.289 C1932.0 895.3 1955.0 896.7 1962 894.789 C1969.0 892.9 1969.0 884.7 1962 882.789Z" fill="#2458d0" filter="url(#blf)"/>
<path d="M1962 882.789 C1955.0 880.9 1932.0 882.3 1920 883.289 C1908.0 884.3 1890.0 887.0 1890 888.789 C1890.0 890.6 1908.0 893.3 1920 894.289 C1932.0 895.3 1955.0 896.7 1962 894.789 C1969.0 892.9 1969.0 884.7 1962 882.789Z" fill="none" stroke="#1d2340" stroke-width="0.7" stroke-opacity="0.6"/>
<path d="M1962 884.289 C1960.0 882.9 1954.0 884.0 1950 884.789 C1946.0 885.5 1938.0 887.5 1938 888.789 C1938.0 890.1 1946.0 892.0 1950 892.789 C1954.0 893.5 1960.0 894.7 1962 893.289 C1964.0 891.9 1964.0 885.7 1962 884.289Z" fill="#1d78d4" filter="url(#blf)"/>
<path d="M1962 884.289 C1960.0 882.9 1954.0 884.0 1950 884.789 C1946.0 885.5 1938.0 887.5 1938 888.789 C1938.0 890.1 1946.0 892.0 1950 892.789 C1954.0 893.5 1960.0 894.7 1962 893.289 C1964.0 891.9 1964.0 885.7 1962 884.289Z" fill="none" stroke="#1d2340" stroke-width="0.7" stroke-opacity="0.6"/>
<path d="M1608 895.714 L1640 896.014 L1899.82 896.514 L1959.82 898.014 L1899.82 899.514 L1640 900.014 L1608 900.314Z" fill="#1f1d70" filter="url(#blf)"/>
<path d="M1608 895.714 L1640 896.014 L1899.82 896.514 L1959.82 898.014 L1899.82 899.514 L1640 900.014 L1608 900.314Z" fill="none" stroke="#1d2340" stroke-width="1.1" stroke-opacity="0.9"/>
<path d="M1611 903.839 C1613.8 902.3 1623.7 903.5 1628 904.339 C1632.3 905.2 1637.0 907.3 1637 908.839 C1637.0 910.3 1632.3 912.5 1628 913.339 C1623.7 914.2 1613.8 915.4 1611 913.839 C1608.2 912.3 1608.2 905.4 1611 903.839Z" fill="#2a55cc" filter="url(#blf)"/>
<path d="M1611 903.839 C1613.8 902.3 1623.7 903.5 1628 904.339 C1632.3 905.2 1637.0 907.3 1637 908.839 C1637.0 910.3 1632.3 912.5 1628 913.339 C1623.7 914.2 1613.8 915.4 1611 913.839 C1608.2 912.3 1608.2 905.4 1611 903.839Z" fill="none" stroke="#1d2340" stroke-width="0.7" stroke-opacity="0.6"/>
<path d="M1962 902.839 C1955.0 900.9 1932.0 902.3 1920 903.339 C1908.0 904.3 1890.0 907.0 1890 908.839 C1890.0 910.7 1908.0 913.3 1920 914.339 C1932.0 915.3 1955.0 916.8 1962 914.839 C1969.0 912.9 1969.0 904.8 1962 902.839Z" fill="#2458d0" filter="url(#blf)"/>
<path d="M1962 902.839 C1955.0 900.9 1932.0 902.3 1920 903.339 C1908.0 904.3 1890.0 907.0 1890 908.839 C1890.0 910.7 1908.0 913.3 1920 914.339 C1932.0 915.3 1955.0 916.8 1962 914.839 C1969.0 912.9 1969.0 904.8 1962 902.839Z" fill="none" stroke="#1d2340" stroke-width="0.7" stroke-opacity="0.6"/>
<path d="M1962 904.339 C1960.0 902.9 1954.0 904.1 1950 904.839 C1946.0 905.6 1938.0 907.5 1938 908.839 C1938.0 910.2 1946.0 912.1 1950 912.839 C1954.0 913.6 1960.0 914.8 1962 913.339 C1964.0 911.9 1964.0 905.8 1962 904.339Z" fill="#1d78d4" filter="url(#blf)"/>
<path d="M1962 904.339 C1960.0 902.9 1954.0 904.1 1950 904.839 C1946.0 905.6 1938.0 907.5 1938 908.839 C1938.0 910.2 1946.0 912.1 1950 912.839 C1954.0 913.6 1960.0 914.8 1962 913.339 C1964.0 911.9 1964.0 905.8 1962 904.339Z" fill="none" stroke="#1d2340" stroke-width="0.7" stroke-opacity="0.6"/>
<path d="M1608 915.764 L1640 916.064 L1899.82 916.564 L1959.82 918.064 L1899.82 919.564 L1640 920.064 L1608 920.364Z" fill="#1f1d70" filter="url(#blf)"/>
<path d="M1608 915.764 L1640 916.064 L1899.82 916.564 L1959.82 918.064 L1899.82 919.564 L1640 920.064 L1608 920.364Z" fill="none" stroke="#1d2340" stroke-width="1.1" stroke-opacity="0.9"/>
<path d="M1611 923.889 C1613.8 922.3 1623.7 923.6 1628 924.389 C1632.3 925.2 1637.0 927.4 1637 928.889 C1637.0 930.4 1632.3 932.6 1628 933.389 C1623.7 934.2 1613.8 935.5 1611 933.889 C1608.2 932.3 1608.2 925.5 1611 923.889Z" fill="#2a55cc" filter="url(#blf)"/>
<path d="M1611 923.889 C1613.8 922.3 1623.7 923.6 1628 924.389 C1632.3 925.2 1637.0 927.4 1637 928.889 C1637.0 930.4 1632.3 932.6 1628 933.389 C1623.7 934.2 1613.8 935.5 1611 933.889 C1608.2 932.3 1608.2 925.5 1611 923.889Z" fill="none" stroke="#1d2340" stroke-width="0.7" stroke-opacity="0.6"/>
<path d="M1962 922.889 C1955.0 921.0 1932.0 922.4 1920 923.389 C1908.0 924.4 1890.0 927.1 1890 928.889 C1890.0 930.7 1908.0 933.4 1920 934.389 C1932.0 935.4 1955.0 936.8 1962 934.889 C1969.0 933.0 1969.0 924.8 1962 922.889Z" fill="#2458d0" filter="url(#blf)"/>
<path d="M1962 922.889 C1955.0 921.0 1932.0 922.4 1920 923.389 C1908.0 924.4 1890.0 927.1 1890 928.889 C1890.0 930.7 1908.0 933.4 1920 934.389 C1932.0 935.4 1955.0 936.8 1962 934.889 C1969.0 933.0 1969.0 924.8 1962 922.889Z" fill="none" stroke="#1d2340" stroke-width="0.7" stroke-opacity="0.6"/>
<path d="M1962 924.389 C1960.0 923.0 1954.0 924.1 1950 924.889 C1946.0 925.6 1938.0 927.6 1938 928.889 C1938.0 930.2 1946.0 932.1 1950 932.889 C1954.0 933.6 1960.0 934.8 1962 933.389 C1964.0 932.0 1964.0 925.8 1962 924.389Z" fill="#1d78d4" filter="url(#blf)"/>
<path d="M1962 924.389 C1960.0 923.0 1954.0 924.1 1950 924.889 C1946.0 925.6 1938.0 927.6 1938 928.889 C1938.0 930.2 1946.0 932.1 1950 932.889 C1954.0 933.6 1960.0 934.8 1962 933.389 C1964.0 932.0 1964.0 925.8 1962 924.389Z" fill="none" stroke="#1d2340" stroke-width="0.7" stroke-opacity="0.6"/>
<path d="M1608 935.814 L1640 936.114 L1899.82 936.614 L1959.82 938.114 L1899.82 939.614 L1640 940.114 L1608 940.414Z" fill="#1f1d70" filter="url(#blf)"/>
<path d="M1608 935.814 L1640 936.114 L1899.82 936.614 L1959.82 938.114 L1899.82 939.614 L1640 940.114 L1608 940.414Z" fill="none" stroke="#1d2340" stroke-width="1.1" stroke-opacity="0.9"/>
<path d="M1611 943.939 C1613.8 942.4 1623.7 943.6 1628 944.439 C1632.3 945.3 1637.0 947.4 1637 948.939 C1637.0 950.4 1632.3 952.6 1628 953.439 C1623.7 954.3 1613.8 955.5 1611 953.939 C1608.2 952.4 1608.2 945.5 1611 943.939Z" fill="#2a55cc" filter="url(#blf)"/>
<path d="M1611 943.939 C1613.8 942.4 1623.7 943.6 1628 944.439 C1632.3 945.3 1637.0 947.4 1637 948.939 C1637.0 950.4 1632.3 952.6 1628 953.439 C1623.7 954.3 1613.8 955.5 1611 953.939 C1608.2 952.4 1608.2 945.5 1611 943.939Z" fill="none" stroke="#1d2340" stroke-width="0.7" stroke-opacity="0.6"/>
<path d="M1962 942.939 C1955.0 941.0 1932.0 942.4 1920 943.439 C1908.0 944.4 1890.0 947.1 1890 948.939 C1890.0 950.8 1908.0 953.4 1920 954.439 C1932.0 955.4 1955.0 956.9 1962 954.939 C1969.0 953.0 1969.0 944.9 1962 942.939Z" fill="#2458d0" filter="url(#blf)"/>
<path d="M1962 942.939 C1955.0 941.0 1932.0 942.4 1920 943.439 C1908.0 944.4 1890.0 947.1 1890 948.939 C1890.0 950.8 1908.0 953.4 1920 954.439 C1932.0 955.4 1955.0 956.9 1962 954.939 C1969.0 953.0 1969.0 944.9 1962 942.939Z" fill="none" stroke="#1d2340" stroke-width="0.7" stroke-opacity="0.6"/>
<path d="M1962 944.439 C1960.0 943.0 1954.0 944.2 1950 944.939 C1946.0 945.7 1938.0 947.6 1938 948.939 C1938.0 950.3 1946.0 952.2 1950 952.939 C1954.0 953.7 1960.0 954.9 1962 953.439 C1964.0 952.0 1964.0 945.9 1962 944.439Z" fill="#1d78d4" filter="url(#blf)"/>
<path d="M1962 944.439 C1960.0 943.0 1954.0 944.2 1950 944.939 C1946.0 945.7 1938.0 947.6 1938 948.939 C1938.0 950.3 1946.0 952.2 1950 952.939 C1954.0 953.7 1960.0 954.9 1962 953.439 C1964.0 952.0 1964.0 945.9 1962 944.439Z" fill="none" stroke="#1d2340" stroke-width="0.7" stroke-opacity="0.6"/>
</g>
<rect x="1612.3" y="555" width="347.4" height="377.8" fill="none" stroke="#141c58" stroke-width="1.6" stroke-opacity="0.9"/>
</g>
<path d="M1612.3 781.6H1959.7" stroke="#c8284a" stroke-width="3.5" fill="none"/>
<path d="M1601.1 555.2H1612.3M1601.1 630.65H1612.3M1601.1 706.1H1612.3M1601.1 781.55H1612.3M1601.1 857H1612.3M1605 574.062H1612.3M1605 592.925H1612.3M1605 611.788H1612.3M1605 649.513H1612.3M1605 668.375H1612.3M1605 687.238H1612.3M1605 724.963H1612.3M1605 743.825H1612.3M1605 762.688H1612.3M1605 800.413H1612.3M1605 819.275H1612.3M1605 838.138H1612.3M1605 875.863H1612.3M1605 894.725H1612.3M1605 913.588H1612.3" stroke="#484848" stroke-width="1.8" fill="none"/>
<text transform="translate(1591.6 565.387) scale(1.03 1)" font-size="26.5" text-anchor="end" fill="#262626">−4.62</text>
<text transform="translate(1591.6 640.837) scale(1.03 1)" font-size="26.5" text-anchor="end" fill="#262626">−4.64</text>
<text transform="translate(1591.6 716.287) scale(1.03 1)" font-size="26.5" text-anchor="end" fill="#262626">−4.66</text>
<text transform="translate(1591.6 791.737) scale(1.03 1)" font-size="26.5" text-anchor="end" fill="#262626">−4.68</text>
<text transform="translate(1591.6 867.187) scale(1.03 1)" font-size="26.5" text-anchor="end" fill="#262626">−4.70</text>
<path d="M1612.4 932.8V943.3M1706.75 932.8V943.3M1801.1 932.8V943.3M1895.45 932.8V943.3M1631.27 932.8V939.6M1650.14 932.8V939.6M1669.01 932.8V939.6M1687.88 932.8V939.6M1725.62 932.8V939.6M1744.49 932.8V939.6M1763.36 932.8V939.6M1782.23 932.8V939.6M1819.97 932.8V939.6M1838.84 932.8V939.6M1857.71 932.8V939.6M1876.58 932.8V939.6M1914.32 932.8V939.6M1933.19 932.8V939.6M1952.06 932.8V939.6" stroke="#484848" stroke-width="1.8" fill="none"/>
<text transform="translate(1612.4 971.9) scale(1.03 1)" font-size="26.5" text-anchor="middle" fill="#262626">0.00</text>
<text transform="translate(1706.75 971.9) scale(1.03 1)" font-size="26.5" text-anchor="middle" fill="#262626">0.05</text>
<text transform="translate(1801.1 971.9) scale(1.03 1)" font-size="26.5" text-anchor="middle" fill="#262626">0.10</text>
<text transform="translate(1895.45 971.9) scale(1.03 1)" font-size="26.5" text-anchor="middle" fill="#262626">0.15</text>
<text transform="translate(1509.6 744.1) rotate(-90) scale(0.98 1)" font-size="29.5" text-anchor="middle" fill="#262626">Energy, eV</text>
<text transform="translate(1801 1024.1) scale(1.03 1)" font-size="28.5" text-anchor="middle" fill="#262626">k<tspan font-size="18.5" dy="6">x</tspan><tspan dy="-6">, 1/A</tspan></text>
<rect x="1990" y="899.47" width="18.4" height="5.33" fill="#352a88"/>
<rect x="1990" y="894.75" width="18.4" height="5.33" fill="#362b8a"/>
<rect x="1990" y="890.02" width="18.4" height="5.33" fill="#372c8c"/>
<rect x="1990" y="885.29" width="18.4" height="5.33" fill="#362f92"/>
<rect x="1990" y="880.57" width="18.4" height="5.33" fill="#34359f"/>
<rect x="1990" y="875.84" width="18.4" height="5.33" fill="#333aac"/>
<rect x="1990" y="871.11" width="18.4" height="5.33" fill="#3040b6"/>
<rect x="1990" y="866.39" width="18.4" height="5.33" fill="#2d46be"/>
<rect x="1990" y="861.66" width="18.4" height="5.33" fill="#2a4bc3"/>
<rect x="1990" y="856.93" width="18.4" height="5.33" fill="#2751c6"/>
<rect x="1990" y="852.21" width="18.4" height="5.33" fill="#2456ca"/>
<rect x="1990" y="847.48" width="18.4" height="5.33" fill="#215bce"/>
<rect x="1990" y="842.75" width="18.4" height="5.33" fill="#1e61d0"/>
<rect x="1990" y="838.03" width="18.4" height="5.33" fill="#1b67d1"/>
<rect x="1990" y="833.30" width="18.4" height="5.33" fill="#186dd1"/>
<rect x="1990" y="828.58" width="18.4" height="5.33" fill="#1573d2"/>
<rect x="1990" y="823.85" width="18.4" height="5.33" fill="#1479d2"/>
<rect x="1990" y="819.12" width="18.4" height="5.33" fill="#147ed1"/>
<rect x="1990" y="814.40" width="18.4" height="5.33" fill="#1484d0"/>
<rect x="1990" y="809.67" width="18.4" height="5.33" fill="#1489cf"/>
<rect x="1990" y="804.94" width="18.4" height="5.33" fill="#148dce"/>
<rect x="1990" y="800.22" width="18.4" height="5.33" fill="#1391cd"/>
<rect x="1990" y="795.49" width="18.4" height="5.33" fill="#1395cc"/>
<rect x="1990" y="790.76" width="18.4" height="5.33" fill="#1398cb"/>
<rect x="1990" y="786.04" width="18.4" height="5.33" fill="#129cc9"/>
<rect x="1990" y="781.31" width="18.4" height="5.33" fill="#12a0c8"/>
<rect x="1990" y="776.58" width="18.4" height="5.33" fill="#13a3c6"/>
<rect x="1990" y="771.86" width="18.4" height="5.33" fill="#15a6c3"/>
<rect x="1990" y="767.13" width="18.4" height="5.33" fill="#16a9c0"/>
<rect x="1990" y="762.40" width="18.4" height="5.33" fill="#17acbe"/>
<rect x="1990" y="757.68" width="18.4" height="5.33" fill="#1aafb9"/>
<rect x="1990" y="752.95" width="18.4" height="5.33" fill="#1fb1b3"/>
<rect x="1990" y="748.22" width="18.4" height="5.33" fill="#25b4ae"/>
<rect x="1990" y="743.50" width="18.4" height="5.33" fill="#2ab6a8"/>
<rect x="1990" y="738.77" width="18.4" height="5.33" fill="#32b8a2"/>
<rect x="1990" y="734.04" width="18.4" height="5.33" fill="#3db99c"/>
<rect x="1990" y="729.32" width="18.4" height="5.33" fill="#48ba96"/>
<rect x="1990" y="724.59" width="18.4" height="5.33" fill="#52bc90"/>
<rect x="1990" y="719.86" width="18.4" height="5.33" fill="#5ebc8a"/>
<rect x="1990" y="715.14" width="18.4" height="5.33" fill="#6abc85"/>
<rect x="1990" y="710.41" width="18.4" height="5.33" fill="#76bd81"/>
<rect x="1990" y="705.68" width="18.4" height="5.33" fill="#82bd7c"/>
<rect x="1990" y="700.96" width="18.4" height="5.33" fill="#8ebd77"/>
<rect x="1990" y="696.23" width="18.4" height="5.33" fill="#99bd72"/>
<rect x="1990" y="691.50" width="18.4" height="5.33" fill="#a4bc6d"/>
<rect x="1990" y="686.78" width="18.4" height="5.33" fill="#afbc68"/>
<rect x="1990" y="682.05" width="18.4" height="5.33" fill="#b9bc63"/>
<rect x="1990" y="677.33" width="18.4" height="5.33" fill="#c2bb5f"/>
<rect x="1990" y="672.60" width="18.4" height="5.33" fill="#cbbb5c"/>
<rect x="1990" y="667.87" width="18.4" height="5.33" fill="#d4ba58"/>
<rect x="1990" y="663.15" width="18.4" height="5.33" fill="#dbba54"/>
<rect x="1990" y="658.42" width="18.4" height="5.33" fill="#e0ba52"/>
<rect x="1990" y="653.69" width="18.4" height="5.33" fill="#e6b94f"/>
<rect x="1990" y="648.97" width="18.4" height="5.33" fill="#ebb94c"/>
<rect x="1990" y="644.24" width="18.4" height="5.33" fill="#f0b94a"/>
<rect x="1990" y="639.51" width="18.4" height="5.33" fill="#f2bb46"/>
<rect x="1990" y="634.79" width="18.4" height="5.33" fill="#f4bd42"/>
<rect x="1990" y="630.06" width="18.4" height="5.33" fill="#f6bf3f"/>
<rect x="1990" y="625.33" width="18.4" height="5.33" fill="#f8c23b"/>
<rect x="1990" y="620.61" width="18.4" height="5.33" fill="#f8c736"/>
<rect x="1990" y="615.88" width="18.4" height="5.33" fill="#f9cd31"/>
<rect x="1990" y="611.15" width="18.4" height="5.33" fill="#f9d32d"/>
<rect x="1990" y="606.43" width="18.4" height="5.33" fill="#f9d62b"/>
<rect x="1990" y="601.70" width="18.4" height="5.33" fill="#fad929"/>
<text transform="translate(2014.6 643.187) scale(1.03 1)" font-size="26.5" text-anchor="start" fill="#262626">3.6</text>
<text transform="translate(2014.6 688.187) scale(1.03 1)" font-size="26.5" text-anchor="start" fill="#262626">3.0</text>
<text transform="translate(2014.6 733.187) scale(1.03 1)" font-size="26.5" text-anchor="start" fill="#262626">2.4</text>
<text transform="translate(2014.6 779.187) scale(1.03 1)" font-size="26.5" text-anchor="start" fill="#262626">1.8</text>
<text transform="translate(2014.6 824.187) scale(1.03 1)" font-size="26.5" text-anchor="start" fill="#262626">1.2</text>
<text transform="translate(2014.6 869.187) scale(1.03 1)" font-size="26.5" text-anchor="start" fill="#262626">0.6</text>
<text transform="translate(2014.6 914.187) scale(1.03 1)" font-size="26.5" text-anchor="start" fill="#262626">0.0</text>
<text transform="translate(1980 586.5) scale(0.91 1)" font-size="30" text-anchor="start" fill="#262626">T(E,k<tspan font-size="19" dy="6">x</tspan><tspan dy="-6">)</tspan></text>
<text x="374.5" y="1115.7" font-size="39.5" text-anchor="middle" fill="#000" font-family="'Liberation Serif', 'DejaVu Serif', serif">(<tspan font-weight="bold">a</tspan>)</text>
<text x="1091.6" y="1115.7" font-size="39.5" text-anchor="middle" fill="#000" font-family="'Liberation Serif', 'DejaVu Serif', serif">(<tspan font-weight="bold">b</tspan>)</text>
<text x="1777.3" y="1115.7" font-size="39.5" text-anchor="middle" fill="#000" font-family="'Liberation Serif', 'DejaVu Serif', serif">(<tspan font-weight="bold">c</tspan>)</text>
</svg>
</body></html>
